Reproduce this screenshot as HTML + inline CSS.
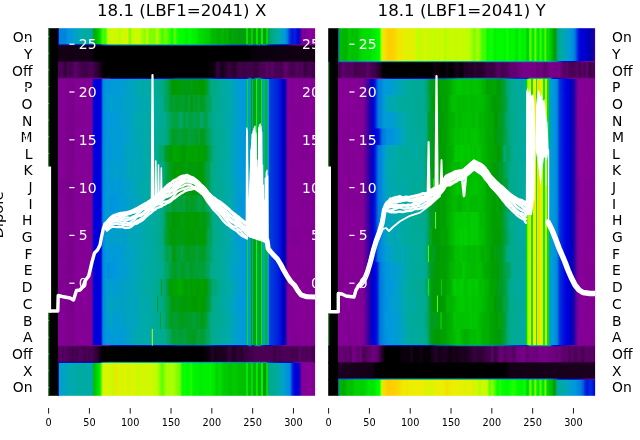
<!DOCTYPE html><html><head><meta charset="utf-8"><title>Dipole heatmap</title><style>html,body{margin:0;padding:0;background:#fff;}body{width:640px;height:440px;overflow:hidden;}svg{display:block;}</style></head><body><svg width="640" height="440" viewBox="0 0 640 440" font-family="'DejaVu Sans','Liberation Sans',sans-serif"><defs><clipPath id="cL"><rect x="48.2" y="28.2" width="266.9" height="367.6"/></clipPath><clipPath id="cR"><rect x="328.2" y="28.2" width="266.8" height="367.6"/></clipPath></defs><defs><linearGradient id="g1"><stop offset="0.000" stop-color="#000000"/><stop offset="0.009" stop-color="#000000"/><stop offset="0.018" stop-color="#000000"/><stop offset="0.028" stop-color="#000000"/><stop offset="0.037" stop-color="#000000"/><stop offset="0.037" stop-color="#0085dd"/><stop offset="0.046" stop-color="#0085dd"/><stop offset="0.055" stop-color="#0085dd"/><stop offset="0.064" stop-color="#0082dd"/><stop offset="0.073" stop-color="#0095dd"/><stop offset="0.083" stop-color="#0095dd"/><stop offset="0.089" stop-color="#0098dd"/><stop offset="0.098" stop-color="#00a0c7"/><stop offset="0.108" stop-color="#00a0c7"/><stop offset="0.119" stop-color="#00aaab"/><stop offset="0.128" stop-color="#00aaab"/><stop offset="0.138" stop-color="#00aa9b"/><stop offset="0.147" stop-color="#00aaa8"/><stop offset="0.156" stop-color="#00aaa0"/><stop offset="0.164" stop-color="#00aaa3"/><stop offset="0.172" stop-color="#00a700"/><stop offset="0.181" stop-color="#00ba00"/><stop offset="0.190" stop-color="#00cc00"/><stop offset="0.194" stop-color="#00dc00"/><stop offset="0.205" stop-color="#49ff00"/><stop offset="0.214" stop-color="#2cff00"/><stop offset="0.224" stop-color="#c4fc00"/><stop offset="0.232" stop-color="#c4fc00"/><stop offset="0.241" stop-color="#d8f500"/><stop offset="0.250" stop-color="#ccf900"/><stop offset="0.259" stop-color="#c8fb00"/><stop offset="0.268" stop-color="#b0ff00"/><stop offset="0.277" stop-color="#d0f800"/><stop offset="0.288" stop-color="#d0f800"/><stop offset="0.297" stop-color="#d8f500"/><stop offset="0.306" stop-color="#75ff00"/><stop offset="0.315" stop-color="#bcff00"/><stop offset="0.324" stop-color="#c8fb00"/><stop offset="0.334" stop-color="#ccf900"/><stop offset="0.344" stop-color="#c4fc00"/><stop offset="0.353" stop-color="#a1ff00"/><stop offset="0.362" stop-color="#84ff00"/><stop offset="0.371" stop-color="#c4fc00"/><stop offset="0.381" stop-color="#75ff00"/><stop offset="0.390" stop-color="#84ff00"/><stop offset="0.399" stop-color="#75ff00"/><stop offset="0.408" stop-color="#bcff00"/><stop offset="0.419" stop-color="#75ff00"/><stop offset="0.428" stop-color="#3bff00"/><stop offset="0.437" stop-color="#75ff00"/><stop offset="0.446" stop-color="#58ff00"/><stop offset="0.456" stop-color="#2cff00"/><stop offset="0.465" stop-color="#00ff00"/><stop offset="0.474" stop-color="#67ff00"/><stop offset="0.483" stop-color="#0fff00"/><stop offset="0.494" stop-color="#00ff00"/><stop offset="0.503" stop-color="#00ff00"/><stop offset="0.512" stop-color="#00fa00"/><stop offset="0.521" stop-color="#00f400"/><stop offset="0.531" stop-color="#00ff00"/><stop offset="0.540" stop-color="#00f400"/><stop offset="0.550" stop-color="#00f200"/><stop offset="0.559" stop-color="#00ea00"/><stop offset="0.568" stop-color="#00dc00"/><stop offset="0.578" stop-color="#00dc00"/><stop offset="0.587" stop-color="#00d400"/><stop offset="0.596" stop-color="#00d200"/><stop offset="0.606" stop-color="#00ca00"/><stop offset="0.615" stop-color="#00b700"/><stop offset="0.625" stop-color="#00ba00"/><stop offset="0.634" stop-color="#00b200"/><stop offset="0.643" stop-color="#00af00"/><stop offset="0.652" stop-color="#00ba00"/><stop offset="0.662" stop-color="#00ac00"/><stop offset="0.672" stop-color="#00b400"/><stop offset="0.681" stop-color="#009f00"/><stop offset="0.690" stop-color="#00aa00"/><stop offset="0.699" stop-color="#009d1d"/><stop offset="0.708" stop-color="#00a400"/><stop offset="0.717" stop-color="#009f00"/><stop offset="0.727" stop-color="#009d1d"/><stop offset="0.737" stop-color="#009f00"/><stop offset="0.741" stop-color="#009f00"/><stop offset="0.743" stop-color="#00e400"/><stop offset="0.747" stop-color="#00e400"/><stop offset="0.749" stop-color="#009f00"/><stop offset="0.760" stop-color="#00a700"/><stop offset="0.762" stop-color="#00dc00"/><stop offset="0.765" stop-color="#00dc00"/><stop offset="0.767" stop-color="#009f00"/><stop offset="0.779" stop-color="#00a700"/><stop offset="0.780" stop-color="#00ea00"/><stop offset="0.784" stop-color="#00ea00"/><stop offset="0.786" stop-color="#009f00"/><stop offset="0.797" stop-color="#00a700"/><stop offset="0.799" stop-color="#00f200"/><stop offset="0.803" stop-color="#00f200"/><stop offset="0.805" stop-color="#009d1d"/><stop offset="0.816" stop-color="#009a00"/><stop offset="0.818" stop-color="#00dc00"/><stop offset="0.822" stop-color="#00dc00"/><stop offset="0.824" stop-color="#00a353"/><stop offset="0.833" stop-color="#00a773"/><stop offset="0.842" stop-color="#00aa88"/><stop offset="0.850" stop-color="#00aa95"/><stop offset="0.859" stop-color="#00aaa5"/><stop offset="0.868" stop-color="#00aaab"/><stop offset="0.877" stop-color="#00a0c7"/><stop offset="0.887" stop-color="#0098dd"/><stop offset="0.896" stop-color="#007ddd"/><stop offset="0.906" stop-color="#002fdd"/><stop offset="0.915" stop-color="#0013dd"/><stop offset="0.924" stop-color="#0025dd"/><stop offset="0.936" stop-color="#0000dd"/><stop offset="0.945" stop-color="#2d00a4"/><stop offset="0.951" stop-color="#870098"/><stop offset="0.960" stop-color="#6d009c"/><stop offset="0.969" stop-color="#83009a"/><stop offset="0.978" stop-color="#870098"/><stop offset="0.988" stop-color="#860097"/><stop offset="0.997" stop-color="#850096"/><stop offset="1.000" stop-color="#850096"/></linearGradient><linearGradient id="g2"><stop offset="0.000" stop-color="#000000"/><stop offset="0.037" stop-color="#000000"/><stop offset="0.037" stop-color="#130015"/><stop offset="0.157" stop-color="#130015"/><stop offset="0.175" stop-color="#000000"/><stop offset="0.756" stop-color="#000000"/><stop offset="0.764" stop-color="#09000b"/><stop offset="1.000" stop-color="#130015"/></linearGradient><linearGradient id="g3"><stop offset="0.000" stop-color="#000000"/><stop offset="0.009" stop-color="#000000"/><stop offset="0.018" stop-color="#000000"/><stop offset="0.028" stop-color="#000000"/><stop offset="0.037" stop-color="#000000"/><stop offset="0.037" stop-color="#4b0055"/><stop offset="0.046" stop-color="#4b0055"/><stop offset="0.055" stop-color="#4b0055"/><stop offset="0.064" stop-color="#2f0035"/><stop offset="0.073" stop-color="#4b0055"/><stop offset="0.083" stop-color="#41004b"/><stop offset="0.092" stop-color="#4b0055"/><stop offset="0.101" stop-color="#5d006b"/><stop offset="0.110" stop-color="#540060"/><stop offset="0.119" stop-color="#4b0055"/><stop offset="0.129" stop-color="#41004b"/><stop offset="0.138" stop-color="#41004b"/><stop offset="0.147" stop-color="#41004b"/><stop offset="0.157" stop-color="#4b0055"/><stop offset="0.166" stop-color="#4b0055"/><stop offset="0.175" stop-color="#380040"/><stop offset="0.184" stop-color="#2f0035"/><stop offset="0.194" stop-color="#1c0020"/><stop offset="0.203" stop-color="#09000b"/><stop offset="0.213" stop-color="#000000"/><stop offset="0.222" stop-color="#000000"/><stop offset="0.231" stop-color="#000000"/><stop offset="0.240" stop-color="#000000"/><stop offset="0.250" stop-color="#000000"/><stop offset="0.259" stop-color="#000000"/><stop offset="0.268" stop-color="#000000"/><stop offset="0.277" stop-color="#000000"/><stop offset="0.286" stop-color="#000000"/><stop offset="0.295" stop-color="#000000"/><stop offset="0.305" stop-color="#000000"/><stop offset="0.314" stop-color="#000000"/><stop offset="0.323" stop-color="#000000"/><stop offset="0.332" stop-color="#000000"/><stop offset="0.341" stop-color="#000000"/><stop offset="0.351" stop-color="#000000"/><stop offset="0.360" stop-color="#000000"/><stop offset="0.369" stop-color="#000000"/><stop offset="0.378" stop-color="#000000"/><stop offset="0.387" stop-color="#000000"/><stop offset="0.396" stop-color="#000000"/><stop offset="0.406" stop-color="#000000"/><stop offset="0.415" stop-color="#000000"/><stop offset="0.424" stop-color="#000000"/><stop offset="0.433" stop-color="#000000"/><stop offset="0.442" stop-color="#000000"/><stop offset="0.451" stop-color="#000000"/><stop offset="0.461" stop-color="#000000"/><stop offset="0.470" stop-color="#000000"/><stop offset="0.479" stop-color="#000000"/><stop offset="0.488" stop-color="#000000"/><stop offset="0.497" stop-color="#000000"/><stop offset="0.507" stop-color="#000000"/><stop offset="0.516" stop-color="#000000"/><stop offset="0.525" stop-color="#000000"/><stop offset="0.534" stop-color="#000000"/><stop offset="0.543" stop-color="#000000"/><stop offset="0.552" stop-color="#000000"/><stop offset="0.562" stop-color="#000000"/><stop offset="0.571" stop-color="#000000"/><stop offset="0.580" stop-color="#000000"/><stop offset="0.587" stop-color="#000000"/><stop offset="0.597" stop-color="#000000"/><stop offset="0.606" stop-color="#09000b"/><stop offset="0.615" stop-color="#09000b"/><stop offset="0.625" stop-color="#130015"/><stop offset="0.634" stop-color="#380040"/><stop offset="0.643" stop-color="#25002b"/><stop offset="0.652" stop-color="#130015"/><stop offset="0.662" stop-color="#25002b"/><stop offset="0.671" stop-color="#2f0035"/><stop offset="0.680" stop-color="#380040"/><stop offset="0.689" stop-color="#2f0035"/><stop offset="0.698" stop-color="#25002b"/><stop offset="0.708" stop-color="#380040"/><stop offset="0.717" stop-color="#41004b"/><stop offset="0.726" stop-color="#41004b"/><stop offset="0.735" stop-color="#380040"/><stop offset="0.744" stop-color="#41004b"/><stop offset="0.756" stop-color="#41004b"/><stop offset="0.765" stop-color="#41004b"/><stop offset="0.774" stop-color="#380040"/><stop offset="0.784" stop-color="#380040"/><stop offset="0.793" stop-color="#4b0055"/><stop offset="0.802" stop-color="#4b0055"/><stop offset="0.811" stop-color="#4b0055"/><stop offset="0.820" stop-color="#5d006b"/><stop offset="0.830" stop-color="#4b0055"/><stop offset="0.839" stop-color="#5d006b"/><stop offset="0.848" stop-color="#4b0055"/><stop offset="0.857" stop-color="#4b0055"/><stop offset="0.866" stop-color="#4b0055"/><stop offset="0.875" stop-color="#41004b"/><stop offset="0.885" stop-color="#5d006b"/><stop offset="0.894" stop-color="#5d006b"/><stop offset="0.906" stop-color="#4b0055"/><stop offset="0.915" stop-color="#41004b"/><stop offset="0.924" stop-color="#4b0055"/><stop offset="0.933" stop-color="#540060"/><stop offset="0.943" stop-color="#4b0055"/><stop offset="0.952" stop-color="#540060"/><stop offset="0.961" stop-color="#380040"/><stop offset="0.970" stop-color="#41004b"/><stop offset="0.979" stop-color="#4b0055"/><stop offset="0.989" stop-color="#41004b"/><stop offset="1.000" stop-color="#41004b"/></linearGradient><linearGradient id="g4"><stop offset="0.000" stop-color="#000000"/><stop offset="0.009" stop-color="#000000"/><stop offset="0.018" stop-color="#000000"/><stop offset="0.028" stop-color="#000000"/><stop offset="0.037" stop-color="#000000"/><stop offset="0.037" stop-color="#830094"/><stop offset="0.046" stop-color="#810092"/><stop offset="0.055" stop-color="#830094"/><stop offset="0.063" stop-color="#820093"/><stop offset="0.069" stop-color="#7f0090"/><stop offset="0.072" stop-color="#7b008c"/><stop offset="0.081" stop-color="#7d008e"/><stop offset="0.090" stop-color="#7b008c"/><stop offset="0.099" stop-color="#7b008c"/><stop offset="0.100" stop-color="#850096"/><stop offset="0.110" stop-color="#830094"/><stop offset="0.119" stop-color="#820093"/><stop offset="0.128" stop-color="#830094"/><stop offset="0.137" stop-color="#830094"/><stop offset="0.145" stop-color="#850096"/><stop offset="0.153" stop-color="#820093"/><stop offset="0.164" stop-color="#830094"/><stop offset="0.170" stop-color="#0000dd"/><stop offset="0.179" stop-color="#0000dd"/><stop offset="0.188" stop-color="#0000dd"/><stop offset="0.198" stop-color="#0000dd"/><stop offset="0.205" stop-color="#0088dd"/><stop offset="0.217" stop-color="#0098dd"/><stop offset="0.226" stop-color="#0095dd"/><stop offset="0.235" stop-color="#0098dd"/><stop offset="0.244" stop-color="#009cd3"/><stop offset="0.253" stop-color="#009bd7"/><stop offset="0.262" stop-color="#009adb"/><stop offset="0.272" stop-color="#009fcb"/><stop offset="0.277" stop-color="#009cd3"/><stop offset="0.286" stop-color="#009cd3"/><stop offset="0.295" stop-color="#00a0c7"/><stop offset="0.304" stop-color="#00a2c3"/><stop offset="0.313" stop-color="#00a4bb"/><stop offset="0.321" stop-color="#00a4bb"/><stop offset="0.331" stop-color="#00a7b3"/><stop offset="0.340" stop-color="#00a8af"/><stop offset="0.349" stop-color="#00aaa8"/><stop offset="0.358" stop-color="#00aaa3"/><stop offset="0.367" stop-color="#00aaab"/><stop offset="0.377" stop-color="#00aaa3"/><stop offset="0.381" stop-color="#00aaa3"/><stop offset="0.391" stop-color="#00aa95"/><stop offset="0.400" stop-color="#00aa95"/><stop offset="0.409" stop-color="#00aa93"/><stop offset="0.418" stop-color="#00aa8d"/><stop offset="0.430" stop-color="#00a97d"/><stop offset="0.439" stop-color="#00a668"/><stop offset="0.448" stop-color="#00a353"/><stop offset="0.458" stop-color="#009e28"/><stop offset="0.464" stop-color="#009a00"/><stop offset="0.473" stop-color="#009a00"/><stop offset="0.482" stop-color="#009c00"/><stop offset="0.491" stop-color="#009a08"/><stop offset="0.501" stop-color="#009b13"/><stop offset="0.510" stop-color="#009a08"/><stop offset="0.519" stop-color="#009b13"/><stop offset="0.528" stop-color="#009a08"/><stop offset="0.537" stop-color="#009d1d"/><stop offset="0.546" stop-color="#009a08"/><stop offset="0.556" stop-color="#009c00"/><stop offset="0.565" stop-color="#009a08"/><stop offset="0.574" stop-color="#009a00"/><stop offset="0.584" stop-color="#009a00"/><stop offset="0.593" stop-color="#009d1d"/><stop offset="0.602" stop-color="#00a353"/><stop offset="0.611" stop-color="#00aa88"/><stop offset="0.617" stop-color="#00aa88"/><stop offset="0.627" stop-color="#00a97d"/><stop offset="0.636" stop-color="#00aa95"/><stop offset="0.645" stop-color="#00aa95"/><stop offset="0.654" stop-color="#00aaa5"/><stop offset="0.666" stop-color="#00aaa3"/><stop offset="0.675" stop-color="#00a7b3"/><stop offset="0.685" stop-color="#00aaa5"/><stop offset="0.694" stop-color="#00a3bf"/><stop offset="0.704" stop-color="#009fcb"/><stop offset="0.713" stop-color="#009cd3"/><stop offset="0.722" stop-color="#009adb"/><stop offset="0.734" stop-color="#0098dd"/><stop offset="0.739" stop-color="#0098dd"/><stop offset="0.743" stop-color="#0098dd"/><stop offset="0.743" stop-color="#00e400"/><stop offset="0.747" stop-color="#00e400"/><stop offset="0.747" stop-color="#0098dd"/><stop offset="0.758" stop-color="#00a3bf"/><stop offset="0.758" stop-color="#009f00"/><stop offset="0.764" stop-color="#009f00"/><stop offset="0.764" stop-color="#00aaa3"/><stop offset="0.767" stop-color="#00aaa3"/><stop offset="0.767" stop-color="#00a700"/><stop offset="0.779" stop-color="#00a700"/><stop offset="0.779" stop-color="#00ff00"/><stop offset="0.783" stop-color="#00ff00"/><stop offset="0.783" stop-color="#00a353"/><stop offset="0.792" stop-color="#009f33"/><stop offset="0.797" stop-color="#009d1d"/><stop offset="0.797" stop-color="#00f200"/><stop offset="0.801" stop-color="#00f200"/><stop offset="0.801" stop-color="#00aaa3"/><stop offset="0.810" stop-color="#00a8af"/><stop offset="0.814" stop-color="#00a7b3"/><stop offset="0.814" stop-color="#00bc00"/><stop offset="0.818" stop-color="#00bc00"/><stop offset="0.818" stop-color="#009fcb"/><stop offset="0.827" stop-color="#0098dd"/><stop offset="0.829" stop-color="#0041dd"/><stop offset="0.838" stop-color="#0038dd"/><stop offset="0.848" stop-color="#002fdd"/><stop offset="0.857" stop-color="#0025dd"/><stop offset="0.868" stop-color="#0013dd"/><stop offset="0.878" stop-color="#0000cd"/><stop offset="0.887" stop-color="#0000b1"/><stop offset="0.898" stop-color="#870098"/><stop offset="0.902" stop-color="#850096"/><stop offset="0.911" stop-color="#820093"/><stop offset="0.921" stop-color="#850096"/><stop offset="0.930" stop-color="#850096"/><stop offset="0.939" stop-color="#850096"/><stop offset="0.948" stop-color="#820093"/><stop offset="0.957" stop-color="#850096"/><stop offset="0.966" stop-color="#850096"/><stop offset="0.976" stop-color="#850096"/><stop offset="0.985" stop-color="#830094"/><stop offset="0.994" stop-color="#860097"/><stop offset="1.000" stop-color="#850096"/></linearGradient><linearGradient id="g5"><stop offset="0.000" stop-color="#000000"/><stop offset="0.009" stop-color="#000000"/><stop offset="0.018" stop-color="#000000"/><stop offset="0.028" stop-color="#000000"/><stop offset="0.037" stop-color="#000000"/><stop offset="0.037" stop-color="#830094"/><stop offset="0.046" stop-color="#830094"/><stop offset="0.055" stop-color="#830094"/><stop offset="0.063" stop-color="#820093"/><stop offset="0.069" stop-color="#7f0090"/><stop offset="0.072" stop-color="#7b008c"/><stop offset="0.081" stop-color="#7f0090"/><stop offset="0.090" stop-color="#7b008c"/><stop offset="0.099" stop-color="#7b008c"/><stop offset="0.100" stop-color="#850096"/><stop offset="0.110" stop-color="#860097"/><stop offset="0.119" stop-color="#820093"/><stop offset="0.128" stop-color="#830094"/><stop offset="0.137" stop-color="#830094"/><stop offset="0.145" stop-color="#850096"/><stop offset="0.153" stop-color="#820093"/><stop offset="0.164" stop-color="#830094"/><stop offset="0.170" stop-color="#0000dd"/><stop offset="0.179" stop-color="#0000dd"/><stop offset="0.188" stop-color="#0000dd"/><stop offset="0.198" stop-color="#0000dd"/><stop offset="0.205" stop-color="#0088dd"/><stop offset="0.217" stop-color="#009bd7"/><stop offset="0.226" stop-color="#009bd7"/><stop offset="0.235" stop-color="#009ecf"/><stop offset="0.244" stop-color="#009ecf"/><stop offset="0.253" stop-color="#009ecf"/><stop offset="0.262" stop-color="#009ecf"/><stop offset="0.272" stop-color="#009adb"/><stop offset="0.277" stop-color="#009fcb"/><stop offset="0.286" stop-color="#00a3bf"/><stop offset="0.295" stop-color="#00a0c7"/><stop offset="0.304" stop-color="#00a0c7"/><stop offset="0.313" stop-color="#00a0c7"/><stop offset="0.321" stop-color="#00a4bb"/><stop offset="0.331" stop-color="#00a4bb"/><stop offset="0.340" stop-color="#00a8af"/><stop offset="0.349" stop-color="#00a7b3"/><stop offset="0.358" stop-color="#00a8af"/><stop offset="0.367" stop-color="#00a8af"/><stop offset="0.377" stop-color="#00aaa8"/><stop offset="0.381" stop-color="#00aaa3"/><stop offset="0.391" stop-color="#00aa98"/><stop offset="0.400" stop-color="#00aaa0"/><stop offset="0.409" stop-color="#00aa95"/><stop offset="0.418" stop-color="#00aa98"/><stop offset="0.430" stop-color="#00aa8b"/><stop offset="0.439" stop-color="#00a55d"/><stop offset="0.448" stop-color="#00a55d"/><stop offset="0.458" stop-color="#009e28"/><stop offset="0.464" stop-color="#009e28"/><stop offset="0.473" stop-color="#009f33"/><stop offset="0.482" stop-color="#009d1d"/><stop offset="0.491" stop-color="#009e28"/><stop offset="0.501" stop-color="#009f33"/><stop offset="0.510" stop-color="#009e28"/><stop offset="0.519" stop-color="#009b13"/><stop offset="0.528" stop-color="#00a13d"/><stop offset="0.537" stop-color="#009a08"/><stop offset="0.546" stop-color="#009f33"/><stop offset="0.556" stop-color="#009d1d"/><stop offset="0.565" stop-color="#00a13d"/><stop offset="0.574" stop-color="#009b13"/><stop offset="0.584" stop-color="#009e28"/><stop offset="0.593" stop-color="#00a248"/><stop offset="0.602" stop-color="#00a55d"/><stop offset="0.611" stop-color="#00a668"/><stop offset="0.617" stop-color="#00aa8b"/><stop offset="0.627" stop-color="#00aa8d"/><stop offset="0.636" stop-color="#00aa95"/><stop offset="0.645" stop-color="#00aa9b"/><stop offset="0.654" stop-color="#00aa9b"/><stop offset="0.666" stop-color="#00aaa3"/><stop offset="0.675" stop-color="#00aaa5"/><stop offset="0.685" stop-color="#00aaab"/><stop offset="0.694" stop-color="#00a3bf"/><stop offset="0.704" stop-color="#009fcb"/><stop offset="0.713" stop-color="#009ecf"/><stop offset="0.722" stop-color="#009bd7"/><stop offset="0.734" stop-color="#0098dd"/><stop offset="0.739" stop-color="#0098dd"/><stop offset="0.743" stop-color="#0098dd"/><stop offset="0.743" stop-color="#00e400"/><stop offset="0.747" stop-color="#00e400"/><stop offset="0.747" stop-color="#0098dd"/><stop offset="0.758" stop-color="#00a3bf"/><stop offset="0.758" stop-color="#009f00"/><stop offset="0.764" stop-color="#009f00"/><stop offset="0.764" stop-color="#00aaa3"/><stop offset="0.767" stop-color="#00aaa3"/><stop offset="0.767" stop-color="#00a700"/><stop offset="0.779" stop-color="#00a700"/><stop offset="0.779" stop-color="#00ff00"/><stop offset="0.783" stop-color="#00ff00"/><stop offset="0.783" stop-color="#00a353"/><stop offset="0.792" stop-color="#009f33"/><stop offset="0.797" stop-color="#009d1d"/><stop offset="0.797" stop-color="#00f200"/><stop offset="0.801" stop-color="#00f200"/><stop offset="0.801" stop-color="#00aaa3"/><stop offset="0.810" stop-color="#00a8af"/><stop offset="0.814" stop-color="#00a7b3"/><stop offset="0.814" stop-color="#00bc00"/><stop offset="0.818" stop-color="#00bc00"/><stop offset="0.818" stop-color="#009fcb"/><stop offset="0.827" stop-color="#0098dd"/><stop offset="0.829" stop-color="#0041dd"/><stop offset="0.838" stop-color="#0038dd"/><stop offset="0.848" stop-color="#002fdd"/><stop offset="0.857" stop-color="#0025dd"/><stop offset="0.868" stop-color="#0013dd"/><stop offset="0.878" stop-color="#0000cd"/><stop offset="0.887" stop-color="#0000b1"/><stop offset="0.898" stop-color="#870098"/><stop offset="0.902" stop-color="#850096"/><stop offset="0.911" stop-color="#830094"/><stop offset="0.921" stop-color="#850096"/><stop offset="0.930" stop-color="#830094"/><stop offset="0.939" stop-color="#830094"/><stop offset="0.948" stop-color="#820093"/><stop offset="0.957" stop-color="#830094"/><stop offset="0.966" stop-color="#830094"/><stop offset="0.976" stop-color="#860097"/><stop offset="0.985" stop-color="#860097"/><stop offset="0.994" stop-color="#860097"/><stop offset="1.000" stop-color="#850096"/></linearGradient><linearGradient id="g6"><stop offset="0.000" stop-color="#000000"/><stop offset="0.009" stop-color="#000000"/><stop offset="0.018" stop-color="#000000"/><stop offset="0.028" stop-color="#000000"/><stop offset="0.037" stop-color="#000000"/><stop offset="0.037" stop-color="#830094"/><stop offset="0.046" stop-color="#830094"/><stop offset="0.055" stop-color="#830094"/><stop offset="0.063" stop-color="#820093"/><stop offset="0.069" stop-color="#7f0090"/><stop offset="0.072" stop-color="#7b008c"/><stop offset="0.081" stop-color="#79008a"/><stop offset="0.090" stop-color="#7a008b"/><stop offset="0.099" stop-color="#7b008c"/><stop offset="0.100" stop-color="#850096"/><stop offset="0.110" stop-color="#7f0090"/><stop offset="0.119" stop-color="#830094"/><stop offset="0.128" stop-color="#830094"/><stop offset="0.137" stop-color="#850096"/><stop offset="0.145" stop-color="#850096"/><stop offset="0.153" stop-color="#820093"/><stop offset="0.164" stop-color="#830094"/><stop offset="0.170" stop-color="#0000dd"/><stop offset="0.179" stop-color="#0000dd"/><stop offset="0.188" stop-color="#0000dd"/><stop offset="0.198" stop-color="#0000dd"/><stop offset="0.205" stop-color="#0088dd"/><stop offset="0.217" stop-color="#0098dd"/><stop offset="0.226" stop-color="#0098dd"/><stop offset="0.235" stop-color="#0098dd"/><stop offset="0.244" stop-color="#009adb"/><stop offset="0.253" stop-color="#009cd3"/><stop offset="0.262" stop-color="#009adb"/><stop offset="0.272" stop-color="#009fcb"/><stop offset="0.277" stop-color="#009cd3"/><stop offset="0.286" stop-color="#00a2c3"/><stop offset="0.295" stop-color="#009ecf"/><stop offset="0.304" stop-color="#00a3bf"/><stop offset="0.313" stop-color="#00a3bf"/><stop offset="0.321" stop-color="#00a4bb"/><stop offset="0.331" stop-color="#00aaab"/><stop offset="0.340" stop-color="#00aaab"/><stop offset="0.349" stop-color="#00a8af"/><stop offset="0.358" stop-color="#00aaab"/><stop offset="0.367" stop-color="#00aaa8"/><stop offset="0.377" stop-color="#00aa9d"/><stop offset="0.381" stop-color="#00aaa3"/><stop offset="0.391" stop-color="#00aaa5"/><stop offset="0.400" stop-color="#00aaa0"/><stop offset="0.409" stop-color="#00aa9b"/><stop offset="0.418" stop-color="#00aa93"/><stop offset="0.430" stop-color="#00aa90"/><stop offset="0.439" stop-color="#00aa8d"/><stop offset="0.448" stop-color="#00a773"/><stop offset="0.458" stop-color="#00a55d"/><stop offset="0.464" stop-color="#00a248"/><stop offset="0.473" stop-color="#00a13d"/><stop offset="0.482" stop-color="#00a13d"/><stop offset="0.491" stop-color="#00a55d"/><stop offset="0.501" stop-color="#00a668"/><stop offset="0.510" stop-color="#009f33"/><stop offset="0.519" stop-color="#00a55d"/><stop offset="0.528" stop-color="#00a13d"/><stop offset="0.537" stop-color="#00a13d"/><stop offset="0.546" stop-color="#00a353"/><stop offset="0.556" stop-color="#00a248"/><stop offset="0.565" stop-color="#00a13d"/><stop offset="0.574" stop-color="#00a773"/><stop offset="0.584" stop-color="#00a248"/><stop offset="0.593" stop-color="#00a248"/><stop offset="0.602" stop-color="#00a773"/><stop offset="0.611" stop-color="#00a97d"/><stop offset="0.617" stop-color="#00aa8d"/><stop offset="0.627" stop-color="#00aa93"/><stop offset="0.636" stop-color="#00aa93"/><stop offset="0.645" stop-color="#00aa9d"/><stop offset="0.654" stop-color="#00aa98"/><stop offset="0.666" stop-color="#00aaa3"/><stop offset="0.675" stop-color="#00a8af"/><stop offset="0.685" stop-color="#00a7b3"/><stop offset="0.694" stop-color="#00a6b7"/><stop offset="0.704" stop-color="#009fcb"/><stop offset="0.713" stop-color="#009fcb"/><stop offset="0.722" stop-color="#009bd7"/><stop offset="0.734" stop-color="#0098dd"/><stop offset="0.739" stop-color="#0098dd"/><stop offset="0.743" stop-color="#0098dd"/><stop offset="0.743" stop-color="#00e400"/><stop offset="0.747" stop-color="#00e400"/><stop offset="0.747" stop-color="#0098dd"/><stop offset="0.758" stop-color="#00a3bf"/><stop offset="0.758" stop-color="#009f00"/><stop offset="0.764" stop-color="#009f00"/><stop offset="0.764" stop-color="#00aaa3"/><stop offset="0.767" stop-color="#00aaa3"/><stop offset="0.767" stop-color="#00a700"/><stop offset="0.779" stop-color="#00a700"/><stop offset="0.779" stop-color="#00ff00"/><stop offset="0.783" stop-color="#00ff00"/><stop offset="0.783" stop-color="#00a353"/><stop offset="0.792" stop-color="#009f33"/><stop offset="0.797" stop-color="#009d1d"/><stop offset="0.797" stop-color="#00f200"/><stop offset="0.801" stop-color="#00f200"/><stop offset="0.801" stop-color="#00aaa3"/><stop offset="0.810" stop-color="#00a8af"/><stop offset="0.814" stop-color="#00a7b3"/><stop offset="0.814" stop-color="#00bc00"/><stop offset="0.818" stop-color="#00bc00"/><stop offset="0.818" stop-color="#009fcb"/><stop offset="0.827" stop-color="#0098dd"/><stop offset="0.829" stop-color="#0041dd"/><stop offset="0.838" stop-color="#0038dd"/><stop offset="0.848" stop-color="#002fdd"/><stop offset="0.857" stop-color="#0025dd"/><stop offset="0.868" stop-color="#0013dd"/><stop offset="0.878" stop-color="#0000cd"/><stop offset="0.887" stop-color="#0000b1"/><stop offset="0.898" stop-color="#870098"/><stop offset="0.902" stop-color="#850096"/><stop offset="0.911" stop-color="#850096"/><stop offset="0.921" stop-color="#830094"/><stop offset="0.930" stop-color="#820093"/><stop offset="0.939" stop-color="#820093"/><stop offset="0.948" stop-color="#830094"/><stop offset="0.957" stop-color="#830094"/><stop offset="0.966" stop-color="#860097"/><stop offset="0.976" stop-color="#850096"/><stop offset="0.985" stop-color="#830094"/><stop offset="0.994" stop-color="#830094"/><stop offset="1.000" stop-color="#850096"/></linearGradient><linearGradient id="g7"><stop offset="0.000" stop-color="#000000"/><stop offset="0.009" stop-color="#000000"/><stop offset="0.018" stop-color="#000000"/><stop offset="0.028" stop-color="#000000"/><stop offset="0.037" stop-color="#000000"/><stop offset="0.037" stop-color="#830094"/><stop offset="0.046" stop-color="#830094"/><stop offset="0.055" stop-color="#820093"/><stop offset="0.063" stop-color="#820093"/><stop offset="0.069" stop-color="#7f0090"/><stop offset="0.072" stop-color="#7b008c"/><stop offset="0.081" stop-color="#7d008e"/><stop offset="0.090" stop-color="#770088"/><stop offset="0.099" stop-color="#7b008c"/><stop offset="0.100" stop-color="#850096"/><stop offset="0.110" stop-color="#860097"/><stop offset="0.119" stop-color="#860097"/><stop offset="0.128" stop-color="#820093"/><stop offset="0.137" stop-color="#830094"/><stop offset="0.145" stop-color="#850096"/><stop offset="0.153" stop-color="#820093"/><stop offset="0.164" stop-color="#830094"/><stop offset="0.170" stop-color="#0000dd"/><stop offset="0.179" stop-color="#0000dd"/><stop offset="0.188" stop-color="#0000dd"/><stop offset="0.198" stop-color="#0000dd"/><stop offset="0.205" stop-color="#0088dd"/><stop offset="0.217" stop-color="#0098dd"/><stop offset="0.226" stop-color="#009adb"/><stop offset="0.235" stop-color="#009bd7"/><stop offset="0.244" stop-color="#009bd7"/><stop offset="0.253" stop-color="#009ecf"/><stop offset="0.262" stop-color="#009adb"/><stop offset="0.272" stop-color="#009bd7"/><stop offset="0.277" stop-color="#009cd3"/><stop offset="0.286" stop-color="#00a2c3"/><stop offset="0.295" stop-color="#009cd3"/><stop offset="0.304" stop-color="#00a2c3"/><stop offset="0.313" stop-color="#00a3bf"/><stop offset="0.321" stop-color="#00a4bb"/><stop offset="0.331" stop-color="#00a6b7"/><stop offset="0.340" stop-color="#00aaa8"/><stop offset="0.349" stop-color="#00a7b3"/><stop offset="0.358" stop-color="#00aaa8"/><stop offset="0.367" stop-color="#00aaa8"/><stop offset="0.377" stop-color="#00aaa8"/><stop offset="0.381" stop-color="#00aaa3"/><stop offset="0.391" stop-color="#00aa9b"/><stop offset="0.400" stop-color="#00aa9b"/><stop offset="0.409" stop-color="#00aa95"/><stop offset="0.418" stop-color="#00aa90"/><stop offset="0.430" stop-color="#00aa8b"/><stop offset="0.439" stop-color="#00aa88"/><stop offset="0.448" stop-color="#00a773"/><stop offset="0.458" stop-color="#00a248"/><stop offset="0.464" stop-color="#009d1d"/><stop offset="0.473" stop-color="#009e28"/><stop offset="0.482" stop-color="#009e28"/><stop offset="0.491" stop-color="#00a13d"/><stop offset="0.501" stop-color="#009f33"/><stop offset="0.510" stop-color="#009e28"/><stop offset="0.519" stop-color="#009e28"/><stop offset="0.528" stop-color="#00a13d"/><stop offset="0.537" stop-color="#009f33"/><stop offset="0.546" stop-color="#009f33"/><stop offset="0.556" stop-color="#009d1d"/><stop offset="0.565" stop-color="#00a13d"/><stop offset="0.574" stop-color="#009b13"/><stop offset="0.584" stop-color="#009d1d"/><stop offset="0.593" stop-color="#00a13d"/><stop offset="0.602" stop-color="#00a55d"/><stop offset="0.611" stop-color="#00a773"/><stop offset="0.617" stop-color="#00aa8b"/><stop offset="0.627" stop-color="#00aa8d"/><stop offset="0.636" stop-color="#00aa98"/><stop offset="0.645" stop-color="#00aa95"/><stop offset="0.654" stop-color="#00aa93"/><stop offset="0.666" stop-color="#00aaa3"/><stop offset="0.675" stop-color="#00aaab"/><stop offset="0.685" stop-color="#00a8af"/><stop offset="0.694" stop-color="#00a2c3"/><stop offset="0.704" stop-color="#009fcb"/><stop offset="0.713" stop-color="#009cd3"/><stop offset="0.722" stop-color="#009cd3"/><stop offset="0.734" stop-color="#0098dd"/><stop offset="0.739" stop-color="#0098dd"/><stop offset="0.743" stop-color="#0098dd"/><stop offset="0.743" stop-color="#00e400"/><stop offset="0.747" stop-color="#00e400"/><stop offset="0.747" stop-color="#0098dd"/><stop offset="0.758" stop-color="#00a3bf"/><stop offset="0.758" stop-color="#009f00"/><stop offset="0.764" stop-color="#009f00"/><stop offset="0.764" stop-color="#00aaa3"/><stop offset="0.767" stop-color="#00aaa3"/><stop offset="0.767" stop-color="#00a700"/><stop offset="0.779" stop-color="#00a700"/><stop offset="0.779" stop-color="#00ff00"/><stop offset="0.783" stop-color="#00ff00"/><stop offset="0.783" stop-color="#00a353"/><stop offset="0.792" stop-color="#009f33"/><stop offset="0.797" stop-color="#009d1d"/><stop offset="0.797" stop-color="#00f200"/><stop offset="0.801" stop-color="#00f200"/><stop offset="0.801" stop-color="#00aaa3"/><stop offset="0.810" stop-color="#00a8af"/><stop offset="0.814" stop-color="#00a7b3"/><stop offset="0.814" stop-color="#00bc00"/><stop offset="0.818" stop-color="#00bc00"/><stop offset="0.818" stop-color="#009fcb"/><stop offset="0.827" stop-color="#0098dd"/><stop offset="0.829" stop-color="#0041dd"/><stop offset="0.838" stop-color="#0038dd"/><stop offset="0.848" stop-color="#002fdd"/><stop offset="0.857" stop-color="#0025dd"/><stop offset="0.868" stop-color="#0013dd"/><stop offset="0.878" stop-color="#0000cd"/><stop offset="0.887" stop-color="#0000b1"/><stop offset="0.898" stop-color="#870098"/><stop offset="0.902" stop-color="#850096"/><stop offset="0.911" stop-color="#830094"/><stop offset="0.921" stop-color="#830094"/><stop offset="0.930" stop-color="#850096"/><stop offset="0.939" stop-color="#830094"/><stop offset="0.948" stop-color="#850096"/><stop offset="0.957" stop-color="#850096"/><stop offset="0.966" stop-color="#810092"/><stop offset="0.976" stop-color="#850096"/><stop offset="0.985" stop-color="#860097"/><stop offset="0.994" stop-color="#850096"/><stop offset="1.000" stop-color="#850096"/></linearGradient><linearGradient id="g8"><stop offset="0.000" stop-color="#000000"/><stop offset="0.009" stop-color="#000000"/><stop offset="0.018" stop-color="#000000"/><stop offset="0.028" stop-color="#000000"/><stop offset="0.037" stop-color="#000000"/><stop offset="0.037" stop-color="#830094"/><stop offset="0.046" stop-color="#820093"/><stop offset="0.055" stop-color="#820093"/><stop offset="0.063" stop-color="#820093"/><stop offset="0.069" stop-color="#7f0090"/><stop offset="0.072" stop-color="#7b008c"/><stop offset="0.081" stop-color="#7e008f"/><stop offset="0.090" stop-color="#7b008c"/><stop offset="0.099" stop-color="#7b008c"/><stop offset="0.100" stop-color="#850096"/><stop offset="0.110" stop-color="#850096"/><stop offset="0.119" stop-color="#820093"/><stop offset="0.128" stop-color="#860097"/><stop offset="0.137" stop-color="#830094"/><stop offset="0.145" stop-color="#850096"/><stop offset="0.153" stop-color="#820093"/><stop offset="0.164" stop-color="#830094"/><stop offset="0.170" stop-color="#0000dd"/><stop offset="0.179" stop-color="#0000dd"/><stop offset="0.188" stop-color="#0000dd"/><stop offset="0.198" stop-color="#0000dd"/><stop offset="0.205" stop-color="#0088dd"/><stop offset="0.217" stop-color="#009bd7"/><stop offset="0.226" stop-color="#009adb"/><stop offset="0.235" stop-color="#0095dd"/><stop offset="0.244" stop-color="#009ecf"/><stop offset="0.253" stop-color="#009bd7"/><stop offset="0.262" stop-color="#009cd3"/><stop offset="0.272" stop-color="#009adb"/><stop offset="0.277" stop-color="#009fcb"/><stop offset="0.286" stop-color="#009fcb"/><stop offset="0.295" stop-color="#00a3bf"/><stop offset="0.304" stop-color="#00a4bb"/><stop offset="0.313" stop-color="#00a2c3"/><stop offset="0.321" stop-color="#00a4bb"/><stop offset="0.331" stop-color="#00a7b3"/><stop offset="0.340" stop-color="#00a7b3"/><stop offset="0.349" stop-color="#00a4bb"/><stop offset="0.358" stop-color="#00aaab"/><stop offset="0.367" stop-color="#00aaa8"/><stop offset="0.377" stop-color="#00aaa8"/><stop offset="0.381" stop-color="#00aaa3"/><stop offset="0.391" stop-color="#00aa95"/><stop offset="0.400" stop-color="#00aa95"/><stop offset="0.409" stop-color="#00aa93"/><stop offset="0.418" stop-color="#00a668"/><stop offset="0.430" stop-color="#00a773"/><stop offset="0.439" stop-color="#009e28"/><stop offset="0.448" stop-color="#009d1d"/><stop offset="0.458" stop-color="#009c00"/><stop offset="0.464" stop-color="#009f00"/><stop offset="0.473" stop-color="#00a700"/><stop offset="0.482" stop-color="#00a400"/><stop offset="0.491" stop-color="#00a400"/><stop offset="0.501" stop-color="#009c00"/><stop offset="0.510" stop-color="#009a00"/><stop offset="0.519" stop-color="#00a400"/><stop offset="0.528" stop-color="#00a200"/><stop offset="0.537" stop-color="#00a200"/><stop offset="0.546" stop-color="#00a200"/><stop offset="0.556" stop-color="#00a400"/><stop offset="0.565" stop-color="#009c00"/><stop offset="0.574" stop-color="#00a200"/><stop offset="0.584" stop-color="#009f00"/><stop offset="0.593" stop-color="#009b13"/><stop offset="0.602" stop-color="#00a13d"/><stop offset="0.611" stop-color="#00a55d"/><stop offset="0.617" stop-color="#00a97d"/><stop offset="0.627" stop-color="#00aa8d"/><stop offset="0.636" stop-color="#00aa95"/><stop offset="0.645" stop-color="#00aa93"/><stop offset="0.654" stop-color="#00aaa0"/><stop offset="0.666" stop-color="#00aaa3"/><stop offset="0.675" stop-color="#00aaa5"/><stop offset="0.685" stop-color="#00a8af"/><stop offset="0.694" stop-color="#00a2c3"/><stop offset="0.704" stop-color="#009fcb"/><stop offset="0.713" stop-color="#009ecf"/><stop offset="0.722" stop-color="#009adb"/><stop offset="0.734" stop-color="#0098dd"/><stop offset="0.739" stop-color="#0098dd"/><stop offset="0.743" stop-color="#0098dd"/><stop offset="0.743" stop-color="#00e400"/><stop offset="0.747" stop-color="#00e400"/><stop offset="0.747" stop-color="#0098dd"/><stop offset="0.758" stop-color="#00a3bf"/><stop offset="0.758" stop-color="#009f00"/><stop offset="0.764" stop-color="#009f00"/><stop offset="0.764" stop-color="#00aaa3"/><stop offset="0.767" stop-color="#00aaa3"/><stop offset="0.767" stop-color="#00a700"/><stop offset="0.779" stop-color="#00a700"/><stop offset="0.779" stop-color="#00ff00"/><stop offset="0.783" stop-color="#00ff00"/><stop offset="0.783" stop-color="#00a353"/><stop offset="0.792" stop-color="#009f33"/><stop offset="0.797" stop-color="#009d1d"/><stop offset="0.797" stop-color="#00f200"/><stop offset="0.801" stop-color="#00f200"/><stop offset="0.801" stop-color="#00aaa3"/><stop offset="0.810" stop-color="#00a8af"/><stop offset="0.814" stop-color="#00a7b3"/><stop offset="0.814" stop-color="#00bc00"/><stop offset="0.818" stop-color="#00bc00"/><stop offset="0.818" stop-color="#009fcb"/><stop offset="0.827" stop-color="#0098dd"/><stop offset="0.829" stop-color="#0041dd"/><stop offset="0.838" stop-color="#0038dd"/><stop offset="0.848" stop-color="#002fdd"/><stop offset="0.857" stop-color="#0025dd"/><stop offset="0.868" stop-color="#0013dd"/><stop offset="0.878" stop-color="#0000cd"/><stop offset="0.887" stop-color="#0000b1"/><stop offset="0.898" stop-color="#870098"/><stop offset="0.902" stop-color="#850096"/><stop offset="0.911" stop-color="#850096"/><stop offset="0.921" stop-color="#860097"/><stop offset="0.930" stop-color="#860097"/><stop offset="0.939" stop-color="#820093"/><stop offset="0.948" stop-color="#820093"/><stop offset="0.957" stop-color="#820093"/><stop offset="0.966" stop-color="#830094"/><stop offset="0.976" stop-color="#830094"/><stop offset="0.985" stop-color="#860097"/><stop offset="0.994" stop-color="#860097"/><stop offset="1.000" stop-color="#850096"/></linearGradient><linearGradient id="g9"><stop offset="0.000" stop-color="#000000"/><stop offset="0.009" stop-color="#000000"/><stop offset="0.018" stop-color="#000000"/><stop offset="0.028" stop-color="#000000"/><stop offset="0.037" stop-color="#000000"/><stop offset="0.037" stop-color="#830094"/><stop offset="0.046" stop-color="#870098"/><stop offset="0.055" stop-color="#860097"/><stop offset="0.063" stop-color="#820093"/><stop offset="0.069" stop-color="#7f0090"/><stop offset="0.072" stop-color="#7b008c"/><stop offset="0.081" stop-color="#7e008f"/><stop offset="0.090" stop-color="#7d008e"/><stop offset="0.099" stop-color="#7b008c"/><stop offset="0.100" stop-color="#850096"/><stop offset="0.110" stop-color="#850096"/><stop offset="0.119" stop-color="#820093"/><stop offset="0.128" stop-color="#850096"/><stop offset="0.137" stop-color="#83009a"/><stop offset="0.145" stop-color="#850096"/><stop offset="0.153" stop-color="#820093"/><stop offset="0.164" stop-color="#830094"/><stop offset="0.170" stop-color="#0000dd"/><stop offset="0.179" stop-color="#0000dd"/><stop offset="0.188" stop-color="#0000dd"/><stop offset="0.198" stop-color="#0000dd"/><stop offset="0.205" stop-color="#0088dd"/><stop offset="0.217" stop-color="#009bd7"/><stop offset="0.226" stop-color="#009bd7"/><stop offset="0.235" stop-color="#009cd3"/><stop offset="0.244" stop-color="#009ecf"/><stop offset="0.253" stop-color="#00a0c7"/><stop offset="0.262" stop-color="#009fcb"/><stop offset="0.272" stop-color="#009cd3"/><stop offset="0.277" stop-color="#009fcb"/><stop offset="0.286" stop-color="#00a0c7"/><stop offset="0.295" stop-color="#00a0c7"/><stop offset="0.304" stop-color="#00a8af"/><stop offset="0.313" stop-color="#00a4bb"/><stop offset="0.321" stop-color="#00a4bb"/><stop offset="0.331" stop-color="#00a8af"/><stop offset="0.340" stop-color="#00a7b3"/><stop offset="0.349" stop-color="#00a6b7"/><stop offset="0.358" stop-color="#00a7b3"/><stop offset="0.367" stop-color="#00aaa5"/><stop offset="0.377" stop-color="#00aaab"/><stop offset="0.381" stop-color="#00aaa3"/><stop offset="0.391" stop-color="#00aa98"/><stop offset="0.400" stop-color="#00aaa0"/><stop offset="0.409" stop-color="#00aa93"/><stop offset="0.418" stop-color="#00aa90"/><stop offset="0.430" stop-color="#00aa88"/><stop offset="0.439" stop-color="#00a353"/><stop offset="0.448" stop-color="#00a13d"/><stop offset="0.458" stop-color="#009d1d"/><stop offset="0.464" stop-color="#009b13"/><stop offset="0.473" stop-color="#009a00"/><stop offset="0.482" stop-color="#009c00"/><stop offset="0.491" stop-color="#009a00"/><stop offset="0.501" stop-color="#009a08"/><stop offset="0.510" stop-color="#009c00"/><stop offset="0.519" stop-color="#009d1d"/><stop offset="0.528" stop-color="#009c00"/><stop offset="0.537" stop-color="#009a08"/><stop offset="0.546" stop-color="#009b13"/><stop offset="0.556" stop-color="#009c00"/><stop offset="0.565" stop-color="#009a00"/><stop offset="0.574" stop-color="#009a08"/><stop offset="0.584" stop-color="#009b13"/><stop offset="0.593" stop-color="#00a248"/><stop offset="0.602" stop-color="#00a13d"/><stop offset="0.611" stop-color="#00aa88"/><stop offset="0.617" stop-color="#00aa88"/><stop offset="0.627" stop-color="#00aa8b"/><stop offset="0.636" stop-color="#00aa90"/><stop offset="0.645" stop-color="#00aa9b"/><stop offset="0.654" stop-color="#00aaa0"/><stop offset="0.666" stop-color="#00aaa3"/><stop offset="0.675" stop-color="#00aaab"/><stop offset="0.685" stop-color="#00a7b3"/><stop offset="0.694" stop-color="#00a3bf"/><stop offset="0.704" stop-color="#009fcb"/><stop offset="0.713" stop-color="#009bd7"/><stop offset="0.722" stop-color="#0098dd"/><stop offset="0.734" stop-color="#0098dd"/><stop offset="0.739" stop-color="#0098dd"/><stop offset="0.743" stop-color="#0098dd"/><stop offset="0.743" stop-color="#00e400"/><stop offset="0.747" stop-color="#00e400"/><stop offset="0.747" stop-color="#0098dd"/><stop offset="0.758" stop-color="#00a3bf"/><stop offset="0.758" stop-color="#009f00"/><stop offset="0.764" stop-color="#009f00"/><stop offset="0.764" stop-color="#00aaa3"/><stop offset="0.767" stop-color="#00aaa3"/><stop offset="0.767" stop-color="#00a700"/><stop offset="0.779" stop-color="#00a700"/><stop offset="0.779" stop-color="#00ff00"/><stop offset="0.783" stop-color="#00ff00"/><stop offset="0.783" stop-color="#00a353"/><stop offset="0.792" stop-color="#009f33"/><stop offset="0.797" stop-color="#009d1d"/><stop offset="0.797" stop-color="#00f200"/><stop offset="0.801" stop-color="#00f200"/><stop offset="0.801" stop-color="#00aaa3"/><stop offset="0.810" stop-color="#00a8af"/><stop offset="0.814" stop-color="#00a7b3"/><stop offset="0.814" stop-color="#00bc00"/><stop offset="0.818" stop-color="#00bc00"/><stop offset="0.818" stop-color="#009fcb"/><stop offset="0.827" stop-color="#0098dd"/><stop offset="0.829" stop-color="#0041dd"/><stop offset="0.838" stop-color="#0038dd"/><stop offset="0.848" stop-color="#002fdd"/><stop offset="0.857" stop-color="#0025dd"/><stop offset="0.868" stop-color="#0013dd"/><stop offset="0.878" stop-color="#0000cd"/><stop offset="0.887" stop-color="#0000b1"/><stop offset="0.898" stop-color="#870098"/><stop offset="0.902" stop-color="#850096"/><stop offset="0.911" stop-color="#830094"/><stop offset="0.921" stop-color="#830094"/><stop offset="0.930" stop-color="#860097"/><stop offset="0.939" stop-color="#860097"/><stop offset="0.948" stop-color="#850096"/><stop offset="0.957" stop-color="#850096"/><stop offset="0.966" stop-color="#850096"/><stop offset="0.976" stop-color="#850096"/><stop offset="0.985" stop-color="#850096"/><stop offset="0.994" stop-color="#850096"/><stop offset="1.000" stop-color="#850096"/></linearGradient><linearGradient id="g10"><stop offset="0.000" stop-color="#000000"/><stop offset="0.009" stop-color="#000000"/><stop offset="0.018" stop-color="#000000"/><stop offset="0.028" stop-color="#000000"/><stop offset="0.037" stop-color="#000000"/><stop offset="0.037" stop-color="#830094"/><stop offset="0.046" stop-color="#830094"/><stop offset="0.055" stop-color="#7f0090"/><stop offset="0.063" stop-color="#820093"/><stop offset="0.069" stop-color="#7f0090"/><stop offset="0.072" stop-color="#7b008c"/><stop offset="0.081" stop-color="#79008a"/><stop offset="0.090" stop-color="#7d008e"/><stop offset="0.099" stop-color="#7b008c"/><stop offset="0.100" stop-color="#850096"/><stop offset="0.110" stop-color="#830094"/><stop offset="0.119" stop-color="#830094"/><stop offset="0.128" stop-color="#870098"/><stop offset="0.137" stop-color="#860097"/><stop offset="0.145" stop-color="#850096"/><stop offset="0.153" stop-color="#820093"/><stop offset="0.164" stop-color="#830094"/><stop offset="0.170" stop-color="#0000dd"/><stop offset="0.179" stop-color="#0000dd"/><stop offset="0.188" stop-color="#0000dd"/><stop offset="0.198" stop-color="#0000dd"/><stop offset="0.205" stop-color="#0088dd"/><stop offset="0.217" stop-color="#0098dd"/><stop offset="0.226" stop-color="#009bd7"/><stop offset="0.235" stop-color="#009adb"/><stop offset="0.244" stop-color="#009adb"/><stop offset="0.253" stop-color="#009cd3"/><stop offset="0.262" stop-color="#009adb"/><stop offset="0.272" stop-color="#009adb"/><stop offset="0.277" stop-color="#009cd3"/><stop offset="0.286" stop-color="#00a0c7"/><stop offset="0.295" stop-color="#00a0c7"/><stop offset="0.304" stop-color="#00a0c7"/><stop offset="0.313" stop-color="#00a3bf"/><stop offset="0.321" stop-color="#00a4bb"/><stop offset="0.331" stop-color="#00a4bb"/><stop offset="0.340" stop-color="#00a8af"/><stop offset="0.349" stop-color="#00a8af"/><stop offset="0.358" stop-color="#00aaa5"/><stop offset="0.367" stop-color="#00aaa5"/><stop offset="0.377" stop-color="#00aaa8"/><stop offset="0.381" stop-color="#00aaa3"/><stop offset="0.391" stop-color="#00aa9b"/><stop offset="0.400" stop-color="#00aa98"/><stop offset="0.409" stop-color="#00aa95"/><stop offset="0.418" stop-color="#00aa8d"/><stop offset="0.430" stop-color="#00a97d"/><stop offset="0.439" stop-color="#00a353"/><stop offset="0.448" stop-color="#00a13d"/><stop offset="0.458" stop-color="#009d1d"/><stop offset="0.464" stop-color="#009a08"/><stop offset="0.473" stop-color="#009f33"/><stop offset="0.482" stop-color="#009d1d"/><stop offset="0.491" stop-color="#009a00"/><stop offset="0.501" stop-color="#009b13"/><stop offset="0.510" stop-color="#009b13"/><stop offset="0.519" stop-color="#009d1d"/><stop offset="0.528" stop-color="#009d1d"/><stop offset="0.537" stop-color="#009a08"/><stop offset="0.546" stop-color="#009a08"/><stop offset="0.556" stop-color="#009a08"/><stop offset="0.565" stop-color="#009a08"/><stop offset="0.574" stop-color="#009a08"/><stop offset="0.584" stop-color="#009a08"/><stop offset="0.593" stop-color="#009f33"/><stop offset="0.602" stop-color="#00a248"/><stop offset="0.611" stop-color="#00a97d"/><stop offset="0.617" stop-color="#00aa88"/><stop offset="0.627" stop-color="#00aa93"/><stop offset="0.636" stop-color="#00aa98"/><stop offset="0.645" stop-color="#00aa98"/><stop offset="0.654" stop-color="#00aa95"/><stop offset="0.666" stop-color="#00aaa3"/><stop offset="0.675" stop-color="#00aaab"/><stop offset="0.685" stop-color="#00a8af"/><stop offset="0.694" stop-color="#00a6b7"/><stop offset="0.704" stop-color="#009fcb"/><stop offset="0.713" stop-color="#009cd3"/><stop offset="0.722" stop-color="#009ecf"/><stop offset="0.734" stop-color="#0098dd"/><stop offset="0.739" stop-color="#0098dd"/><stop offset="0.743" stop-color="#0098dd"/><stop offset="0.743" stop-color="#00e400"/><stop offset="0.747" stop-color="#00e400"/><stop offset="0.747" stop-color="#0098dd"/><stop offset="0.758" stop-color="#00a3bf"/><stop offset="0.758" stop-color="#009f00"/><stop offset="0.764" stop-color="#009f00"/><stop offset="0.764" stop-color="#00aaa3"/><stop offset="0.767" stop-color="#00aaa3"/><stop offset="0.767" stop-color="#00a700"/><stop offset="0.779" stop-color="#00a700"/><stop offset="0.779" stop-color="#00ff00"/><stop offset="0.783" stop-color="#00ff00"/><stop offset="0.783" stop-color="#00a353"/><stop offset="0.792" stop-color="#009f33"/><stop offset="0.797" stop-color="#009d1d"/><stop offset="0.797" stop-color="#00f200"/><stop offset="0.801" stop-color="#00f200"/><stop offset="0.801" stop-color="#00aaa3"/><stop offset="0.810" stop-color="#00a8af"/><stop offset="0.814" stop-color="#00a7b3"/><stop offset="0.814" stop-color="#00bc00"/><stop offset="0.818" stop-color="#00bc00"/><stop offset="0.818" stop-color="#009fcb"/><stop offset="0.827" stop-color="#0098dd"/><stop offset="0.829" stop-color="#0041dd"/><stop offset="0.838" stop-color="#0038dd"/><stop offset="0.848" stop-color="#002fdd"/><stop offset="0.857" stop-color="#0025dd"/><stop offset="0.868" stop-color="#0013dd"/><stop offset="0.878" stop-color="#0000cd"/><stop offset="0.887" stop-color="#0000b1"/><stop offset="0.898" stop-color="#870098"/><stop offset="0.902" stop-color="#850096"/><stop offset="0.911" stop-color="#850096"/><stop offset="0.921" stop-color="#870098"/><stop offset="0.930" stop-color="#830094"/><stop offset="0.939" stop-color="#820093"/><stop offset="0.948" stop-color="#850096"/><stop offset="0.957" stop-color="#830094"/><stop offset="0.966" stop-color="#810092"/><stop offset="0.976" stop-color="#830094"/><stop offset="0.985" stop-color="#850096"/><stop offset="0.994" stop-color="#850096"/><stop offset="1.000" stop-color="#850096"/></linearGradient><linearGradient id="g11"><stop offset="0.000" stop-color="#000000"/><stop offset="0.009" stop-color="#000000"/><stop offset="0.018" stop-color="#000000"/><stop offset="0.028" stop-color="#000000"/><stop offset="0.037" stop-color="#000000"/><stop offset="0.037" stop-color="#830094"/><stop offset="0.046" stop-color="#810092"/><stop offset="0.055" stop-color="#860097"/><stop offset="0.063" stop-color="#820093"/><stop offset="0.069" stop-color="#7f0090"/><stop offset="0.072" stop-color="#7b008c"/><stop offset="0.081" stop-color="#79008a"/><stop offset="0.090" stop-color="#7f0090"/><stop offset="0.099" stop-color="#7b008c"/><stop offset="0.100" stop-color="#850096"/><stop offset="0.110" stop-color="#830094"/><stop offset="0.119" stop-color="#830094"/><stop offset="0.128" stop-color="#820093"/><stop offset="0.137" stop-color="#820093"/><stop offset="0.145" stop-color="#850096"/><stop offset="0.153" stop-color="#820093"/><stop offset="0.164" stop-color="#830094"/><stop offset="0.170" stop-color="#0000dd"/><stop offset="0.179" stop-color="#0000dd"/><stop offset="0.188" stop-color="#0000dd"/><stop offset="0.198" stop-color="#0000dd"/><stop offset="0.205" stop-color="#0088dd"/><stop offset="0.217" stop-color="#0098dd"/><stop offset="0.226" stop-color="#009cd3"/><stop offset="0.235" stop-color="#0092dd"/><stop offset="0.244" stop-color="#0095dd"/><stop offset="0.253" stop-color="#0098dd"/><stop offset="0.262" stop-color="#0098dd"/><stop offset="0.272" stop-color="#009cd3"/><stop offset="0.277" stop-color="#009cd3"/><stop offset="0.286" stop-color="#009cd3"/><stop offset="0.295" stop-color="#009ecf"/><stop offset="0.304" stop-color="#00a3bf"/><stop offset="0.313" stop-color="#00a0c7"/><stop offset="0.321" stop-color="#00a4bb"/><stop offset="0.331" stop-color="#00a4bb"/><stop offset="0.340" stop-color="#00a6b7"/><stop offset="0.349" stop-color="#00a4bb"/><stop offset="0.358" stop-color="#00aaa8"/><stop offset="0.367" stop-color="#00aaa5"/><stop offset="0.377" stop-color="#00aa9d"/><stop offset="0.381" stop-color="#00aaa3"/><stop offset="0.391" stop-color="#00aaa3"/><stop offset="0.400" stop-color="#00aa95"/><stop offset="0.409" stop-color="#00aa9d"/><stop offset="0.418" stop-color="#00aa90"/><stop offset="0.430" stop-color="#00aa8b"/><stop offset="0.439" stop-color="#00a668"/><stop offset="0.448" stop-color="#00a248"/><stop offset="0.458" stop-color="#00a55d"/><stop offset="0.464" stop-color="#009e28"/><stop offset="0.473" stop-color="#009f33"/><stop offset="0.482" stop-color="#00a13d"/><stop offset="0.491" stop-color="#00a13d"/><stop offset="0.501" stop-color="#009f33"/><stop offset="0.510" stop-color="#00a248"/><stop offset="0.519" stop-color="#009b13"/><stop offset="0.528" stop-color="#009f33"/><stop offset="0.537" stop-color="#009d1d"/><stop offset="0.546" stop-color="#009e28"/><stop offset="0.556" stop-color="#009f33"/><stop offset="0.565" stop-color="#00a248"/><stop offset="0.574" stop-color="#00a13d"/><stop offset="0.584" stop-color="#009e28"/><stop offset="0.593" stop-color="#00a55d"/><stop offset="0.602" stop-color="#00a668"/><stop offset="0.611" stop-color="#00aa8b"/><stop offset="0.617" stop-color="#00aa8b"/><stop offset="0.627" stop-color="#00aa90"/><stop offset="0.636" stop-color="#00aa98"/><stop offset="0.645" stop-color="#00aa95"/><stop offset="0.654" stop-color="#00aaa3"/><stop offset="0.666" stop-color="#00aaa3"/><stop offset="0.675" stop-color="#00aaab"/><stop offset="0.685" stop-color="#00aaab"/><stop offset="0.694" stop-color="#00a6b7"/><stop offset="0.704" stop-color="#009fcb"/><stop offset="0.713" stop-color="#009cd3"/><stop offset="0.722" stop-color="#0095dd"/><stop offset="0.734" stop-color="#0098dd"/><stop offset="0.739" stop-color="#0098dd"/><stop offset="0.743" stop-color="#0098dd"/><stop offset="0.743" stop-color="#00e400"/><stop offset="0.747" stop-color="#00e400"/><stop offset="0.747" stop-color="#0098dd"/><stop offset="0.758" stop-color="#00a3bf"/><stop offset="0.758" stop-color="#009f00"/><stop offset="0.764" stop-color="#009f00"/><stop offset="0.764" stop-color="#00aaa3"/><stop offset="0.767" stop-color="#00aaa3"/><stop offset="0.767" stop-color="#00a700"/><stop offset="0.779" stop-color="#00a700"/><stop offset="0.779" stop-color="#00ff00"/><stop offset="0.783" stop-color="#00ff00"/><stop offset="0.783" stop-color="#00a353"/><stop offset="0.792" stop-color="#009f33"/><stop offset="0.797" stop-color="#009d1d"/><stop offset="0.797" stop-color="#00f200"/><stop offset="0.801" stop-color="#00f200"/><stop offset="0.801" stop-color="#00aaa3"/><stop offset="0.810" stop-color="#00a8af"/><stop offset="0.814" stop-color="#00a7b3"/><stop offset="0.814" stop-color="#00bc00"/><stop offset="0.818" stop-color="#00bc00"/><stop offset="0.818" stop-color="#009fcb"/><stop offset="0.827" stop-color="#0098dd"/><stop offset="0.829" stop-color="#0041dd"/><stop offset="0.838" stop-color="#0038dd"/><stop offset="0.848" stop-color="#002fdd"/><stop offset="0.857" stop-color="#0025dd"/><stop offset="0.868" stop-color="#0013dd"/><stop offset="0.878" stop-color="#0000cd"/><stop offset="0.887" stop-color="#0000b1"/><stop offset="0.898" stop-color="#870098"/><stop offset="0.902" stop-color="#850096"/><stop offset="0.911" stop-color="#850096"/><stop offset="0.921" stop-color="#830094"/><stop offset="0.930" stop-color="#860097"/><stop offset="0.939" stop-color="#860097"/><stop offset="0.948" stop-color="#830094"/><stop offset="0.957" stop-color="#830094"/><stop offset="0.966" stop-color="#830094"/><stop offset="0.976" stop-color="#850096"/><stop offset="0.985" stop-color="#830094"/><stop offset="0.994" stop-color="#830094"/><stop offset="1.000" stop-color="#850096"/></linearGradient><linearGradient id="g12"><stop offset="0.000" stop-color="#000000"/><stop offset="0.009" stop-color="#000000"/><stop offset="0.018" stop-color="#000000"/><stop offset="0.028" stop-color="#000000"/><stop offset="0.037" stop-color="#000000"/><stop offset="0.037" stop-color="#830094"/><stop offset="0.046" stop-color="#830094"/><stop offset="0.055" stop-color="#820093"/><stop offset="0.063" stop-color="#820093"/><stop offset="0.069" stop-color="#7f0090"/><stop offset="0.072" stop-color="#7b008c"/><stop offset="0.081" stop-color="#7e008f"/><stop offset="0.090" stop-color="#7b008c"/><stop offset="0.099" stop-color="#7b008c"/><stop offset="0.100" stop-color="#850096"/><stop offset="0.110" stop-color="#850096"/><stop offset="0.119" stop-color="#860097"/><stop offset="0.128" stop-color="#850096"/><stop offset="0.137" stop-color="#830094"/><stop offset="0.145" stop-color="#850096"/><stop offset="0.153" stop-color="#820093"/><stop offset="0.164" stop-color="#830094"/><stop offset="0.170" stop-color="#0000dd"/><stop offset="0.179" stop-color="#0000dd"/><stop offset="0.188" stop-color="#0000dd"/><stop offset="0.198" stop-color="#0000dd"/><stop offset="0.205" stop-color="#0088dd"/><stop offset="0.217" stop-color="#009bd7"/><stop offset="0.226" stop-color="#009adb"/><stop offset="0.235" stop-color="#009cd3"/><stop offset="0.244" stop-color="#009adb"/><stop offset="0.253" stop-color="#009fcb"/><stop offset="0.262" stop-color="#009fcb"/><stop offset="0.272" stop-color="#009cd3"/><stop offset="0.277" stop-color="#009fcb"/><stop offset="0.286" stop-color="#00a2c3"/><stop offset="0.295" stop-color="#00a3bf"/><stop offset="0.304" stop-color="#009fcb"/><stop offset="0.313" stop-color="#00a3bf"/><stop offset="0.321" stop-color="#00a4bb"/><stop offset="0.331" stop-color="#00a2c3"/><stop offset="0.340" stop-color="#00a6b7"/><stop offset="0.349" stop-color="#00a7b3"/><stop offset="0.358" stop-color="#00aaa5"/><stop offset="0.367" stop-color="#00aaa8"/><stop offset="0.377" stop-color="#00aaa8"/><stop offset="0.381" stop-color="#00aaa3"/><stop offset="0.391" stop-color="#00aa9d"/><stop offset="0.400" stop-color="#00aa9b"/><stop offset="0.409" stop-color="#00aa95"/><stop offset="0.418" stop-color="#00aa95"/><stop offset="0.430" stop-color="#00a97d"/><stop offset="0.439" stop-color="#00a353"/><stop offset="0.448" stop-color="#009b13"/><stop offset="0.458" stop-color="#009d1d"/><stop offset="0.464" stop-color="#009a00"/><stop offset="0.473" stop-color="#009a00"/><stop offset="0.482" stop-color="#009a08"/><stop offset="0.491" stop-color="#009a08"/><stop offset="0.501" stop-color="#00a200"/><stop offset="0.510" stop-color="#009b13"/><stop offset="0.519" stop-color="#009a00"/><stop offset="0.528" stop-color="#009c00"/><stop offset="0.537" stop-color="#009f00"/><stop offset="0.546" stop-color="#009a08"/><stop offset="0.556" stop-color="#009c00"/><stop offset="0.565" stop-color="#009c00"/><stop offset="0.574" stop-color="#009d1d"/><stop offset="0.584" stop-color="#009a00"/><stop offset="0.593" stop-color="#009d1d"/><stop offset="0.602" stop-color="#009f33"/><stop offset="0.611" stop-color="#00a55d"/><stop offset="0.617" stop-color="#00aa88"/><stop offset="0.627" stop-color="#00aa90"/><stop offset="0.636" stop-color="#00aa8d"/><stop offset="0.645" stop-color="#00aa98"/><stop offset="0.654" stop-color="#00aaa3"/><stop offset="0.666" stop-color="#00aaa3"/><stop offset="0.675" stop-color="#00aaa3"/><stop offset="0.685" stop-color="#00a8af"/><stop offset="0.694" stop-color="#00a0c7"/><stop offset="0.704" stop-color="#009fcb"/><stop offset="0.713" stop-color="#009cd3"/><stop offset="0.722" stop-color="#009cd3"/><stop offset="0.734" stop-color="#0098dd"/><stop offset="0.739" stop-color="#0098dd"/><stop offset="0.743" stop-color="#0098dd"/><stop offset="0.743" stop-color="#00e400"/><stop offset="0.747" stop-color="#00e400"/><stop offset="0.747" stop-color="#0098dd"/><stop offset="0.758" stop-color="#00a3bf"/><stop offset="0.758" stop-color="#009f00"/><stop offset="0.764" stop-color="#009f00"/><stop offset="0.764" stop-color="#00aaa3"/><stop offset="0.767" stop-color="#00aaa3"/><stop offset="0.767" stop-color="#00a700"/><stop offset="0.779" stop-color="#00a700"/><stop offset="0.779" stop-color="#00ff00"/><stop offset="0.783" stop-color="#00ff00"/><stop offset="0.783" stop-color="#00a353"/><stop offset="0.792" stop-color="#009f33"/><stop offset="0.797" stop-color="#009d1d"/><stop offset="0.797" stop-color="#00f200"/><stop offset="0.801" stop-color="#00f200"/><stop offset="0.801" stop-color="#00aaa3"/><stop offset="0.810" stop-color="#00a8af"/><stop offset="0.814" stop-color="#00a7b3"/><stop offset="0.814" stop-color="#00bc00"/><stop offset="0.818" stop-color="#00bc00"/><stop offset="0.818" stop-color="#009fcb"/><stop offset="0.827" stop-color="#0098dd"/><stop offset="0.829" stop-color="#0041dd"/><stop offset="0.838" stop-color="#0038dd"/><stop offset="0.848" stop-color="#002fdd"/><stop offset="0.857" stop-color="#0025dd"/><stop offset="0.868" stop-color="#0013dd"/><stop offset="0.878" stop-color="#0000cd"/><stop offset="0.887" stop-color="#0000b1"/><stop offset="0.898" stop-color="#870098"/><stop offset="0.902" stop-color="#850096"/><stop offset="0.911" stop-color="#850096"/><stop offset="0.921" stop-color="#850096"/><stop offset="0.930" stop-color="#850096"/><stop offset="0.939" stop-color="#850096"/><stop offset="0.948" stop-color="#850096"/><stop offset="0.957" stop-color="#830094"/><stop offset="0.966" stop-color="#850096"/><stop offset="0.976" stop-color="#830094"/><stop offset="0.985" stop-color="#830094"/><stop offset="0.994" stop-color="#850096"/><stop offset="1.000" stop-color="#850096"/></linearGradient><linearGradient id="g13"><stop offset="0.000" stop-color="#000000"/><stop offset="0.009" stop-color="#000000"/><stop offset="0.018" stop-color="#000000"/><stop offset="0.028" stop-color="#000000"/><stop offset="0.037" stop-color="#000000"/><stop offset="0.037" stop-color="#830094"/><stop offset="0.046" stop-color="#830094"/><stop offset="0.055" stop-color="#830094"/><stop offset="0.063" stop-color="#820093"/><stop offset="0.069" stop-color="#7f0090"/><stop offset="0.072" stop-color="#7b008c"/><stop offset="0.081" stop-color="#79008a"/><stop offset="0.090" stop-color="#7e008f"/><stop offset="0.099" stop-color="#7b008c"/><stop offset="0.100" stop-color="#850096"/><stop offset="0.110" stop-color="#830094"/><stop offset="0.119" stop-color="#850096"/><stop offset="0.128" stop-color="#830094"/><stop offset="0.137" stop-color="#850096"/><stop offset="0.145" stop-color="#850096"/><stop offset="0.153" stop-color="#820093"/><stop offset="0.164" stop-color="#830094"/><stop offset="0.170" stop-color="#0000dd"/><stop offset="0.179" stop-color="#0000dd"/><stop offset="0.188" stop-color="#0000dd"/><stop offset="0.198" stop-color="#0000dd"/><stop offset="0.205" stop-color="#0088dd"/><stop offset="0.217" stop-color="#009bd7"/><stop offset="0.226" stop-color="#00a0c7"/><stop offset="0.235" stop-color="#009ecf"/><stop offset="0.244" stop-color="#009fcb"/><stop offset="0.253" stop-color="#009fcb"/><stop offset="0.262" stop-color="#009fcb"/><stop offset="0.272" stop-color="#00a2c3"/><stop offset="0.277" stop-color="#009fcb"/><stop offset="0.286" stop-color="#009fcb"/><stop offset="0.295" stop-color="#009fcb"/><stop offset="0.304" stop-color="#00a7b3"/><stop offset="0.313" stop-color="#00a6b7"/><stop offset="0.321" stop-color="#00a4bb"/><stop offset="0.331" stop-color="#00a4bb"/><stop offset="0.340" stop-color="#00a8af"/><stop offset="0.349" stop-color="#00a7b3"/><stop offset="0.358" stop-color="#00a6b7"/><stop offset="0.367" stop-color="#00aaa8"/><stop offset="0.377" stop-color="#00aaa0"/><stop offset="0.381" stop-color="#00aaa3"/><stop offset="0.391" stop-color="#00aaa3"/><stop offset="0.400" stop-color="#00aa9d"/><stop offset="0.409" stop-color="#00aa8d"/><stop offset="0.418" stop-color="#00aa90"/><stop offset="0.430" stop-color="#00a97d"/><stop offset="0.439" stop-color="#00a13d"/><stop offset="0.448" stop-color="#009e28"/><stop offset="0.458" stop-color="#009a08"/><stop offset="0.464" stop-color="#009a00"/><stop offset="0.473" stop-color="#009a08"/><stop offset="0.482" stop-color="#009b13"/><stop offset="0.491" stop-color="#009b13"/><stop offset="0.501" stop-color="#009f00"/><stop offset="0.510" stop-color="#009b13"/><stop offset="0.519" stop-color="#009a08"/><stop offset="0.528" stop-color="#009a00"/><stop offset="0.537" stop-color="#009c00"/><stop offset="0.546" stop-color="#009a00"/><stop offset="0.556" stop-color="#009b13"/><stop offset="0.565" stop-color="#009a08"/><stop offset="0.574" stop-color="#009f00"/><stop offset="0.584" stop-color="#009a00"/><stop offset="0.593" stop-color="#009e28"/><stop offset="0.602" stop-color="#00a55d"/><stop offset="0.611" stop-color="#00a353"/><stop offset="0.617" stop-color="#00aa88"/><stop offset="0.627" stop-color="#00aa8b"/><stop offset="0.636" stop-color="#00aa8d"/><stop offset="0.645" stop-color="#00aa9b"/><stop offset="0.654" stop-color="#00aa9b"/><stop offset="0.666" stop-color="#00aaa3"/><stop offset="0.675" stop-color="#00aaab"/><stop offset="0.685" stop-color="#00a8af"/><stop offset="0.694" stop-color="#00a3bf"/><stop offset="0.704" stop-color="#009fcb"/><stop offset="0.713" stop-color="#009cd3"/><stop offset="0.722" stop-color="#009adb"/><stop offset="0.734" stop-color="#0098dd"/><stop offset="0.739" stop-color="#0098dd"/><stop offset="0.743" stop-color="#0098dd"/><stop offset="0.743" stop-color="#00e400"/><stop offset="0.747" stop-color="#00e400"/><stop offset="0.747" stop-color="#0098dd"/><stop offset="0.758" stop-color="#00a3bf"/><stop offset="0.758" stop-color="#009f00"/><stop offset="0.764" stop-color="#009f00"/><stop offset="0.764" stop-color="#00aaa3"/><stop offset="0.767" stop-color="#00aaa3"/><stop offset="0.767" stop-color="#00a700"/><stop offset="0.779" stop-color="#00a700"/><stop offset="0.779" stop-color="#00ff00"/><stop offset="0.783" stop-color="#00ff00"/><stop offset="0.783" stop-color="#00a353"/><stop offset="0.792" stop-color="#009f33"/><stop offset="0.797" stop-color="#009d1d"/><stop offset="0.797" stop-color="#00f200"/><stop offset="0.801" stop-color="#00f200"/><stop offset="0.801" stop-color="#00aaa3"/><stop offset="0.810" stop-color="#00a8af"/><stop offset="0.814" stop-color="#00a7b3"/><stop offset="0.814" stop-color="#00bc00"/><stop offset="0.818" stop-color="#00bc00"/><stop offset="0.818" stop-color="#009fcb"/><stop offset="0.827" stop-color="#0098dd"/><stop offset="0.829" stop-color="#0041dd"/><stop offset="0.838" stop-color="#0038dd"/><stop offset="0.848" stop-color="#002fdd"/><stop offset="0.857" stop-color="#0025dd"/><stop offset="0.868" stop-color="#0013dd"/><stop offset="0.878" stop-color="#0000cd"/><stop offset="0.887" stop-color="#0000b1"/><stop offset="0.898" stop-color="#870098"/><stop offset="0.902" stop-color="#850096"/><stop offset="0.911" stop-color="#820093"/><stop offset="0.921" stop-color="#830094"/><stop offset="0.930" stop-color="#7f0090"/><stop offset="0.939" stop-color="#820093"/><stop offset="0.948" stop-color="#830094"/><stop offset="0.957" stop-color="#850096"/><stop offset="0.966" stop-color="#830094"/><stop offset="0.976" stop-color="#850096"/><stop offset="0.985" stop-color="#830094"/><stop offset="0.994" stop-color="#850096"/><stop offset="1.000" stop-color="#850096"/></linearGradient><linearGradient id="g14"><stop offset="0.000" stop-color="#000000"/><stop offset="0.009" stop-color="#000000"/><stop offset="0.018" stop-color="#000000"/><stop offset="0.028" stop-color="#000000"/><stop offset="0.037" stop-color="#000000"/><stop offset="0.037" stop-color="#830094"/><stop offset="0.046" stop-color="#7f0090"/><stop offset="0.055" stop-color="#810092"/><stop offset="0.063" stop-color="#820093"/><stop offset="0.069" stop-color="#7f0090"/><stop offset="0.072" stop-color="#7b008c"/><stop offset="0.081" stop-color="#7b008c"/><stop offset="0.090" stop-color="#7a008b"/><stop offset="0.099" stop-color="#7b008c"/><stop offset="0.100" stop-color="#850096"/><stop offset="0.110" stop-color="#820093"/><stop offset="0.119" stop-color="#830094"/><stop offset="0.128" stop-color="#850096"/><stop offset="0.137" stop-color="#830094"/><stop offset="0.145" stop-color="#850096"/><stop offset="0.153" stop-color="#820093"/><stop offset="0.164" stop-color="#830094"/><stop offset="0.170" stop-color="#0000dd"/><stop offset="0.179" stop-color="#0000dd"/><stop offset="0.188" stop-color="#0000dd"/><stop offset="0.198" stop-color="#0000dd"/><stop offset="0.205" stop-color="#0088dd"/><stop offset="0.217" stop-color="#0098dd"/><stop offset="0.226" stop-color="#009adb"/><stop offset="0.235" stop-color="#009adb"/><stop offset="0.244" stop-color="#009adb"/><stop offset="0.253" stop-color="#009bd7"/><stop offset="0.262" stop-color="#009cd3"/><stop offset="0.272" stop-color="#0098dd"/><stop offset="0.277" stop-color="#009cd3"/><stop offset="0.286" stop-color="#009ecf"/><stop offset="0.295" stop-color="#00a2c3"/><stop offset="0.304" stop-color="#009fcb"/><stop offset="0.313" stop-color="#00a4bb"/><stop offset="0.321" stop-color="#00a4bb"/><stop offset="0.331" stop-color="#00a3bf"/><stop offset="0.340" stop-color="#00a7b3"/><stop offset="0.349" stop-color="#00a8af"/><stop offset="0.358" stop-color="#00aaab"/><stop offset="0.367" stop-color="#00aaa8"/><stop offset="0.377" stop-color="#00aaa8"/><stop offset="0.381" stop-color="#00aaa3"/><stop offset="0.391" stop-color="#00aaa3"/><stop offset="0.400" stop-color="#00aa9b"/><stop offset="0.409" stop-color="#00aa95"/><stop offset="0.418" stop-color="#00aa8d"/><stop offset="0.430" stop-color="#00aa8b"/><stop offset="0.439" stop-color="#00a55d"/><stop offset="0.448" stop-color="#00a13d"/><stop offset="0.458" stop-color="#00a55d"/><stop offset="0.464" stop-color="#009d1d"/><stop offset="0.473" stop-color="#009a08"/><stop offset="0.482" stop-color="#009f33"/><stop offset="0.491" stop-color="#009e28"/><stop offset="0.501" stop-color="#00a248"/><stop offset="0.510" stop-color="#009e28"/><stop offset="0.519" stop-color="#009d1d"/><stop offset="0.528" stop-color="#009d1d"/><stop offset="0.537" stop-color="#009e28"/><stop offset="0.546" stop-color="#009d1d"/><stop offset="0.556" stop-color="#00a13d"/><stop offset="0.565" stop-color="#009e28"/><stop offset="0.574" stop-color="#009e28"/><stop offset="0.584" stop-color="#009d1d"/><stop offset="0.593" stop-color="#00a248"/><stop offset="0.602" stop-color="#00a55d"/><stop offset="0.611" stop-color="#00a668"/><stop offset="0.617" stop-color="#00aa8b"/><stop offset="0.627" stop-color="#00aa93"/><stop offset="0.636" stop-color="#00aa90"/><stop offset="0.645" stop-color="#00aa9b"/><stop offset="0.654" stop-color="#00aa9d"/><stop offset="0.666" stop-color="#00aaa3"/><stop offset="0.675" stop-color="#00a7b3"/><stop offset="0.685" stop-color="#00a7b3"/><stop offset="0.694" stop-color="#00a4bb"/><stop offset="0.704" stop-color="#009fcb"/><stop offset="0.713" stop-color="#00a2c3"/><stop offset="0.722" stop-color="#009ecf"/><stop offset="0.734" stop-color="#0098dd"/><stop offset="0.739" stop-color="#0098dd"/><stop offset="0.743" stop-color="#0098dd"/><stop offset="0.743" stop-color="#00e400"/><stop offset="0.747" stop-color="#00e400"/><stop offset="0.747" stop-color="#0098dd"/><stop offset="0.758" stop-color="#00a3bf"/><stop offset="0.758" stop-color="#009f00"/><stop offset="0.764" stop-color="#009f00"/><stop offset="0.764" stop-color="#00aaa3"/><stop offset="0.767" stop-color="#00aaa3"/><stop offset="0.767" stop-color="#00a700"/><stop offset="0.779" stop-color="#00a700"/><stop offset="0.779" stop-color="#00ff00"/><stop offset="0.783" stop-color="#00ff00"/><stop offset="0.783" stop-color="#00a353"/><stop offset="0.792" stop-color="#009f33"/><stop offset="0.797" stop-color="#009d1d"/><stop offset="0.797" stop-color="#00f200"/><stop offset="0.801" stop-color="#00f200"/><stop offset="0.801" stop-color="#00aaa3"/><stop offset="0.810" stop-color="#00a8af"/><stop offset="0.814" stop-color="#00a7b3"/><stop offset="0.814" stop-color="#00bc00"/><stop offset="0.818" stop-color="#00bc00"/><stop offset="0.818" stop-color="#009fcb"/><stop offset="0.827" stop-color="#0098dd"/><stop offset="0.829" stop-color="#0041dd"/><stop offset="0.838" stop-color="#0038dd"/><stop offset="0.848" stop-color="#002fdd"/><stop offset="0.857" stop-color="#0025dd"/><stop offset="0.868" stop-color="#0013dd"/><stop offset="0.878" stop-color="#0000cd"/><stop offset="0.887" stop-color="#0000b1"/><stop offset="0.898" stop-color="#870098"/><stop offset="0.902" stop-color="#850096"/><stop offset="0.911" stop-color="#870098"/><stop offset="0.921" stop-color="#850096"/><stop offset="0.930" stop-color="#860097"/><stop offset="0.939" stop-color="#860097"/><stop offset="0.948" stop-color="#820093"/><stop offset="0.957" stop-color="#850096"/><stop offset="0.966" stop-color="#850096"/><stop offset="0.976" stop-color="#820093"/><stop offset="0.985" stop-color="#860097"/><stop offset="0.994" stop-color="#830094"/><stop offset="1.000" stop-color="#850096"/></linearGradient><linearGradient id="g15"><stop offset="0.000" stop-color="#000000"/><stop offset="0.009" stop-color="#000000"/><stop offset="0.018" stop-color="#000000"/><stop offset="0.028" stop-color="#000000"/><stop offset="0.037" stop-color="#000000"/><stop offset="0.037" stop-color="#830094"/><stop offset="0.046" stop-color="#820093"/><stop offset="0.055" stop-color="#810092"/><stop offset="0.063" stop-color="#820093"/><stop offset="0.069" stop-color="#7f0090"/><stop offset="0.072" stop-color="#7b008c"/><stop offset="0.081" stop-color="#7b008c"/><stop offset="0.090" stop-color="#7d008e"/><stop offset="0.099" stop-color="#7b008c"/><stop offset="0.100" stop-color="#850096"/><stop offset="0.110" stop-color="#850096"/><stop offset="0.119" stop-color="#870098"/><stop offset="0.128" stop-color="#860097"/><stop offset="0.137" stop-color="#860097"/><stop offset="0.145" stop-color="#850096"/><stop offset="0.153" stop-color="#820093"/><stop offset="0.164" stop-color="#830094"/><stop offset="0.170" stop-color="#0000dd"/><stop offset="0.179" stop-color="#0000dd"/><stop offset="0.188" stop-color="#0000dd"/><stop offset="0.198" stop-color="#0000dd"/><stop offset="0.205" stop-color="#0088dd"/><stop offset="0.217" stop-color="#0098dd"/><stop offset="0.226" stop-color="#0090dd"/><stop offset="0.235" stop-color="#0095dd"/><stop offset="0.244" stop-color="#0095dd"/><stop offset="0.253" stop-color="#009adb"/><stop offset="0.262" stop-color="#009adb"/><stop offset="0.272" stop-color="#009ecf"/><stop offset="0.277" stop-color="#009cd3"/><stop offset="0.286" stop-color="#009ecf"/><stop offset="0.295" stop-color="#009cd3"/><stop offset="0.304" stop-color="#00a3bf"/><stop offset="0.313" stop-color="#00a3bf"/><stop offset="0.321" stop-color="#00a4bb"/><stop offset="0.331" stop-color="#00a6b7"/><stop offset="0.340" stop-color="#00a6b7"/><stop offset="0.349" stop-color="#00a8af"/><stop offset="0.358" stop-color="#00aaa8"/><stop offset="0.367" stop-color="#00aaa5"/><stop offset="0.377" stop-color="#00aaa3"/><stop offset="0.381" stop-color="#00aaa3"/><stop offset="0.391" stop-color="#00aa9d"/><stop offset="0.400" stop-color="#00aa9b"/><stop offset="0.409" stop-color="#00aa9b"/><stop offset="0.418" stop-color="#00aa93"/><stop offset="0.430" stop-color="#00aa8d"/><stop offset="0.439" stop-color="#00a668"/><stop offset="0.448" stop-color="#00a668"/><stop offset="0.458" stop-color="#00a13d"/><stop offset="0.464" stop-color="#009f33"/><stop offset="0.473" stop-color="#009d1d"/><stop offset="0.482" stop-color="#009f33"/><stop offset="0.491" stop-color="#00a13d"/><stop offset="0.501" stop-color="#009d1d"/><stop offset="0.510" stop-color="#009e28"/><stop offset="0.519" stop-color="#00a13d"/><stop offset="0.528" stop-color="#009f33"/><stop offset="0.537" stop-color="#009d1d"/><stop offset="0.546" stop-color="#009f33"/><stop offset="0.556" stop-color="#009f33"/><stop offset="0.565" stop-color="#009f33"/><stop offset="0.574" stop-color="#00a13d"/><stop offset="0.584" stop-color="#009f33"/><stop offset="0.593" stop-color="#00a353"/><stop offset="0.602" stop-color="#00a55d"/><stop offset="0.611" stop-color="#00aa8b"/><stop offset="0.617" stop-color="#00aa8d"/><stop offset="0.627" stop-color="#00aa90"/><stop offset="0.636" stop-color="#00aa98"/><stop offset="0.645" stop-color="#00aa95"/><stop offset="0.654" stop-color="#00aa9d"/><stop offset="0.666" stop-color="#00aaa3"/><stop offset="0.675" stop-color="#00a8af"/><stop offset="0.685" stop-color="#00a2c3"/><stop offset="0.694" stop-color="#00a3bf"/><stop offset="0.704" stop-color="#009fcb"/><stop offset="0.713" stop-color="#009ecf"/><stop offset="0.722" stop-color="#009bd7"/><stop offset="0.734" stop-color="#0098dd"/><stop offset="0.739" stop-color="#0098dd"/><stop offset="0.743" stop-color="#0098dd"/><stop offset="0.743" stop-color="#00e400"/><stop offset="0.747" stop-color="#00e400"/><stop offset="0.747" stop-color="#0098dd"/><stop offset="0.758" stop-color="#00a3bf"/><stop offset="0.758" stop-color="#009f00"/><stop offset="0.764" stop-color="#009f00"/><stop offset="0.764" stop-color="#00aaa3"/><stop offset="0.767" stop-color="#00aaa3"/><stop offset="0.767" stop-color="#00a700"/><stop offset="0.779" stop-color="#00a700"/><stop offset="0.779" stop-color="#00ff00"/><stop offset="0.783" stop-color="#00ff00"/><stop offset="0.783" stop-color="#00a353"/><stop offset="0.792" stop-color="#009f33"/><stop offset="0.797" stop-color="#009d1d"/><stop offset="0.797" stop-color="#00f200"/><stop offset="0.801" stop-color="#00f200"/><stop offset="0.801" stop-color="#00aaa3"/><stop offset="0.810" stop-color="#00a8af"/><stop offset="0.814" stop-color="#00a7b3"/><stop offset="0.814" stop-color="#00bc00"/><stop offset="0.818" stop-color="#00bc00"/><stop offset="0.818" stop-color="#009fcb"/><stop offset="0.827" stop-color="#0098dd"/><stop offset="0.829" stop-color="#0041dd"/><stop offset="0.838" stop-color="#0038dd"/><stop offset="0.848" stop-color="#002fdd"/><stop offset="0.857" stop-color="#0025dd"/><stop offset="0.868" stop-color="#0013dd"/><stop offset="0.878" stop-color="#0000cd"/><stop offset="0.887" stop-color="#0000b1"/><stop offset="0.898" stop-color="#870098"/><stop offset="0.902" stop-color="#850096"/><stop offset="0.911" stop-color="#850096"/><stop offset="0.921" stop-color="#850096"/><stop offset="0.930" stop-color="#860097"/><stop offset="0.939" stop-color="#810092"/><stop offset="0.948" stop-color="#860097"/><stop offset="0.957" stop-color="#830094"/><stop offset="0.966" stop-color="#820093"/><stop offset="0.976" stop-color="#830094"/><stop offset="0.985" stop-color="#820093"/><stop offset="0.994" stop-color="#850096"/><stop offset="1.000" stop-color="#850096"/></linearGradient><linearGradient id="g16"><stop offset="0.000" stop-color="#000000"/><stop offset="0.009" stop-color="#000000"/><stop offset="0.018" stop-color="#000000"/><stop offset="0.028" stop-color="#000000"/><stop offset="0.037" stop-color="#000000"/><stop offset="0.037" stop-color="#830094"/><stop offset="0.046" stop-color="#7f0090"/><stop offset="0.055" stop-color="#820093"/><stop offset="0.063" stop-color="#820093"/><stop offset="0.069" stop-color="#7f0090"/><stop offset="0.072" stop-color="#7b008c"/><stop offset="0.081" stop-color="#7b008c"/><stop offset="0.090" stop-color="#7a008b"/><stop offset="0.099" stop-color="#7b008c"/><stop offset="0.100" stop-color="#850096"/><stop offset="0.110" stop-color="#850096"/><stop offset="0.119" stop-color="#830094"/><stop offset="0.128" stop-color="#820093"/><stop offset="0.137" stop-color="#820093"/><stop offset="0.145" stop-color="#850096"/><stop offset="0.153" stop-color="#820093"/><stop offset="0.164" stop-color="#830094"/><stop offset="0.170" stop-color="#0000dd"/><stop offset="0.179" stop-color="#0000dd"/><stop offset="0.188" stop-color="#0000dd"/><stop offset="0.198" stop-color="#0000dd"/><stop offset="0.205" stop-color="#0088dd"/><stop offset="0.217" stop-color="#009bd7"/><stop offset="0.226" stop-color="#009ecf"/><stop offset="0.235" stop-color="#009cd3"/><stop offset="0.244" stop-color="#009adb"/><stop offset="0.253" stop-color="#009ecf"/><stop offset="0.262" stop-color="#009ecf"/><stop offset="0.272" stop-color="#00a0c7"/><stop offset="0.277" stop-color="#009fcb"/><stop offset="0.286" stop-color="#00a0c7"/><stop offset="0.295" stop-color="#00a3bf"/><stop offset="0.304" stop-color="#00a3bf"/><stop offset="0.313" stop-color="#00a3bf"/><stop offset="0.321" stop-color="#00a4bb"/><stop offset="0.331" stop-color="#00a6b7"/><stop offset="0.340" stop-color="#00aaa8"/><stop offset="0.349" stop-color="#00a8af"/><stop offset="0.358" stop-color="#00aaa5"/><stop offset="0.367" stop-color="#00aaa3"/><stop offset="0.377" stop-color="#00aa9d"/><stop offset="0.381" stop-color="#00aaa3"/><stop offset="0.391" stop-color="#00aa9b"/><stop offset="0.400" stop-color="#00aa98"/><stop offset="0.409" stop-color="#00aa8b"/><stop offset="0.418" stop-color="#00aa8d"/><stop offset="0.430" stop-color="#00a773"/><stop offset="0.439" stop-color="#00a668"/><stop offset="0.448" stop-color="#009f33"/><stop offset="0.458" stop-color="#009a00"/><stop offset="0.464" stop-color="#009f00"/><stop offset="0.473" stop-color="#00a400"/><stop offset="0.482" stop-color="#00a400"/><stop offset="0.491" stop-color="#00ac00"/><stop offset="0.501" stop-color="#00aa00"/><stop offset="0.510" stop-color="#009f00"/><stop offset="0.519" stop-color="#009f00"/><stop offset="0.528" stop-color="#00a200"/><stop offset="0.537" stop-color="#009a08"/><stop offset="0.546" stop-color="#00a200"/><stop offset="0.556" stop-color="#009c00"/><stop offset="0.565" stop-color="#009c00"/><stop offset="0.574" stop-color="#00a200"/><stop offset="0.584" stop-color="#009f00"/><stop offset="0.593" stop-color="#009a00"/><stop offset="0.602" stop-color="#009f33"/><stop offset="0.611" stop-color="#00a353"/><stop offset="0.617" stop-color="#00a97d"/><stop offset="0.627" stop-color="#00a773"/><stop offset="0.636" stop-color="#00aa8b"/><stop offset="0.645" stop-color="#00aa95"/><stop offset="0.654" stop-color="#00aa9b"/><stop offset="0.666" stop-color="#00aaa3"/><stop offset="0.675" stop-color="#00aaab"/><stop offset="0.685" stop-color="#00aaa5"/><stop offset="0.694" stop-color="#00a4bb"/><stop offset="0.704" stop-color="#009fcb"/><stop offset="0.713" stop-color="#009ecf"/><stop offset="0.722" stop-color="#009ecf"/><stop offset="0.734" stop-color="#0098dd"/><stop offset="0.739" stop-color="#0098dd"/><stop offset="0.743" stop-color="#0098dd"/><stop offset="0.743" stop-color="#00e400"/><stop offset="0.747" stop-color="#00e400"/><stop offset="0.747" stop-color="#0098dd"/><stop offset="0.758" stop-color="#00a3bf"/><stop offset="0.758" stop-color="#009f00"/><stop offset="0.764" stop-color="#009f00"/><stop offset="0.764" stop-color="#00aaa3"/><stop offset="0.767" stop-color="#00aaa3"/><stop offset="0.767" stop-color="#00a700"/><stop offset="0.779" stop-color="#00a700"/><stop offset="0.779" stop-color="#00ff00"/><stop offset="0.783" stop-color="#00ff00"/><stop offset="0.783" stop-color="#00a353"/><stop offset="0.792" stop-color="#009f33"/><stop offset="0.797" stop-color="#009d1d"/><stop offset="0.797" stop-color="#00f200"/><stop offset="0.801" stop-color="#00f200"/><stop offset="0.801" stop-color="#00aaa3"/><stop offset="0.810" stop-color="#00a8af"/><stop offset="0.814" stop-color="#00a7b3"/><stop offset="0.814" stop-color="#00bc00"/><stop offset="0.818" stop-color="#00bc00"/><stop offset="0.818" stop-color="#009fcb"/><stop offset="0.827" stop-color="#0098dd"/><stop offset="0.829" stop-color="#0041dd"/><stop offset="0.838" stop-color="#0038dd"/><stop offset="0.848" stop-color="#002fdd"/><stop offset="0.857" stop-color="#0025dd"/><stop offset="0.868" stop-color="#0013dd"/><stop offset="0.878" stop-color="#0000cd"/><stop offset="0.887" stop-color="#0000b1"/><stop offset="0.898" stop-color="#870098"/><stop offset="0.902" stop-color="#850096"/><stop offset="0.911" stop-color="#830094"/><stop offset="0.921" stop-color="#830094"/><stop offset="0.930" stop-color="#810092"/><stop offset="0.939" stop-color="#820093"/><stop offset="0.948" stop-color="#860097"/><stop offset="0.957" stop-color="#860097"/><stop offset="0.966" stop-color="#850096"/><stop offset="0.976" stop-color="#830094"/><stop offset="0.985" stop-color="#850096"/><stop offset="0.994" stop-color="#830094"/><stop offset="1.000" stop-color="#850096"/></linearGradient><linearGradient id="g17"><stop offset="0.000" stop-color="#000000"/><stop offset="0.009" stop-color="#000000"/><stop offset="0.018" stop-color="#000000"/><stop offset="0.028" stop-color="#000000"/><stop offset="0.037" stop-color="#000000"/><stop offset="0.037" stop-color="#830094"/><stop offset="0.046" stop-color="#820093"/><stop offset="0.055" stop-color="#820093"/><stop offset="0.063" stop-color="#820093"/><stop offset="0.069" stop-color="#7f0090"/><stop offset="0.072" stop-color="#7b008c"/><stop offset="0.081" stop-color="#7d008e"/><stop offset="0.090" stop-color="#770088"/><stop offset="0.099" stop-color="#7b008c"/><stop offset="0.100" stop-color="#850096"/><stop offset="0.110" stop-color="#860097"/><stop offset="0.119" stop-color="#820093"/><stop offset="0.128" stop-color="#850096"/><stop offset="0.137" stop-color="#870098"/><stop offset="0.145" stop-color="#850096"/><stop offset="0.153" stop-color="#820093"/><stop offset="0.164" stop-color="#830094"/><stop offset="0.170" stop-color="#0000dd"/><stop offset="0.179" stop-color="#0000dd"/><stop offset="0.188" stop-color="#0000dd"/><stop offset="0.198" stop-color="#0000dd"/><stop offset="0.205" stop-color="#0088dd"/><stop offset="0.217" stop-color="#009fcb"/><stop offset="0.226" stop-color="#00a0c7"/><stop offset="0.235" stop-color="#00a2c3"/><stop offset="0.244" stop-color="#00a0c7"/><stop offset="0.253" stop-color="#00a2c3"/><stop offset="0.262" stop-color="#00a2c3"/><stop offset="0.272" stop-color="#009fcb"/><stop offset="0.277" stop-color="#00a3bf"/><stop offset="0.286" stop-color="#00a3bf"/><stop offset="0.295" stop-color="#00a2c3"/><stop offset="0.304" stop-color="#00a3bf"/><stop offset="0.313" stop-color="#00a6b7"/><stop offset="0.321" stop-color="#00a4bb"/><stop offset="0.331" stop-color="#00a3bf"/><stop offset="0.340" stop-color="#00a7b3"/><stop offset="0.349" stop-color="#00aaa8"/><stop offset="0.358" stop-color="#00aaab"/><stop offset="0.367" stop-color="#00a8af"/><stop offset="0.377" stop-color="#00aaa3"/><stop offset="0.381" stop-color="#00aaa3"/><stop offset="0.391" stop-color="#00aaa0"/><stop offset="0.400" stop-color="#00aa98"/><stop offset="0.409" stop-color="#00aa95"/><stop offset="0.418" stop-color="#00aa8d"/><stop offset="0.430" stop-color="#00a97d"/><stop offset="0.439" stop-color="#00a55d"/><stop offset="0.448" stop-color="#00a248"/><stop offset="0.458" stop-color="#009e28"/><stop offset="0.464" stop-color="#009a00"/><stop offset="0.473" stop-color="#009b13"/><stop offset="0.482" stop-color="#009d1d"/><stop offset="0.491" stop-color="#009f00"/><stop offset="0.501" stop-color="#009b13"/><stop offset="0.510" stop-color="#009a00"/><stop offset="0.519" stop-color="#009a08"/><stop offset="0.528" stop-color="#009f00"/><stop offset="0.537" stop-color="#009c00"/><stop offset="0.546" stop-color="#009a00"/><stop offset="0.556" stop-color="#009a00"/><stop offset="0.565" stop-color="#009f00"/><stop offset="0.574" stop-color="#009f00"/><stop offset="0.584" stop-color="#009a00"/><stop offset="0.593" stop-color="#009d1d"/><stop offset="0.602" stop-color="#009f33"/><stop offset="0.611" stop-color="#00a668"/><stop offset="0.617" stop-color="#00aa88"/><stop offset="0.627" stop-color="#00aa90"/><stop offset="0.636" stop-color="#00aa8d"/><stop offset="0.645" stop-color="#00aa98"/><stop offset="0.654" stop-color="#00aaa3"/><stop offset="0.666" stop-color="#00aaa3"/><stop offset="0.675" stop-color="#00a7b3"/><stop offset="0.685" stop-color="#00a6b7"/><stop offset="0.694" stop-color="#00a2c3"/><stop offset="0.704" stop-color="#009fcb"/><stop offset="0.713" stop-color="#009bd7"/><stop offset="0.722" stop-color="#0098dd"/><stop offset="0.734" stop-color="#0098dd"/><stop offset="0.739" stop-color="#0098dd"/><stop offset="0.743" stop-color="#0098dd"/><stop offset="0.743" stop-color="#00e400"/><stop offset="0.747" stop-color="#00e400"/><stop offset="0.747" stop-color="#0098dd"/><stop offset="0.758" stop-color="#00a3bf"/><stop offset="0.758" stop-color="#009f00"/><stop offset="0.764" stop-color="#009f00"/><stop offset="0.764" stop-color="#00aaa3"/><stop offset="0.767" stop-color="#00aaa3"/><stop offset="0.767" stop-color="#00a700"/><stop offset="0.779" stop-color="#00a700"/><stop offset="0.779" stop-color="#00ff00"/><stop offset="0.783" stop-color="#00ff00"/><stop offset="0.783" stop-color="#00a353"/><stop offset="0.792" stop-color="#009f33"/><stop offset="0.797" stop-color="#009d1d"/><stop offset="0.797" stop-color="#00f200"/><stop offset="0.801" stop-color="#00f200"/><stop offset="0.801" stop-color="#00aaa3"/><stop offset="0.810" stop-color="#00a8af"/><stop offset="0.814" stop-color="#00a7b3"/><stop offset="0.814" stop-color="#00bc00"/><stop offset="0.818" stop-color="#00bc00"/><stop offset="0.818" stop-color="#009fcb"/><stop offset="0.827" stop-color="#0098dd"/><stop offset="0.829" stop-color="#0041dd"/><stop offset="0.838" stop-color="#0038dd"/><stop offset="0.848" stop-color="#002fdd"/><stop offset="0.857" stop-color="#0025dd"/><stop offset="0.868" stop-color="#0013dd"/><stop offset="0.878" stop-color="#0000cd"/><stop offset="0.887" stop-color="#0000b1"/><stop offset="0.898" stop-color="#870098"/><stop offset="0.902" stop-color="#850096"/><stop offset="0.911" stop-color="#830094"/><stop offset="0.921" stop-color="#860097"/><stop offset="0.930" stop-color="#830094"/><stop offset="0.939" stop-color="#830094"/><stop offset="0.948" stop-color="#850096"/><stop offset="0.957" stop-color="#850096"/><stop offset="0.966" stop-color="#830094"/><stop offset="0.976" stop-color="#830094"/><stop offset="0.985" stop-color="#850096"/><stop offset="0.994" stop-color="#830094"/><stop offset="1.000" stop-color="#850096"/></linearGradient><linearGradient id="g18"><stop offset="0.000" stop-color="#000000"/><stop offset="0.009" stop-color="#000000"/><stop offset="0.018" stop-color="#000000"/><stop offset="0.028" stop-color="#000000"/><stop offset="0.037" stop-color="#000000"/><stop offset="0.037" stop-color="#830094"/><stop offset="0.046" stop-color="#830094"/><stop offset="0.055" stop-color="#860097"/><stop offset="0.063" stop-color="#820093"/><stop offset="0.069" stop-color="#7f0090"/><stop offset="0.072" stop-color="#7b008c"/><stop offset="0.081" stop-color="#7e008f"/><stop offset="0.090" stop-color="#7b008c"/><stop offset="0.099" stop-color="#7b008c"/><stop offset="0.100" stop-color="#850096"/><stop offset="0.110" stop-color="#860097"/><stop offset="0.119" stop-color="#830094"/><stop offset="0.128" stop-color="#830094"/><stop offset="0.137" stop-color="#810092"/><stop offset="0.145" stop-color="#850096"/><stop offset="0.153" stop-color="#820093"/><stop offset="0.164" stop-color="#830094"/><stop offset="0.170" stop-color="#0000dd"/><stop offset="0.179" stop-color="#0000dd"/><stop offset="0.188" stop-color="#0000dd"/><stop offset="0.198" stop-color="#0000dd"/><stop offset="0.205" stop-color="#0088dd"/><stop offset="0.217" stop-color="#009bd7"/><stop offset="0.226" stop-color="#009ecf"/><stop offset="0.235" stop-color="#00a2c3"/><stop offset="0.244" stop-color="#009ecf"/><stop offset="0.253" stop-color="#009cd3"/><stop offset="0.262" stop-color="#009adb"/><stop offset="0.272" stop-color="#00a4bb"/><stop offset="0.277" stop-color="#009fcb"/><stop offset="0.286" stop-color="#009fcb"/><stop offset="0.295" stop-color="#00a3bf"/><stop offset="0.304" stop-color="#00a4bb"/><stop offset="0.313" stop-color="#00a2c3"/><stop offset="0.321" stop-color="#00a4bb"/><stop offset="0.331" stop-color="#00a4bb"/><stop offset="0.340" stop-color="#00a6b7"/><stop offset="0.349" stop-color="#00aaa8"/><stop offset="0.358" stop-color="#00aaa8"/><stop offset="0.367" stop-color="#00aaab"/><stop offset="0.377" stop-color="#00aaa5"/><stop offset="0.381" stop-color="#00aaa3"/><stop offset="0.391" stop-color="#00aaa3"/><stop offset="0.400" stop-color="#00aa98"/><stop offset="0.409" stop-color="#00aa95"/><stop offset="0.418" stop-color="#00aa90"/><stop offset="0.430" stop-color="#00aa8b"/><stop offset="0.439" stop-color="#00a668"/><stop offset="0.448" stop-color="#00a248"/><stop offset="0.458" stop-color="#009e28"/><stop offset="0.464" stop-color="#009d1d"/><stop offset="0.473" stop-color="#009f33"/><stop offset="0.482" stop-color="#009f33"/><stop offset="0.491" stop-color="#009d1d"/><stop offset="0.501" stop-color="#009d1d"/><stop offset="0.510" stop-color="#009d1d"/><stop offset="0.519" stop-color="#009e28"/><stop offset="0.528" stop-color="#009e28"/><stop offset="0.537" stop-color="#009e28"/><stop offset="0.546" stop-color="#00a13d"/><stop offset="0.556" stop-color="#009e28"/><stop offset="0.565" stop-color="#009e28"/><stop offset="0.574" stop-color="#009b13"/><stop offset="0.584" stop-color="#009d1d"/><stop offset="0.593" stop-color="#009f33"/><stop offset="0.602" stop-color="#00a668"/><stop offset="0.611" stop-color="#00aa8b"/><stop offset="0.617" stop-color="#00aa8b"/><stop offset="0.627" stop-color="#00aa90"/><stop offset="0.636" stop-color="#00aa93"/><stop offset="0.645" stop-color="#00aa95"/><stop offset="0.654" stop-color="#00aaa0"/><stop offset="0.666" stop-color="#00aaa3"/><stop offset="0.675" stop-color="#00aaa3"/><stop offset="0.685" stop-color="#00a8af"/><stop offset="0.694" stop-color="#00a3bf"/><stop offset="0.704" stop-color="#009fcb"/><stop offset="0.713" stop-color="#009ecf"/><stop offset="0.722" stop-color="#009cd3"/><stop offset="0.734" stop-color="#0098dd"/><stop offset="0.739" stop-color="#0098dd"/><stop offset="0.743" stop-color="#0098dd"/><stop offset="0.743" stop-color="#00e400"/><stop offset="0.747" stop-color="#00e400"/><stop offset="0.747" stop-color="#0098dd"/><stop offset="0.758" stop-color="#00a3bf"/><stop offset="0.758" stop-color="#009f00"/><stop offset="0.764" stop-color="#009f00"/><stop offset="0.764" stop-color="#00aaa3"/><stop offset="0.767" stop-color="#00aaa3"/><stop offset="0.767" stop-color="#00a700"/><stop offset="0.779" stop-color="#00a700"/><stop offset="0.779" stop-color="#00ff00"/><stop offset="0.783" stop-color="#00ff00"/><stop offset="0.783" stop-color="#00a353"/><stop offset="0.792" stop-color="#009f33"/><stop offset="0.797" stop-color="#009d1d"/><stop offset="0.797" stop-color="#00f200"/><stop offset="0.801" stop-color="#00f200"/><stop offset="0.801" stop-color="#00aaa3"/><stop offset="0.810" stop-color="#00a8af"/><stop offset="0.814" stop-color="#00a7b3"/><stop offset="0.814" stop-color="#00bc00"/><stop offset="0.818" stop-color="#00bc00"/><stop offset="0.818" stop-color="#009fcb"/><stop offset="0.827" stop-color="#0098dd"/><stop offset="0.829" stop-color="#0041dd"/><stop offset="0.838" stop-color="#0038dd"/><stop offset="0.848" stop-color="#002fdd"/><stop offset="0.857" stop-color="#0025dd"/><stop offset="0.868" stop-color="#0013dd"/><stop offset="0.878" stop-color="#0000cd"/><stop offset="0.887" stop-color="#0000b1"/><stop offset="0.898" stop-color="#870098"/><stop offset="0.902" stop-color="#850096"/><stop offset="0.911" stop-color="#860097"/><stop offset="0.921" stop-color="#820093"/><stop offset="0.930" stop-color="#860097"/><stop offset="0.939" stop-color="#870098"/><stop offset="0.948" stop-color="#860097"/><stop offset="0.957" stop-color="#850096"/><stop offset="0.966" stop-color="#820093"/><stop offset="0.976" stop-color="#830094"/><stop offset="0.985" stop-color="#830094"/><stop offset="0.994" stop-color="#850096"/><stop offset="1.000" stop-color="#850096"/></linearGradient><linearGradient id="g19"><stop offset="0.000" stop-color="#000000"/><stop offset="0.009" stop-color="#000000"/><stop offset="0.018" stop-color="#000000"/><stop offset="0.028" stop-color="#000000"/><stop offset="0.037" stop-color="#000000"/><stop offset="0.037" stop-color="#830094"/><stop offset="0.046" stop-color="#850096"/><stop offset="0.055" stop-color="#820093"/><stop offset="0.063" stop-color="#820093"/><stop offset="0.069" stop-color="#7f0090"/><stop offset="0.072" stop-color="#7b008c"/><stop offset="0.081" stop-color="#7d008e"/><stop offset="0.090" stop-color="#7a008b"/><stop offset="0.099" stop-color="#7b008c"/><stop offset="0.100" stop-color="#850096"/><stop offset="0.110" stop-color="#830094"/><stop offset="0.119" stop-color="#850096"/><stop offset="0.128" stop-color="#860097"/><stop offset="0.137" stop-color="#850096"/><stop offset="0.145" stop-color="#850096"/><stop offset="0.153" stop-color="#820093"/><stop offset="0.164" stop-color="#830094"/><stop offset="0.170" stop-color="#0000dd"/><stop offset="0.179" stop-color="#0000dd"/><stop offset="0.188" stop-color="#0000dd"/><stop offset="0.198" stop-color="#0000dd"/><stop offset="0.205" stop-color="#0088dd"/><stop offset="0.217" stop-color="#0098dd"/><stop offset="0.226" stop-color="#0098dd"/><stop offset="0.235" stop-color="#0098dd"/><stop offset="0.244" stop-color="#009cd3"/><stop offset="0.253" stop-color="#009cd3"/><stop offset="0.262" stop-color="#009bd7"/><stop offset="0.272" stop-color="#009bd7"/><stop offset="0.277" stop-color="#009cd3"/><stop offset="0.286" stop-color="#009bd7"/><stop offset="0.295" stop-color="#00a0c7"/><stop offset="0.304" stop-color="#00a0c7"/><stop offset="0.313" stop-color="#00a3bf"/><stop offset="0.321" stop-color="#00a4bb"/><stop offset="0.331" stop-color="#00a8af"/><stop offset="0.340" stop-color="#00aaa8"/><stop offset="0.349" stop-color="#00a7b3"/><stop offset="0.358" stop-color="#00aaa3"/><stop offset="0.367" stop-color="#00aaa8"/><stop offset="0.377" stop-color="#00aaab"/><stop offset="0.381" stop-color="#00aaa3"/><stop offset="0.391" stop-color="#00aa9b"/><stop offset="0.400" stop-color="#00aaa3"/><stop offset="0.409" stop-color="#00aa95"/><stop offset="0.418" stop-color="#00aa93"/><stop offset="0.430" stop-color="#00aa8d"/><stop offset="0.439" stop-color="#00aa8d"/><stop offset="0.448" stop-color="#00a773"/><stop offset="0.458" stop-color="#00a55d"/><stop offset="0.464" stop-color="#009f33"/><stop offset="0.473" stop-color="#009f33"/><stop offset="0.482" stop-color="#00a13d"/><stop offset="0.491" stop-color="#009f33"/><stop offset="0.501" stop-color="#009f33"/><stop offset="0.510" stop-color="#00a13d"/><stop offset="0.519" stop-color="#009f33"/><stop offset="0.528" stop-color="#009d1d"/><stop offset="0.537" stop-color="#009e28"/><stop offset="0.546" stop-color="#009b13"/><stop offset="0.556" stop-color="#009f33"/><stop offset="0.565" stop-color="#00a13d"/><stop offset="0.574" stop-color="#009f33"/><stop offset="0.584" stop-color="#009f33"/><stop offset="0.593" stop-color="#00a55d"/><stop offset="0.602" stop-color="#00a55d"/><stop offset="0.611" stop-color="#00aa88"/><stop offset="0.617" stop-color="#00aa8d"/><stop offset="0.627" stop-color="#00aa95"/><stop offset="0.636" stop-color="#00aa95"/><stop offset="0.645" stop-color="#00aaa0"/><stop offset="0.654" stop-color="#00aaa3"/><stop offset="0.666" stop-color="#00aaa3"/><stop offset="0.675" stop-color="#00aaa8"/><stop offset="0.685" stop-color="#00a4bb"/><stop offset="0.694" stop-color="#00a2c3"/><stop offset="0.704" stop-color="#009fcb"/><stop offset="0.713" stop-color="#009cd3"/><stop offset="0.722" stop-color="#009adb"/><stop offset="0.734" stop-color="#0098dd"/><stop offset="0.739" stop-color="#0098dd"/><stop offset="0.743" stop-color="#0098dd"/><stop offset="0.743" stop-color="#00e400"/><stop offset="0.747" stop-color="#00e400"/><stop offset="0.747" stop-color="#0098dd"/><stop offset="0.758" stop-color="#00a3bf"/><stop offset="0.758" stop-color="#009f00"/><stop offset="0.764" stop-color="#009f00"/><stop offset="0.764" stop-color="#00aaa3"/><stop offset="0.767" stop-color="#00aaa3"/><stop offset="0.767" stop-color="#00a700"/><stop offset="0.779" stop-color="#00a700"/><stop offset="0.779" stop-color="#00ff00"/><stop offset="0.783" stop-color="#00ff00"/><stop offset="0.783" stop-color="#00a353"/><stop offset="0.792" stop-color="#009f33"/><stop offset="0.797" stop-color="#009d1d"/><stop offset="0.797" stop-color="#00f200"/><stop offset="0.801" stop-color="#00f200"/><stop offset="0.801" stop-color="#00aaa3"/><stop offset="0.810" stop-color="#00a8af"/><stop offset="0.814" stop-color="#00a7b3"/><stop offset="0.814" stop-color="#00bc00"/><stop offset="0.818" stop-color="#00bc00"/><stop offset="0.818" stop-color="#009fcb"/><stop offset="0.827" stop-color="#0098dd"/><stop offset="0.829" stop-color="#0041dd"/><stop offset="0.838" stop-color="#0038dd"/><stop offset="0.848" stop-color="#002fdd"/><stop offset="0.857" stop-color="#0025dd"/><stop offset="0.868" stop-color="#0013dd"/><stop offset="0.878" stop-color="#0000cd"/><stop offset="0.887" stop-color="#0000b1"/><stop offset="0.898" stop-color="#870098"/><stop offset="0.902" stop-color="#850096"/><stop offset="0.911" stop-color="#860097"/><stop offset="0.921" stop-color="#830094"/><stop offset="0.930" stop-color="#830094"/><stop offset="0.939" stop-color="#830094"/><stop offset="0.948" stop-color="#850096"/><stop offset="0.957" stop-color="#860097"/><stop offset="0.966" stop-color="#820093"/><stop offset="0.976" stop-color="#850096"/><stop offset="0.985" stop-color="#830094"/><stop offset="0.994" stop-color="#830094"/><stop offset="1.000" stop-color="#850096"/></linearGradient><linearGradient id="g20"><stop offset="0.000" stop-color="#000000"/><stop offset="0.009" stop-color="#000000"/><stop offset="0.018" stop-color="#000000"/><stop offset="0.028" stop-color="#000000"/><stop offset="0.037" stop-color="#000000"/><stop offset="0.037" stop-color="#4b0055"/><stop offset="0.046" stop-color="#5d006b"/><stop offset="0.055" stop-color="#4b0055"/><stop offset="0.064" stop-color="#5d006b"/><stop offset="0.073" stop-color="#4b0055"/><stop offset="0.083" stop-color="#4b0055"/><stop offset="0.092" stop-color="#41004b"/><stop offset="0.101" stop-color="#4b0055"/><stop offset="0.110" stop-color="#41004b"/><stop offset="0.119" stop-color="#540060"/><stop offset="0.129" stop-color="#4b0055"/><stop offset="0.138" stop-color="#41004b"/><stop offset="0.147" stop-color="#4b0055"/><stop offset="0.156" stop-color="#41004b"/><stop offset="0.164" stop-color="#4b0055"/><stop offset="0.173" stop-color="#380040"/><stop offset="0.182" stop-color="#2f0035"/><stop offset="0.194" stop-color="#130015"/><stop offset="0.205" stop-color="#000000"/><stop offset="0.214" stop-color="#000000"/><stop offset="0.224" stop-color="#000000"/><stop offset="0.233" stop-color="#000000"/><stop offset="0.242" stop-color="#000000"/><stop offset="0.251" stop-color="#000000"/><stop offset="0.260" stop-color="#000000"/><stop offset="0.270" stop-color="#000000"/><stop offset="0.279" stop-color="#000000"/><stop offset="0.288" stop-color="#000000"/><stop offset="0.297" stop-color="#000000"/><stop offset="0.306" stop-color="#000000"/><stop offset="0.315" stop-color="#000000"/><stop offset="0.325" stop-color="#000000"/><stop offset="0.334" stop-color="#000000"/><stop offset="0.343" stop-color="#000000"/><stop offset="0.352" stop-color="#000000"/><stop offset="0.361" stop-color="#000000"/><stop offset="0.371" stop-color="#000000"/><stop offset="0.380" stop-color="#000000"/><stop offset="0.389" stop-color="#000000"/><stop offset="0.398" stop-color="#000000"/><stop offset="0.407" stop-color="#000000"/><stop offset="0.416" stop-color="#000000"/><stop offset="0.426" stop-color="#000000"/><stop offset="0.435" stop-color="#000000"/><stop offset="0.444" stop-color="#000000"/><stop offset="0.453" stop-color="#000000"/><stop offset="0.462" stop-color="#000000"/><stop offset="0.472" stop-color="#000000"/><stop offset="0.481" stop-color="#000000"/><stop offset="0.490" stop-color="#000000"/><stop offset="0.499" stop-color="#000000"/><stop offset="0.508" stop-color="#000000"/><stop offset="0.517" stop-color="#000000"/><stop offset="0.527" stop-color="#000000"/><stop offset="0.536" stop-color="#000000"/><stop offset="0.545" stop-color="#000000"/><stop offset="0.554" stop-color="#000000"/><stop offset="0.563" stop-color="#000000"/><stop offset="0.569" stop-color="#000000"/><stop offset="0.578" stop-color="#000000"/><stop offset="0.587" stop-color="#09000b"/><stop offset="0.596" stop-color="#09000b"/><stop offset="0.606" stop-color="#130015"/><stop offset="0.615" stop-color="#25002b"/><stop offset="0.625" stop-color="#130015"/><stop offset="0.634" stop-color="#1c0020"/><stop offset="0.643" stop-color="#1c0020"/><stop offset="0.652" stop-color="#1c0020"/><stop offset="0.661" stop-color="#1c0020"/><stop offset="0.670" stop-color="#25002b"/><stop offset="0.680" stop-color="#380040"/><stop offset="0.689" stop-color="#25002b"/><stop offset="0.698" stop-color="#1c0020"/><stop offset="0.707" stop-color="#2f0035"/><stop offset="0.716" stop-color="#2f0035"/><stop offset="0.726" stop-color="#25002b"/><stop offset="0.735" stop-color="#380040"/><stop offset="0.744" stop-color="#380040"/><stop offset="0.756" stop-color="#41004b"/><stop offset="0.765" stop-color="#41004b"/><stop offset="0.774" stop-color="#4b0055"/><stop offset="0.784" stop-color="#4b0055"/><stop offset="0.793" stop-color="#4b0055"/><stop offset="0.802" stop-color="#4b0055"/><stop offset="0.811" stop-color="#4b0055"/><stop offset="0.820" stop-color="#4b0055"/><stop offset="0.830" stop-color="#4b0055"/><stop offset="0.839" stop-color="#4b0055"/><stop offset="0.848" stop-color="#380040"/><stop offset="0.857" stop-color="#4b0055"/><stop offset="0.866" stop-color="#41004b"/><stop offset="0.875" stop-color="#4b0055"/><stop offset="0.885" stop-color="#4b0055"/><stop offset="0.894" stop-color="#4b0055"/><stop offset="0.906" stop-color="#4b0055"/><stop offset="0.915" stop-color="#41004b"/><stop offset="0.924" stop-color="#4b0055"/><stop offset="0.933" stop-color="#41004b"/><stop offset="0.943" stop-color="#5d006b"/><stop offset="0.952" stop-color="#4b0055"/><stop offset="0.961" stop-color="#540060"/><stop offset="0.970" stop-color="#4b0055"/><stop offset="0.979" stop-color="#540060"/><stop offset="0.989" stop-color="#4b0055"/><stop offset="1.000" stop-color="#41004b"/></linearGradient><linearGradient id="g21"><stop offset="0.000" stop-color="#000000"/><stop offset="0.009" stop-color="#000000"/><stop offset="0.018" stop-color="#000000"/><stop offset="0.028" stop-color="#000000"/><stop offset="0.037" stop-color="#000000"/><stop offset="0.037" stop-color="#00a3bf"/><stop offset="0.046" stop-color="#00a4bb"/><stop offset="0.055" stop-color="#009fcb"/><stop offset="0.064" stop-color="#00a3bf"/><stop offset="0.073" stop-color="#00a6b7"/><stop offset="0.082" stop-color="#00aaab"/><stop offset="0.091" stop-color="#00aaab"/><stop offset="0.100" stop-color="#00a6b7"/><stop offset="0.109" stop-color="#00aa9d"/><stop offset="0.118" stop-color="#00aaa0"/><stop offset="0.128" stop-color="#00aaa8"/><stop offset="0.137" stop-color="#00aa9d"/><stop offset="0.146" stop-color="#00aaa8"/><stop offset="0.155" stop-color="#00a8af"/><stop offset="0.164" stop-color="#00aaa3"/><stop offset="0.172" stop-color="#00bc00"/><stop offset="0.181" stop-color="#00d200"/><stop offset="0.190" stop-color="#00e700"/><stop offset="0.194" stop-color="#00f200"/><stop offset="0.205" stop-color="#dcf400"/><stop offset="0.214" stop-color="#dcf400"/><stop offset="0.224" stop-color="#d0f800"/><stop offset="0.233" stop-color="#d4f700"/><stop offset="0.242" stop-color="#bcff00"/><stop offset="0.251" stop-color="#f4e200"/><stop offset="0.260" stop-color="#d8f500"/><stop offset="0.270" stop-color="#dcf400"/><stop offset="0.279" stop-color="#d8f500"/><stop offset="0.288" stop-color="#e0f300"/><stop offset="0.297" stop-color="#d4f700"/><stop offset="0.306" stop-color="#d4f700"/><stop offset="0.315" stop-color="#e0f300"/><stop offset="0.325" stop-color="#dcf400"/><stop offset="0.334" stop-color="#c4fc00"/><stop offset="0.344" stop-color="#d0f800"/><stop offset="0.353" stop-color="#d4f700"/><stop offset="0.362" stop-color="#d8f500"/><stop offset="0.371" stop-color="#c8fb00"/><stop offset="0.381" stop-color="#d8f500"/><stop offset="0.390" stop-color="#c4fc00"/><stop offset="0.399" stop-color="#c0fd00"/><stop offset="0.408" stop-color="#bcff00"/><stop offset="0.417" stop-color="#93ff00"/><stop offset="0.427" stop-color="#58ff00"/><stop offset="0.436" stop-color="#84ff00"/><stop offset="0.445" stop-color="#b0ff00"/><stop offset="0.454" stop-color="#a1ff00"/><stop offset="0.463" stop-color="#b0ff00"/><stop offset="0.472" stop-color="#a1ff00"/><stop offset="0.482" stop-color="#84ff00"/><stop offset="0.494" stop-color="#75ff00"/><stop offset="0.503" stop-color="#00fc00"/><stop offset="0.512" stop-color="#0fff00"/><stop offset="0.516" stop-color="#00ff00"/><stop offset="0.525" stop-color="#00fa00"/><stop offset="0.535" stop-color="#1dff00"/><stop offset="0.544" stop-color="#00f400"/><stop offset="0.553" stop-color="#00f400"/><stop offset="0.562" stop-color="#00f400"/><stop offset="0.571" stop-color="#00ea00"/><stop offset="0.581" stop-color="#00ef00"/><stop offset="0.590" stop-color="#00f200"/><stop offset="0.599" stop-color="#00ef00"/><stop offset="0.608" stop-color="#00f400"/><stop offset="0.614" stop-color="#00ea00"/><stop offset="0.623" stop-color="#00e700"/><stop offset="0.632" stop-color="#00cf00"/><stop offset="0.641" stop-color="#00e200"/><stop offset="0.650" stop-color="#00d400"/><stop offset="0.662" stop-color="#00ca00"/><stop offset="0.672" stop-color="#00ca00"/><stop offset="0.681" stop-color="#00bf00"/><stop offset="0.690" stop-color="#00c700"/><stop offset="0.699" stop-color="#00ca00"/><stop offset="0.708" stop-color="#00c700"/><stop offset="0.717" stop-color="#00bf00"/><stop offset="0.727" stop-color="#00c200"/><stop offset="0.737" stop-color="#00bc00"/><stop offset="0.741" stop-color="#00bc00"/><stop offset="0.743" stop-color="#00ea00"/><stop offset="0.747" stop-color="#00ea00"/><stop offset="0.749" stop-color="#00b400"/><stop offset="0.760" stop-color="#00bc00"/><stop offset="0.762" stop-color="#00e400"/><stop offset="0.765" stop-color="#00e400"/><stop offset="0.767" stop-color="#00b400"/><stop offset="0.779" stop-color="#00b400"/><stop offset="0.780" stop-color="#00ea00"/><stop offset="0.784" stop-color="#00ea00"/><stop offset="0.786" stop-color="#00ac00"/><stop offset="0.797" stop-color="#00ac00"/><stop offset="0.799" stop-color="#00f200"/><stop offset="0.803" stop-color="#00f200"/><stop offset="0.805" stop-color="#009a00"/><stop offset="0.816" stop-color="#009a00"/><stop offset="0.818" stop-color="#00dc00"/><stop offset="0.822" stop-color="#00dc00"/><stop offset="0.824" stop-color="#00aa88"/><stop offset="0.833" stop-color="#00aa90"/><stop offset="0.842" stop-color="#00aa93"/><stop offset="0.850" stop-color="#00aa95"/><stop offset="0.859" stop-color="#00aaa3"/><stop offset="0.868" stop-color="#00a7b3"/><stop offset="0.880" stop-color="#00a3bf"/><stop offset="0.889" stop-color="#009adb"/><stop offset="0.898" stop-color="#0090dd"/><stop offset="0.906" stop-color="#008add"/><stop offset="0.917" stop-color="#0013dd"/><stop offset="0.926" stop-color="#0000dd"/><stop offset="0.936" stop-color="#0000d1"/><stop offset="0.940" stop-color="#0000c9"/><stop offset="0.951" stop-color="#870098"/><stop offset="0.960" stop-color="#820093"/><stop offset="0.969" stop-color="#870098"/><stop offset="0.978" stop-color="#870098"/><stop offset="0.988" stop-color="#83009a"/><stop offset="0.997" stop-color="#810092"/><stop offset="1.000" stop-color="#850096"/></linearGradient><linearGradient id="g22"><stop offset="0.000" stop-color="#000000"/><stop offset="0.009" stop-color="#000000"/><stop offset="0.018" stop-color="#000000"/><stop offset="0.028" stop-color="#000000"/><stop offset="0.038" stop-color="#000000"/><stop offset="0.038" stop-color="#00a700"/><stop offset="0.047" stop-color="#00bc00"/><stop offset="0.057" stop-color="#00b700"/><stop offset="0.066" stop-color="#00af00"/><stop offset="0.075" stop-color="#00c200"/><stop offset="0.084" stop-color="#00ca00"/><stop offset="0.089" stop-color="#00bc00"/><stop offset="0.098" stop-color="#00c400"/><stop offset="0.108" stop-color="#00bf00"/><stop offset="0.117" stop-color="#00cf00"/><stop offset="0.126" stop-color="#00da00"/><stop offset="0.138" stop-color="#00dc00"/><stop offset="0.147" stop-color="#00df00"/><stop offset="0.156" stop-color="#00dc00"/><stop offset="0.165" stop-color="#00ea00"/><stop offset="0.175" stop-color="#00ec00"/><stop offset="0.187" stop-color="#00fa00"/><stop offset="0.194" stop-color="#00ff00"/><stop offset="0.198" stop-color="#bcff00"/><stop offset="0.209" stop-color="#f1e700"/><stop offset="0.218" stop-color="#f9d700"/><stop offset="0.224" stop-color="#fdcf00"/><stop offset="0.233" stop-color="#fdcf00"/><stop offset="0.243" stop-color="#fdcf00"/><stop offset="0.252" stop-color="#f8da00"/><stop offset="0.262" stop-color="#f1e700"/><stop offset="0.271" stop-color="#f1e700"/><stop offset="0.280" stop-color="#f0ea00"/><stop offset="0.289" stop-color="#e4f100"/><stop offset="0.298" stop-color="#dcf400"/><stop offset="0.306" stop-color="#dcf400"/><stop offset="0.316" stop-color="#f0ea00"/><stop offset="0.325" stop-color="#d4f700"/><stop offset="0.334" stop-color="#c4fc00"/><stop offset="0.343" stop-color="#bcff00"/><stop offset="0.352" stop-color="#ccf900"/><stop offset="0.362" stop-color="#d8f500"/><stop offset="0.371" stop-color="#c8fb00"/><stop offset="0.380" stop-color="#c8fb00"/><stop offset="0.389" stop-color="#ccf900"/><stop offset="0.398" stop-color="#bcff00"/><stop offset="0.407" stop-color="#d0f800"/><stop offset="0.419" stop-color="#c4fc00"/><stop offset="0.428" stop-color="#d4f700"/><stop offset="0.437" stop-color="#b0ff00"/><stop offset="0.446" stop-color="#c0fd00"/><stop offset="0.456" stop-color="#c4fc00"/><stop offset="0.465" stop-color="#d0f800"/><stop offset="0.474" stop-color="#c0fd00"/><stop offset="0.483" stop-color="#bcff00"/><stop offset="0.492" stop-color="#d0f800"/><stop offset="0.501" stop-color="#c4fc00"/><stop offset="0.511" stop-color="#c4fc00"/><stop offset="0.520" stop-color="#bcff00"/><stop offset="0.531" stop-color="#bcff00"/><stop offset="0.540" stop-color="#93ff00"/><stop offset="0.550" stop-color="#75ff00"/><stop offset="0.559" stop-color="#b0ff00"/><stop offset="0.568" stop-color="#84ff00"/><stop offset="0.577" stop-color="#3bff00"/><stop offset="0.587" stop-color="#49ff00"/><stop offset="0.597" stop-color="#00fc00"/><stop offset="0.606" stop-color="#0fff00"/><stop offset="0.615" stop-color="#0fff00"/><stop offset="0.624" stop-color="#00f200"/><stop offset="0.633" stop-color="#00fc00"/><stop offset="0.644" stop-color="#00fa00"/><stop offset="0.653" stop-color="#00fa00"/><stop offset="0.662" stop-color="#00f400"/><stop offset="0.671" stop-color="#0fff00"/><stop offset="0.680" stop-color="#00f400"/><stop offset="0.690" stop-color="#00fa00"/><stop offset="0.699" stop-color="#00f400"/><stop offset="0.708" stop-color="#00e400"/><stop offset="0.717" stop-color="#00ff00"/><stop offset="0.726" stop-color="#00ef00"/><stop offset="0.735" stop-color="#00f200"/><stop offset="0.741" stop-color="#00f200"/><stop offset="0.745" stop-color="#00ca00"/><stop offset="0.752" stop-color="#00dc00"/><stop offset="0.756" stop-color="#75ff00"/><stop offset="0.764" stop-color="#00f200"/><stop offset="0.771" stop-color="#00e400"/><stop offset="0.775" stop-color="#93ff00"/><stop offset="0.782" stop-color="#00f200"/><stop offset="0.790" stop-color="#00dc00"/><stop offset="0.794" stop-color="#49ff00"/><stop offset="0.801" stop-color="#00f200"/><stop offset="0.809" stop-color="#00dc00"/><stop offset="0.812" stop-color="#75ff00"/><stop offset="0.820" stop-color="#00dc00"/><stop offset="0.824" stop-color="#00e400"/><stop offset="0.833" stop-color="#00ca00"/><stop offset="0.839" stop-color="#00bc00"/><stop offset="0.848" stop-color="#009a00"/><stop offset="0.857" stop-color="#00a353"/><stop offset="0.861" stop-color="#00aa88"/><stop offset="0.870" stop-color="#00aa9d"/><stop offset="0.879" stop-color="#00aaab"/><stop offset="0.889" stop-color="#00a3bf"/><stop offset="0.898" stop-color="#009fcb"/><stop offset="0.908" stop-color="#0095dd"/><stop offset="0.917" stop-color="#008ddd"/><stop offset="0.925" stop-color="#0078dd"/><stop offset="0.934" stop-color="#002fdd"/><stop offset="0.943" stop-color="#0000dd"/><stop offset="0.953" stop-color="#0000d1"/><stop offset="0.962" stop-color="#0000d5"/><stop offset="0.973" stop-color="#0000bd"/><stop offset="0.983" stop-color="#0300aa"/><stop offset="0.992" stop-color="#0d00a8"/><stop offset="1.000" stop-color="#3800a3"/></linearGradient><linearGradient id="g23"><stop offset="0.000" stop-color="#000000"/><stop offset="0.009" stop-color="#000000"/><stop offset="0.018" stop-color="#000000"/><stop offset="0.028" stop-color="#000000"/><stop offset="0.038" stop-color="#000000"/><stop offset="0.038" stop-color="#4b0055"/><stop offset="0.047" stop-color="#4b0055"/><stop offset="0.057" stop-color="#5d006b"/><stop offset="0.066" stop-color="#540060"/><stop offset="0.075" stop-color="#540060"/><stop offset="0.084" stop-color="#540060"/><stop offset="0.093" stop-color="#540060"/><stop offset="0.102" stop-color="#41004b"/><stop offset="0.112" stop-color="#4b0055"/><stop offset="0.121" stop-color="#4b0055"/><stop offset="0.130" stop-color="#4b0055"/><stop offset="0.139" stop-color="#4b0055"/><stop offset="0.148" stop-color="#5d006b"/><stop offset="0.158" stop-color="#4b0055"/><stop offset="0.167" stop-color="#41004b"/><stop offset="0.175" stop-color="#41004b"/><stop offset="0.185" stop-color="#2f0035"/><stop offset="0.194" stop-color="#25002b"/><stop offset="0.205" stop-color="#000000"/><stop offset="0.214" stop-color="#000000"/><stop offset="0.224" stop-color="#000000"/><stop offset="0.233" stop-color="#000000"/><stop offset="0.242" stop-color="#000000"/><stop offset="0.251" stop-color="#000000"/><stop offset="0.260" stop-color="#000000"/><stop offset="0.270" stop-color="#000000"/><stop offset="0.279" stop-color="#000000"/><stop offset="0.288" stop-color="#000000"/><stop offset="0.297" stop-color="#000000"/><stop offset="0.306" stop-color="#000000"/><stop offset="0.315" stop-color="#000000"/><stop offset="0.325" stop-color="#000000"/><stop offset="0.334" stop-color="#000000"/><stop offset="0.344" stop-color="#000000"/><stop offset="0.353" stop-color="#000000"/><stop offset="0.362" stop-color="#000000"/><stop offset="0.371" stop-color="#000000"/><stop offset="0.381" stop-color="#000000"/><stop offset="0.390" stop-color="#000000"/><stop offset="0.399" stop-color="#130015"/><stop offset="0.408" stop-color="#09000b"/><stop offset="0.417" stop-color="#09000b"/><stop offset="0.427" stop-color="#000000"/><stop offset="0.436" stop-color="#000000"/><stop offset="0.445" stop-color="#130015"/><stop offset="0.454" stop-color="#000000"/><stop offset="0.463" stop-color="#000000"/><stop offset="0.472" stop-color="#09000b"/><stop offset="0.482" stop-color="#1c0020"/><stop offset="0.494" stop-color="#09000b"/><stop offset="0.503" stop-color="#09000b"/><stop offset="0.512" stop-color="#25002b"/><stop offset="0.521" stop-color="#1c0020"/><stop offset="0.531" stop-color="#25002b"/><stop offset="0.540" stop-color="#1c0020"/><stop offset="0.549" stop-color="#2f0035"/><stop offset="0.558" stop-color="#25002b"/><stop offset="0.567" stop-color="#25002b"/><stop offset="0.576" stop-color="#25002b"/><stop offset="0.586" stop-color="#2f0035"/><stop offset="0.595" stop-color="#41004b"/><stop offset="0.606" stop-color="#380040"/><stop offset="0.615" stop-color="#380040"/><stop offset="0.625" stop-color="#41004b"/><stop offset="0.634" stop-color="#540060"/><stop offset="0.643" stop-color="#540060"/><stop offset="0.652" stop-color="#41004b"/><stop offset="0.661" stop-color="#4b0055"/><stop offset="0.670" stop-color="#4b0055"/><stop offset="0.680" stop-color="#5d006b"/><stop offset="0.689" stop-color="#670075"/><stop offset="0.698" stop-color="#5d006b"/><stop offset="0.707" stop-color="#670075"/><stop offset="0.719" stop-color="#700080"/><stop offset="0.728" stop-color="#770088"/><stop offset="0.737" stop-color="#770088"/><stop offset="0.746" stop-color="#770088"/><stop offset="0.755" stop-color="#770088"/><stop offset="0.765" stop-color="#700080"/><stop offset="0.774" stop-color="#79008a"/><stop offset="0.783" stop-color="#670075"/><stop offset="0.792" stop-color="#700080"/><stop offset="0.801" stop-color="#700080"/><stop offset="0.810" stop-color="#5d006b"/><stop offset="0.820" stop-color="#670075"/><stop offset="0.829" stop-color="#770088"/><stop offset="0.838" stop-color="#7a008b"/><stop offset="0.850" stop-color="#700080"/><stop offset="0.859" stop-color="#770088"/><stop offset="0.868" stop-color="#79008a"/><stop offset="0.877" stop-color="#5d006b"/><stop offset="0.886" stop-color="#540060"/><stop offset="0.896" stop-color="#5d006b"/><stop offset="0.906" stop-color="#4b0055"/><stop offset="0.915" stop-color="#4b0055"/><stop offset="0.924" stop-color="#4b0055"/><stop offset="0.933" stop-color="#5d006b"/><stop offset="0.943" stop-color="#41004b"/><stop offset="0.952" stop-color="#5d006b"/><stop offset="0.961" stop-color="#41004b"/><stop offset="0.970" stop-color="#670075"/><stop offset="0.979" stop-color="#380040"/><stop offset="0.989" stop-color="#4b0055"/><stop offset="1.000" stop-color="#4b0055"/></linearGradient><linearGradient id="g24"><stop offset="0.000" stop-color="#000000"/><stop offset="0.009" stop-color="#000000"/><stop offset="0.018" stop-color="#000000"/><stop offset="0.028" stop-color="#000000"/><stop offset="0.038" stop-color="#000000"/><stop offset="0.038" stop-color="#850096"/><stop offset="0.047" stop-color="#850096"/><stop offset="0.057" stop-color="#830094"/><stop offset="0.066" stop-color="#850096"/><stop offset="0.075" stop-color="#850096"/><stop offset="0.084" stop-color="#830094"/><stop offset="0.093" stop-color="#860097"/><stop offset="0.102" stop-color="#850096"/><stop offset="0.112" stop-color="#83009a"/><stop offset="0.121" stop-color="#830094"/><stop offset="0.130" stop-color="#850096"/><stop offset="0.142" stop-color="#58009f"/><stop offset="0.151" stop-color="#3800a3"/><stop offset="0.157" stop-color="#2300a6"/><stop offset="0.164" stop-color="#0000d1"/><stop offset="0.175" stop-color="#0013dd"/><stop offset="0.187" stop-color="#0078dd"/><stop offset="0.196" stop-color="#0085dd"/><stop offset="0.202" stop-color="#008ddd"/><stop offset="0.211" stop-color="#009adb"/><stop offset="0.220" stop-color="#009cd3"/><stop offset="0.229" stop-color="#009bd7"/><stop offset="0.239" stop-color="#009bd7"/><stop offset="0.248" stop-color="#00a3bf"/><stop offset="0.257" stop-color="#00a3bf"/><stop offset="0.262" stop-color="#00a3bf"/><stop offset="0.271" stop-color="#00a7b3"/><stop offset="0.280" stop-color="#00a8af"/><stop offset="0.289" stop-color="#00aaa5"/><stop offset="0.298" stop-color="#00aaa0"/><stop offset="0.306" stop-color="#00aa9d"/><stop offset="0.316" stop-color="#00aa98"/><stop offset="0.325" stop-color="#00aa93"/><stop offset="0.334" stop-color="#00aa9b"/><stop offset="0.343" stop-color="#00aa8d"/><stop offset="0.352" stop-color="#00aa9d"/><stop offset="0.359" stop-color="#00aa95"/><stop offset="0.368" stop-color="#00a773"/><stop offset="0.377" stop-color="#00a13d"/><stop offset="0.385" stop-color="#009d1d"/><stop offset="0.394" stop-color="#009d1d"/><stop offset="0.404" stop-color="#009a00"/><stop offset="0.413" stop-color="#009a00"/><stop offset="0.422" stop-color="#00a200"/><stop offset="0.431" stop-color="#009f00"/><stop offset="0.438" stop-color="#009f00"/><stop offset="0.447" stop-color="#00a700"/><stop offset="0.456" stop-color="#00aa00"/><stop offset="0.465" stop-color="#00b700"/><stop offset="0.474" stop-color="#00bf00"/><stop offset="0.479" stop-color="#00c200"/><stop offset="0.488" stop-color="#00c700"/><stop offset="0.497" stop-color="#00c700"/><stop offset="0.506" stop-color="#00c200"/><stop offset="0.516" stop-color="#00c200"/><stop offset="0.525" stop-color="#00c700"/><stop offset="0.534" stop-color="#00bc00"/><stop offset="0.543" stop-color="#00c200"/><stop offset="0.552" stop-color="#00c400"/><stop offset="0.561" stop-color="#00c200"/><stop offset="0.570" stop-color="#00bf00"/><stop offset="0.580" stop-color="#00b400"/><stop offset="0.589" stop-color="#00af00"/><stop offset="0.598" stop-color="#009c00"/><stop offset="0.606" stop-color="#00a700"/><stop offset="0.615" stop-color="#00a200"/><stop offset="0.625" stop-color="#00a700"/><stop offset="0.634" stop-color="#009a08"/><stop offset="0.643" stop-color="#009a08"/><stop offset="0.651" stop-color="#009d1d"/><stop offset="0.660" stop-color="#009f33"/><stop offset="0.670" stop-color="#00a773"/><stop offset="0.679" stop-color="#00a97d"/><stop offset="0.689" stop-color="#00aa90"/><stop offset="0.698" stop-color="#00aa90"/><stop offset="0.707" stop-color="#00aaa0"/><stop offset="0.716" stop-color="#00aaa0"/><stop offset="0.725" stop-color="#00aa93"/><stop offset="0.735" stop-color="#00aaa3"/><stop offset="0.741" stop-color="#00aaa3"/><stop offset="0.742" stop-color="#00aaa3"/><stop offset="0.742" stop-color="#00dc00"/><stop offset="0.746" stop-color="#00dc00"/><stop offset="0.747" stop-color="#93ff00"/><stop offset="0.754" stop-color="#bcff00"/><stop offset="0.756" stop-color="#efed00"/><stop offset="0.760" stop-color="#efed00"/><stop offset="0.761" stop-color="#00ea00"/><stop offset="0.767" stop-color="#00ea00"/><stop offset="0.767" stop-color="#e4f100"/><stop offset="0.778" stop-color="#efed00"/><stop offset="0.779" stop-color="#00f200"/><stop offset="0.782" stop-color="#00f200"/><stop offset="0.783" stop-color="#f5df00"/><stop offset="0.793" stop-color="#f8da00"/><stop offset="0.794" stop-color="#e4f100"/><stop offset="0.804" stop-color="#dcf400"/><stop offset="0.805" stop-color="#00f200"/><stop offset="0.812" stop-color="#00f200"/><stop offset="0.812" stop-color="#dcf400"/><stop offset="0.819" stop-color="#dcf400"/><stop offset="0.820" stop-color="#00e400"/><stop offset="0.827" stop-color="#00e400"/><stop offset="0.828" stop-color="#009fcb"/><stop offset="0.837" stop-color="#009bd7"/><stop offset="0.846" stop-color="#0095dd"/><stop offset="0.857" stop-color="#008add"/><stop offset="0.868" stop-color="#002fdd"/><stop offset="0.878" stop-color="#001cdd"/><stop offset="0.887" stop-color="#0009dd"/><stop offset="0.895" stop-color="#0000dd"/><stop offset="0.904" stop-color="#0000cd"/><stop offset="0.913" stop-color="#0000bd"/><stop offset="0.923" stop-color="#2300a6"/><stop offset="0.928" stop-color="#58009f"/><stop offset="0.938" stop-color="#860097"/><stop offset="0.943" stop-color="#850096"/><stop offset="0.953" stop-color="#850096"/><stop offset="0.962" stop-color="#820093"/><stop offset="0.971" stop-color="#860097"/><stop offset="0.980" stop-color="#830094"/><stop offset="0.989" stop-color="#820093"/><stop offset="1.000" stop-color="#850096"/></linearGradient><linearGradient id="g25"><stop offset="0.000" stop-color="#000000"/><stop offset="0.009" stop-color="#000000"/><stop offset="0.018" stop-color="#000000"/><stop offset="0.028" stop-color="#000000"/><stop offset="0.038" stop-color="#000000"/><stop offset="0.038" stop-color="#850096"/><stop offset="0.047" stop-color="#860097"/><stop offset="0.057" stop-color="#870098"/><stop offset="0.066" stop-color="#860097"/><stop offset="0.075" stop-color="#870098"/><stop offset="0.084" stop-color="#850096"/><stop offset="0.093" stop-color="#860097"/><stop offset="0.102" stop-color="#850096"/><stop offset="0.112" stop-color="#830094"/><stop offset="0.121" stop-color="#850096"/><stop offset="0.130" stop-color="#850096"/><stop offset="0.142" stop-color="#58009f"/><stop offset="0.151" stop-color="#3800a3"/><stop offset="0.157" stop-color="#2300a6"/><stop offset="0.164" stop-color="#0000d1"/><stop offset="0.175" stop-color="#0013dd"/><stop offset="0.187" stop-color="#0078dd"/><stop offset="0.196" stop-color="#0085dd"/><stop offset="0.202" stop-color="#008ddd"/><stop offset="0.211" stop-color="#009cd3"/><stop offset="0.220" stop-color="#00a7b3"/><stop offset="0.229" stop-color="#00a6b7"/><stop offset="0.239" stop-color="#00a7b3"/><stop offset="0.248" stop-color="#00aaab"/><stop offset="0.257" stop-color="#00aaa8"/><stop offset="0.262" stop-color="#00aaa3"/><stop offset="0.271" stop-color="#00aaa3"/><stop offset="0.280" stop-color="#00aa98"/><stop offset="0.289" stop-color="#00aa9b"/><stop offset="0.298" stop-color="#00aa98"/><stop offset="0.306" stop-color="#00aa9d"/><stop offset="0.316" stop-color="#00aa9d"/><stop offset="0.325" stop-color="#00aa95"/><stop offset="0.334" stop-color="#00aa90"/><stop offset="0.343" stop-color="#00aa95"/><stop offset="0.352" stop-color="#00aa95"/><stop offset="0.359" stop-color="#00aa95"/><stop offset="0.368" stop-color="#00a773"/><stop offset="0.377" stop-color="#00a353"/><stop offset="0.385" stop-color="#009d1d"/><stop offset="0.394" stop-color="#009a00"/><stop offset="0.404" stop-color="#009b13"/><stop offset="0.413" stop-color="#009c00"/><stop offset="0.422" stop-color="#009a08"/><stop offset="0.431" stop-color="#00a400"/><stop offset="0.438" stop-color="#009f00"/><stop offset="0.447" stop-color="#00a200"/><stop offset="0.456" stop-color="#00b400"/><stop offset="0.465" stop-color="#00bf00"/><stop offset="0.474" stop-color="#00c200"/><stop offset="0.479" stop-color="#00bf00"/><stop offset="0.488" stop-color="#00ba00"/><stop offset="0.497" stop-color="#00ba00"/><stop offset="0.506" stop-color="#00bc00"/><stop offset="0.516" stop-color="#00ba00"/><stop offset="0.525" stop-color="#00bf00"/><stop offset="0.534" stop-color="#00ba00"/><stop offset="0.543" stop-color="#00ba00"/><stop offset="0.552" stop-color="#00bc00"/><stop offset="0.561" stop-color="#00bf00"/><stop offset="0.570" stop-color="#00bc00"/><stop offset="0.580" stop-color="#00ba00"/><stop offset="0.589" stop-color="#00b200"/><stop offset="0.598" stop-color="#00ac00"/><stop offset="0.606" stop-color="#00a700"/><stop offset="0.615" stop-color="#009f00"/><stop offset="0.625" stop-color="#009a00"/><stop offset="0.634" stop-color="#009f00"/><stop offset="0.643" stop-color="#009b13"/><stop offset="0.651" stop-color="#009d1d"/><stop offset="0.660" stop-color="#009f33"/><stop offset="0.670" stop-color="#00a353"/><stop offset="0.679" stop-color="#00aa88"/><stop offset="0.689" stop-color="#00aa90"/><stop offset="0.698" stop-color="#00aa98"/><stop offset="0.707" stop-color="#00aa93"/><stop offset="0.716" stop-color="#00aa9b"/><stop offset="0.725" stop-color="#00aa98"/><stop offset="0.735" stop-color="#00aa9d"/><stop offset="0.741" stop-color="#00aaa3"/><stop offset="0.742" stop-color="#00aaa3"/><stop offset="0.742" stop-color="#00dc00"/><stop offset="0.746" stop-color="#00dc00"/><stop offset="0.747" stop-color="#93ff00"/><stop offset="0.754" stop-color="#bcff00"/><stop offset="0.756" stop-color="#efed00"/><stop offset="0.760" stop-color="#efed00"/><stop offset="0.761" stop-color="#00ea00"/><stop offset="0.767" stop-color="#00ea00"/><stop offset="0.767" stop-color="#e4f100"/><stop offset="0.778" stop-color="#efed00"/><stop offset="0.779" stop-color="#00f200"/><stop offset="0.782" stop-color="#00f200"/><stop offset="0.783" stop-color="#f5df00"/><stop offset="0.793" stop-color="#f8da00"/><stop offset="0.794" stop-color="#e4f100"/><stop offset="0.804" stop-color="#dcf400"/><stop offset="0.805" stop-color="#00f200"/><stop offset="0.812" stop-color="#00f200"/><stop offset="0.812" stop-color="#dcf400"/><stop offset="0.819" stop-color="#dcf400"/><stop offset="0.820" stop-color="#00e400"/><stop offset="0.827" stop-color="#00e400"/><stop offset="0.828" stop-color="#009fcb"/><stop offset="0.837" stop-color="#009bd7"/><stop offset="0.846" stop-color="#0095dd"/><stop offset="0.857" stop-color="#008add"/><stop offset="0.868" stop-color="#002fdd"/><stop offset="0.878" stop-color="#001cdd"/><stop offset="0.887" stop-color="#0009dd"/><stop offset="0.895" stop-color="#0000dd"/><stop offset="0.904" stop-color="#0000cd"/><stop offset="0.913" stop-color="#0000bd"/><stop offset="0.923" stop-color="#2300a6"/><stop offset="0.928" stop-color="#58009f"/><stop offset="0.938" stop-color="#870098"/><stop offset="0.943" stop-color="#850096"/><stop offset="0.953" stop-color="#850096"/><stop offset="0.962" stop-color="#850096"/><stop offset="0.971" stop-color="#860097"/><stop offset="0.980" stop-color="#830094"/><stop offset="0.989" stop-color="#850096"/><stop offset="1.000" stop-color="#850096"/></linearGradient><linearGradient id="g26"><stop offset="0.000" stop-color="#000000"/><stop offset="0.009" stop-color="#000000"/><stop offset="0.018" stop-color="#000000"/><stop offset="0.028" stop-color="#000000"/><stop offset="0.038" stop-color="#000000"/><stop offset="0.038" stop-color="#850096"/><stop offset="0.047" stop-color="#830094"/><stop offset="0.057" stop-color="#870098"/><stop offset="0.066" stop-color="#850096"/><stop offset="0.075" stop-color="#850096"/><stop offset="0.084" stop-color="#830094"/><stop offset="0.093" stop-color="#830094"/><stop offset="0.102" stop-color="#830094"/><stop offset="0.112" stop-color="#870098"/><stop offset="0.121" stop-color="#850096"/><stop offset="0.130" stop-color="#850096"/><stop offset="0.142" stop-color="#58009f"/><stop offset="0.151" stop-color="#3800a3"/><stop offset="0.157" stop-color="#2300a6"/><stop offset="0.164" stop-color="#0000d1"/><stop offset="0.175" stop-color="#0013dd"/><stop offset="0.187" stop-color="#0078dd"/><stop offset="0.196" stop-color="#0085dd"/><stop offset="0.202" stop-color="#008ddd"/><stop offset="0.211" stop-color="#009cd3"/><stop offset="0.220" stop-color="#009cd3"/><stop offset="0.229" stop-color="#009bd7"/><stop offset="0.239" stop-color="#009cd3"/><stop offset="0.248" stop-color="#00a0c7"/><stop offset="0.257" stop-color="#00a3bf"/><stop offset="0.262" stop-color="#00a3bf"/><stop offset="0.271" stop-color="#00a7b3"/><stop offset="0.280" stop-color="#00a7b3"/><stop offset="0.289" stop-color="#00aaab"/><stop offset="0.298" stop-color="#00aaa0"/><stop offset="0.306" stop-color="#00aa9d"/><stop offset="0.316" stop-color="#00aa98"/><stop offset="0.325" stop-color="#00aa98"/><stop offset="0.334" stop-color="#00aa9d"/><stop offset="0.343" stop-color="#00aa8d"/><stop offset="0.352" stop-color="#00aa98"/><stop offset="0.359" stop-color="#00aa95"/><stop offset="0.368" stop-color="#00aa88"/><stop offset="0.377" stop-color="#009e28"/><stop offset="0.385" stop-color="#009d1d"/><stop offset="0.394" stop-color="#009d1d"/><stop offset="0.404" stop-color="#009b13"/><stop offset="0.413" stop-color="#009d1d"/><stop offset="0.422" stop-color="#009c00"/><stop offset="0.431" stop-color="#009f00"/><stop offset="0.438" stop-color="#009f00"/><stop offset="0.447" stop-color="#00a700"/><stop offset="0.456" stop-color="#00af00"/><stop offset="0.465" stop-color="#00b200"/><stop offset="0.474" stop-color="#00b400"/><stop offset="0.479" stop-color="#00bf00"/><stop offset="0.488" stop-color="#00ba00"/><stop offset="0.497" stop-color="#00b700"/><stop offset="0.506" stop-color="#00c200"/><stop offset="0.516" stop-color="#00bc00"/><stop offset="0.525" stop-color="#00c200"/><stop offset="0.534" stop-color="#00bf00"/><stop offset="0.543" stop-color="#00b700"/><stop offset="0.552" stop-color="#00bf00"/><stop offset="0.561" stop-color="#00bf00"/><stop offset="0.570" stop-color="#00b400"/><stop offset="0.580" stop-color="#00b700"/><stop offset="0.589" stop-color="#00af00"/><stop offset="0.598" stop-color="#00ac00"/><stop offset="0.606" stop-color="#00a700"/><stop offset="0.615" stop-color="#00aa00"/><stop offset="0.625" stop-color="#009a00"/><stop offset="0.634" stop-color="#009a00"/><stop offset="0.643" stop-color="#009e28"/><stop offset="0.651" stop-color="#009d1d"/><stop offset="0.660" stop-color="#00a13d"/><stop offset="0.670" stop-color="#00a773"/><stop offset="0.679" stop-color="#00a97d"/><stop offset="0.689" stop-color="#00aa90"/><stop offset="0.698" stop-color="#00aa8d"/><stop offset="0.707" stop-color="#00aa95"/><stop offset="0.716" stop-color="#00aa9d"/><stop offset="0.725" stop-color="#00aa9d"/><stop offset="0.735" stop-color="#00aaa8"/><stop offset="0.741" stop-color="#00aaa3"/><stop offset="0.742" stop-color="#00aaa3"/><stop offset="0.742" stop-color="#00dc00"/><stop offset="0.746" stop-color="#00dc00"/><stop offset="0.747" stop-color="#93ff00"/><stop offset="0.754" stop-color="#bcff00"/><stop offset="0.756" stop-color="#efed00"/><stop offset="0.760" stop-color="#efed00"/><stop offset="0.761" stop-color="#00ea00"/><stop offset="0.767" stop-color="#00ea00"/><stop offset="0.767" stop-color="#e4f100"/><stop offset="0.778" stop-color="#efed00"/><stop offset="0.779" stop-color="#00f200"/><stop offset="0.782" stop-color="#00f200"/><stop offset="0.783" stop-color="#f5df00"/><stop offset="0.793" stop-color="#f8da00"/><stop offset="0.794" stop-color="#e4f100"/><stop offset="0.804" stop-color="#dcf400"/><stop offset="0.805" stop-color="#00f200"/><stop offset="0.812" stop-color="#00f200"/><stop offset="0.812" stop-color="#dcf400"/><stop offset="0.819" stop-color="#dcf400"/><stop offset="0.820" stop-color="#00e400"/><stop offset="0.827" stop-color="#00e400"/><stop offset="0.828" stop-color="#009fcb"/><stop offset="0.837" stop-color="#009bd7"/><stop offset="0.846" stop-color="#0095dd"/><stop offset="0.857" stop-color="#008add"/><stop offset="0.868" stop-color="#002fdd"/><stop offset="0.878" stop-color="#001cdd"/><stop offset="0.887" stop-color="#0009dd"/><stop offset="0.895" stop-color="#0000dd"/><stop offset="0.904" stop-color="#0000cd"/><stop offset="0.913" stop-color="#0000bd"/><stop offset="0.923" stop-color="#2300a6"/><stop offset="0.928" stop-color="#58009f"/><stop offset="0.938" stop-color="#870098"/><stop offset="0.943" stop-color="#850096"/><stop offset="0.953" stop-color="#850096"/><stop offset="0.962" stop-color="#830094"/><stop offset="0.971" stop-color="#820093"/><stop offset="0.980" stop-color="#820093"/><stop offset="0.989" stop-color="#860097"/><stop offset="1.000" stop-color="#850096"/></linearGradient><linearGradient id="g27"><stop offset="0.000" stop-color="#000000"/><stop offset="0.009" stop-color="#000000"/><stop offset="0.018" stop-color="#000000"/><stop offset="0.028" stop-color="#000000"/><stop offset="0.038" stop-color="#000000"/><stop offset="0.038" stop-color="#850096"/><stop offset="0.047" stop-color="#850096"/><stop offset="0.057" stop-color="#820093"/><stop offset="0.066" stop-color="#820093"/><stop offset="0.075" stop-color="#820093"/><stop offset="0.084" stop-color="#850096"/><stop offset="0.093" stop-color="#860097"/><stop offset="0.102" stop-color="#830094"/><stop offset="0.112" stop-color="#860097"/><stop offset="0.121" stop-color="#820093"/><stop offset="0.130" stop-color="#850096"/><stop offset="0.142" stop-color="#58009f"/><stop offset="0.151" stop-color="#3800a3"/><stop offset="0.157" stop-color="#2300a6"/><stop offset="0.164" stop-color="#0000d1"/><stop offset="0.173" stop-color="#0000d9"/><stop offset="0.182" stop-color="#0009dd"/><stop offset="0.190" stop-color="#0013dd"/><stop offset="0.202" stop-color="#0078dd"/><stop offset="0.211" stop-color="#0080dd"/><stop offset="0.217" stop-color="#008ddd"/><stop offset="0.226" stop-color="#0092dd"/><stop offset="0.235" stop-color="#0092dd"/><stop offset="0.244" stop-color="#0095dd"/><stop offset="0.254" stop-color="#009cd3"/><stop offset="0.262" stop-color="#009cd3"/><stop offset="0.271" stop-color="#00a0c7"/><stop offset="0.280" stop-color="#00a8af"/><stop offset="0.289" stop-color="#00a6b7"/><stop offset="0.298" stop-color="#00aaa0"/><stop offset="0.306" stop-color="#00aa9d"/><stop offset="0.316" stop-color="#00aaa0"/><stop offset="0.325" stop-color="#00aa9d"/><stop offset="0.334" stop-color="#00aa93"/><stop offset="0.343" stop-color="#00aa95"/><stop offset="0.352" stop-color="#00aa98"/><stop offset="0.359" stop-color="#00aa95"/><stop offset="0.368" stop-color="#00aa8b"/><stop offset="0.377" stop-color="#009e28"/><stop offset="0.385" stop-color="#009d1d"/><stop offset="0.394" stop-color="#009b13"/><stop offset="0.404" stop-color="#009a08"/><stop offset="0.413" stop-color="#009a00"/><stop offset="0.422" stop-color="#009a00"/><stop offset="0.431" stop-color="#00a200"/><stop offset="0.438" stop-color="#009f00"/><stop offset="0.447" stop-color="#00a700"/><stop offset="0.456" stop-color="#00b200"/><stop offset="0.465" stop-color="#00b700"/><stop offset="0.474" stop-color="#00bf00"/><stop offset="0.479" stop-color="#00c200"/><stop offset="0.488" stop-color="#00bc00"/><stop offset="0.497" stop-color="#00c400"/><stop offset="0.506" stop-color="#00c200"/><stop offset="0.516" stop-color="#00c700"/><stop offset="0.525" stop-color="#00bf00"/><stop offset="0.534" stop-color="#00c400"/><stop offset="0.543" stop-color="#00c400"/><stop offset="0.552" stop-color="#00c700"/><stop offset="0.561" stop-color="#00c200"/><stop offset="0.570" stop-color="#00ba00"/><stop offset="0.580" stop-color="#00ba00"/><stop offset="0.589" stop-color="#00af00"/><stop offset="0.598" stop-color="#00aa00"/><stop offset="0.606" stop-color="#00a700"/><stop offset="0.615" stop-color="#00aa00"/><stop offset="0.625" stop-color="#009c00"/><stop offset="0.634" stop-color="#009b13"/><stop offset="0.643" stop-color="#009d1d"/><stop offset="0.651" stop-color="#009d1d"/><stop offset="0.660" stop-color="#00a13d"/><stop offset="0.670" stop-color="#00a55d"/><stop offset="0.679" stop-color="#00a97d"/><stop offset="0.689" stop-color="#00aa90"/><stop offset="0.698" stop-color="#00aa98"/><stop offset="0.707" stop-color="#00aa90"/><stop offset="0.716" stop-color="#00aa9d"/><stop offset="0.725" stop-color="#00aa9d"/><stop offset="0.735" stop-color="#00aa9b"/><stop offset="0.741" stop-color="#00aaa3"/><stop offset="0.742" stop-color="#00aaa3"/><stop offset="0.742" stop-color="#00dc00"/><stop offset="0.746" stop-color="#00dc00"/><stop offset="0.747" stop-color="#93ff00"/><stop offset="0.754" stop-color="#bcff00"/><stop offset="0.756" stop-color="#efed00"/><stop offset="0.760" stop-color="#efed00"/><stop offset="0.761" stop-color="#00ea00"/><stop offset="0.767" stop-color="#00ea00"/><stop offset="0.767" stop-color="#e4f100"/><stop offset="0.778" stop-color="#efed00"/><stop offset="0.779" stop-color="#00f200"/><stop offset="0.782" stop-color="#00f200"/><stop offset="0.783" stop-color="#f5df00"/><stop offset="0.793" stop-color="#f8da00"/><stop offset="0.794" stop-color="#e4f100"/><stop offset="0.804" stop-color="#dcf400"/><stop offset="0.805" stop-color="#00f200"/><stop offset="0.812" stop-color="#00f200"/><stop offset="0.812" stop-color="#dcf400"/><stop offset="0.819" stop-color="#dcf400"/><stop offset="0.820" stop-color="#00e400"/><stop offset="0.827" stop-color="#00e400"/><stop offset="0.828" stop-color="#009fcb"/><stop offset="0.837" stop-color="#009bd7"/><stop offset="0.846" stop-color="#0095dd"/><stop offset="0.857" stop-color="#008add"/><stop offset="0.868" stop-color="#002fdd"/><stop offset="0.878" stop-color="#001cdd"/><stop offset="0.887" stop-color="#0009dd"/><stop offset="0.895" stop-color="#0000dd"/><stop offset="0.904" stop-color="#0000cd"/><stop offset="0.913" stop-color="#0000bd"/><stop offset="0.923" stop-color="#2300a6"/><stop offset="0.928" stop-color="#58009f"/><stop offset="0.938" stop-color="#83009a"/><stop offset="0.943" stop-color="#850096"/><stop offset="0.953" stop-color="#850096"/><stop offset="0.962" stop-color="#850096"/><stop offset="0.971" stop-color="#830094"/><stop offset="0.980" stop-color="#820093"/><stop offset="0.989" stop-color="#860097"/><stop offset="1.000" stop-color="#850096"/></linearGradient><linearGradient id="g28"><stop offset="0.000" stop-color="#000000"/><stop offset="0.009" stop-color="#000000"/><stop offset="0.018" stop-color="#000000"/><stop offset="0.028" stop-color="#000000"/><stop offset="0.038" stop-color="#000000"/><stop offset="0.038" stop-color="#850096"/><stop offset="0.047" stop-color="#850096"/><stop offset="0.057" stop-color="#860097"/><stop offset="0.066" stop-color="#820093"/><stop offset="0.075" stop-color="#860097"/><stop offset="0.084" stop-color="#830094"/><stop offset="0.093" stop-color="#810092"/><stop offset="0.102" stop-color="#870098"/><stop offset="0.112" stop-color="#850096"/><stop offset="0.121" stop-color="#830094"/><stop offset="0.130" stop-color="#850096"/><stop offset="0.142" stop-color="#58009f"/><stop offset="0.151" stop-color="#3800a3"/><stop offset="0.157" stop-color="#2300a6"/><stop offset="0.164" stop-color="#0000d1"/><stop offset="0.175" stop-color="#0013dd"/><stop offset="0.187" stop-color="#0078dd"/><stop offset="0.196" stop-color="#0085dd"/><stop offset="0.202" stop-color="#008ddd"/><stop offset="0.211" stop-color="#009bd7"/><stop offset="0.220" stop-color="#00a7b3"/><stop offset="0.229" stop-color="#00a7b3"/><stop offset="0.239" stop-color="#00a8af"/><stop offset="0.248" stop-color="#00aaa5"/><stop offset="0.257" stop-color="#00aaa8"/><stop offset="0.262" stop-color="#00aaa3"/><stop offset="0.271" stop-color="#00aa9d"/><stop offset="0.280" stop-color="#00aaa0"/><stop offset="0.289" stop-color="#00aaa0"/><stop offset="0.298" stop-color="#00aa95"/><stop offset="0.306" stop-color="#00aa9d"/><stop offset="0.316" stop-color="#00aaa0"/><stop offset="0.325" stop-color="#00aaa3"/><stop offset="0.334" stop-color="#00aaa8"/><stop offset="0.343" stop-color="#00aa95"/><stop offset="0.352" stop-color="#00aa93"/><stop offset="0.359" stop-color="#00aa95"/><stop offset="0.368" stop-color="#00a668"/><stop offset="0.377" stop-color="#00a668"/><stop offset="0.385" stop-color="#009d1d"/><stop offset="0.394" stop-color="#009b13"/><stop offset="0.404" stop-color="#009c00"/><stop offset="0.413" stop-color="#009c00"/><stop offset="0.422" stop-color="#009f00"/><stop offset="0.431" stop-color="#009a08"/><stop offset="0.438" stop-color="#009f00"/><stop offset="0.447" stop-color="#00aa00"/><stop offset="0.456" stop-color="#00ac00"/><stop offset="0.465" stop-color="#00af00"/><stop offset="0.474" stop-color="#00c200"/><stop offset="0.479" stop-color="#00ca00"/><stop offset="0.488" stop-color="#00c700"/><stop offset="0.497" stop-color="#00ca00"/><stop offset="0.506" stop-color="#00cc00"/><stop offset="0.516" stop-color="#00c200"/><stop offset="0.525" stop-color="#00cc00"/><stop offset="0.534" stop-color="#00c200"/><stop offset="0.543" stop-color="#00c700"/><stop offset="0.552" stop-color="#00bf00"/><stop offset="0.561" stop-color="#00ca00"/><stop offset="0.570" stop-color="#00c200"/><stop offset="0.580" stop-color="#00b700"/><stop offset="0.589" stop-color="#00b400"/><stop offset="0.598" stop-color="#00ac00"/><stop offset="0.606" stop-color="#00a700"/><stop offset="0.615" stop-color="#00a700"/><stop offset="0.625" stop-color="#00a400"/><stop offset="0.634" stop-color="#009c00"/><stop offset="0.643" stop-color="#009a08"/><stop offset="0.651" stop-color="#009d1d"/><stop offset="0.660" stop-color="#00a97d"/><stop offset="0.670" stop-color="#00a55d"/><stop offset="0.679" stop-color="#00a668"/><stop offset="0.689" stop-color="#00aa90"/><stop offset="0.698" stop-color="#00aa93"/><stop offset="0.707" stop-color="#00aa9d"/><stop offset="0.716" stop-color="#00aa9b"/><stop offset="0.725" stop-color="#00aaa0"/><stop offset="0.735" stop-color="#00aaa3"/><stop offset="0.741" stop-color="#00aaa3"/><stop offset="0.742" stop-color="#00aaa3"/><stop offset="0.742" stop-color="#00dc00"/><stop offset="0.746" stop-color="#00dc00"/><stop offset="0.747" stop-color="#93ff00"/><stop offset="0.754" stop-color="#bcff00"/><stop offset="0.756" stop-color="#efed00"/><stop offset="0.760" stop-color="#efed00"/><stop offset="0.761" stop-color="#00ea00"/><stop offset="0.767" stop-color="#00ea00"/><stop offset="0.767" stop-color="#e4f100"/><stop offset="0.778" stop-color="#efed00"/><stop offset="0.779" stop-color="#00f200"/><stop offset="0.782" stop-color="#00f200"/><stop offset="0.783" stop-color="#f5df00"/><stop offset="0.793" stop-color="#f8da00"/><stop offset="0.794" stop-color="#e4f100"/><stop offset="0.804" stop-color="#dcf400"/><stop offset="0.805" stop-color="#00f200"/><stop offset="0.812" stop-color="#00f200"/><stop offset="0.812" stop-color="#dcf400"/><stop offset="0.819" stop-color="#dcf400"/><stop offset="0.820" stop-color="#00e400"/><stop offset="0.827" stop-color="#00e400"/><stop offset="0.828" stop-color="#009fcb"/><stop offset="0.837" stop-color="#009bd7"/><stop offset="0.846" stop-color="#0095dd"/><stop offset="0.857" stop-color="#008add"/><stop offset="0.868" stop-color="#002fdd"/><stop offset="0.878" stop-color="#001cdd"/><stop offset="0.887" stop-color="#0009dd"/><stop offset="0.895" stop-color="#0000dd"/><stop offset="0.904" stop-color="#0000cd"/><stop offset="0.913" stop-color="#0000bd"/><stop offset="0.923" stop-color="#2300a6"/><stop offset="0.928" stop-color="#58009f"/><stop offset="0.938" stop-color="#83009a"/><stop offset="0.943" stop-color="#850096"/><stop offset="0.953" stop-color="#850096"/><stop offset="0.962" stop-color="#860097"/><stop offset="0.971" stop-color="#850096"/><stop offset="0.980" stop-color="#830094"/><stop offset="0.989" stop-color="#850096"/><stop offset="1.000" stop-color="#850096"/></linearGradient><linearGradient id="g29"><stop offset="0.000" stop-color="#000000"/><stop offset="0.009" stop-color="#000000"/><stop offset="0.018" stop-color="#000000"/><stop offset="0.028" stop-color="#000000"/><stop offset="0.038" stop-color="#000000"/><stop offset="0.038" stop-color="#850096"/><stop offset="0.047" stop-color="#830094"/><stop offset="0.057" stop-color="#850096"/><stop offset="0.066" stop-color="#830094"/><stop offset="0.075" stop-color="#810092"/><stop offset="0.084" stop-color="#830094"/><stop offset="0.093" stop-color="#830094"/><stop offset="0.102" stop-color="#830094"/><stop offset="0.112" stop-color="#850096"/><stop offset="0.121" stop-color="#850096"/><stop offset="0.130" stop-color="#850096"/><stop offset="0.142" stop-color="#58009f"/><stop offset="0.151" stop-color="#3800a3"/><stop offset="0.157" stop-color="#2300a6"/><stop offset="0.164" stop-color="#0000d1"/><stop offset="0.175" stop-color="#0013dd"/><stop offset="0.187" stop-color="#0078dd"/><stop offset="0.196" stop-color="#0085dd"/><stop offset="0.202" stop-color="#008ddd"/><stop offset="0.211" stop-color="#00a0c7"/><stop offset="0.220" stop-color="#00a7b3"/><stop offset="0.229" stop-color="#00aaa5"/><stop offset="0.239" stop-color="#00a8af"/><stop offset="0.248" stop-color="#00aaab"/><stop offset="0.257" stop-color="#00aaa3"/><stop offset="0.262" stop-color="#00aaa3"/><stop offset="0.271" stop-color="#00aaa0"/><stop offset="0.280" stop-color="#00aa9b"/><stop offset="0.289" stop-color="#00aa9d"/><stop offset="0.298" stop-color="#00aa9b"/><stop offset="0.306" stop-color="#00aa9d"/><stop offset="0.316" stop-color="#00aa9b"/><stop offset="0.325" stop-color="#00aa98"/><stop offset="0.334" stop-color="#00aa98"/><stop offset="0.343" stop-color="#00aaa3"/><stop offset="0.352" stop-color="#00aa9d"/><stop offset="0.359" stop-color="#00aa95"/><stop offset="0.368" stop-color="#00a773"/><stop offset="0.377" stop-color="#00a248"/><stop offset="0.385" stop-color="#009d1d"/><stop offset="0.394" stop-color="#009a08"/><stop offset="0.404" stop-color="#009c00"/><stop offset="0.413" stop-color="#00a400"/><stop offset="0.422" stop-color="#009c00"/><stop offset="0.431" stop-color="#009f00"/><stop offset="0.438" stop-color="#009f00"/><stop offset="0.447" stop-color="#00ac00"/><stop offset="0.456" stop-color="#00ac00"/><stop offset="0.465" stop-color="#00bc00"/><stop offset="0.474" stop-color="#00ba00"/><stop offset="0.479" stop-color="#00bf00"/><stop offset="0.488" stop-color="#00b400"/><stop offset="0.497" stop-color="#00c700"/><stop offset="0.506" stop-color="#00bf00"/><stop offset="0.516" stop-color="#00bc00"/><stop offset="0.525" stop-color="#00ba00"/><stop offset="0.534" stop-color="#00ba00"/><stop offset="0.543" stop-color="#00c200"/><stop offset="0.552" stop-color="#00bc00"/><stop offset="0.561" stop-color="#00bf00"/><stop offset="0.570" stop-color="#00ba00"/><stop offset="0.580" stop-color="#00ac00"/><stop offset="0.589" stop-color="#00ac00"/><stop offset="0.598" stop-color="#00ac00"/><stop offset="0.606" stop-color="#00a700"/><stop offset="0.615" stop-color="#00a200"/><stop offset="0.625" stop-color="#009a08"/><stop offset="0.634" stop-color="#009b13"/><stop offset="0.643" stop-color="#009e28"/><stop offset="0.651" stop-color="#009d1d"/><stop offset="0.660" stop-color="#00a353"/><stop offset="0.670" stop-color="#00a55d"/><stop offset="0.679" stop-color="#00aa88"/><stop offset="0.689" stop-color="#00aa90"/><stop offset="0.698" stop-color="#00aa93"/><stop offset="0.707" stop-color="#00aa90"/><stop offset="0.716" stop-color="#00aa98"/><stop offset="0.725" stop-color="#00aaa0"/><stop offset="0.735" stop-color="#00aaa5"/><stop offset="0.741" stop-color="#00aaa3"/><stop offset="0.742" stop-color="#00aaa3"/><stop offset="0.742" stop-color="#00dc00"/><stop offset="0.746" stop-color="#00dc00"/><stop offset="0.747" stop-color="#93ff00"/><stop offset="0.754" stop-color="#bcff00"/><stop offset="0.756" stop-color="#efed00"/><stop offset="0.760" stop-color="#efed00"/><stop offset="0.761" stop-color="#00ea00"/><stop offset="0.767" stop-color="#00ea00"/><stop offset="0.767" stop-color="#e4f100"/><stop offset="0.778" stop-color="#efed00"/><stop offset="0.779" stop-color="#00f200"/><stop offset="0.782" stop-color="#00f200"/><stop offset="0.783" stop-color="#f5df00"/><stop offset="0.793" stop-color="#f8da00"/><stop offset="0.794" stop-color="#e4f100"/><stop offset="0.804" stop-color="#dcf400"/><stop offset="0.805" stop-color="#00f200"/><stop offset="0.812" stop-color="#00f200"/><stop offset="0.812" stop-color="#dcf400"/><stop offset="0.819" stop-color="#dcf400"/><stop offset="0.820" stop-color="#00e400"/><stop offset="0.827" stop-color="#00e400"/><stop offset="0.828" stop-color="#009fcb"/><stop offset="0.837" stop-color="#009bd7"/><stop offset="0.846" stop-color="#0095dd"/><stop offset="0.857" stop-color="#008add"/><stop offset="0.868" stop-color="#002fdd"/><stop offset="0.878" stop-color="#001cdd"/><stop offset="0.887" stop-color="#0009dd"/><stop offset="0.895" stop-color="#0000dd"/><stop offset="0.904" stop-color="#0000cd"/><stop offset="0.913" stop-color="#0000bd"/><stop offset="0.923" stop-color="#2300a6"/><stop offset="0.928" stop-color="#58009f"/><stop offset="0.938" stop-color="#83009a"/><stop offset="0.943" stop-color="#850096"/><stop offset="0.953" stop-color="#850096"/><stop offset="0.962" stop-color="#830094"/><stop offset="0.971" stop-color="#860097"/><stop offset="0.980" stop-color="#860097"/><stop offset="0.989" stop-color="#850096"/><stop offset="1.000" stop-color="#850096"/></linearGradient><linearGradient id="g30"><stop offset="0.000" stop-color="#000000"/><stop offset="0.009" stop-color="#000000"/><stop offset="0.018" stop-color="#000000"/><stop offset="0.028" stop-color="#000000"/><stop offset="0.038" stop-color="#000000"/><stop offset="0.038" stop-color="#850096"/><stop offset="0.047" stop-color="#830094"/><stop offset="0.057" stop-color="#850096"/><stop offset="0.066" stop-color="#870098"/><stop offset="0.075" stop-color="#7f0090"/><stop offset="0.084" stop-color="#850096"/><stop offset="0.093" stop-color="#830094"/><stop offset="0.102" stop-color="#870098"/><stop offset="0.112" stop-color="#860097"/><stop offset="0.121" stop-color="#850096"/><stop offset="0.130" stop-color="#850096"/><stop offset="0.142" stop-color="#58009f"/><stop offset="0.151" stop-color="#3800a3"/><stop offset="0.157" stop-color="#2300a6"/><stop offset="0.164" stop-color="#0000d1"/><stop offset="0.175" stop-color="#0013dd"/><stop offset="0.187" stop-color="#0078dd"/><stop offset="0.196" stop-color="#0085dd"/><stop offset="0.202" stop-color="#008ddd"/><stop offset="0.211" stop-color="#009cd3"/><stop offset="0.220" stop-color="#00a7b3"/><stop offset="0.229" stop-color="#00a7b3"/><stop offset="0.239" stop-color="#00a7b3"/><stop offset="0.248" stop-color="#00aaab"/><stop offset="0.257" stop-color="#00aaa5"/><stop offset="0.262" stop-color="#00aaa3"/><stop offset="0.271" stop-color="#00aaab"/><stop offset="0.280" stop-color="#00aaa3"/><stop offset="0.289" stop-color="#00aaa8"/><stop offset="0.298" stop-color="#00aaa3"/><stop offset="0.306" stop-color="#00aa9d"/><stop offset="0.316" stop-color="#00aa95"/><stop offset="0.325" stop-color="#00aa98"/><stop offset="0.334" stop-color="#00aa9d"/><stop offset="0.343" stop-color="#00aa9b"/><stop offset="0.352" stop-color="#00aa95"/><stop offset="0.359" stop-color="#00aa95"/><stop offset="0.368" stop-color="#00a773"/><stop offset="0.377" stop-color="#00a248"/><stop offset="0.385" stop-color="#009d1d"/><stop offset="0.394" stop-color="#009c00"/><stop offset="0.404" stop-color="#009f00"/><stop offset="0.413" stop-color="#009a00"/><stop offset="0.422" stop-color="#009c00"/><stop offset="0.431" stop-color="#009a00"/><stop offset="0.438" stop-color="#009f00"/><stop offset="0.447" stop-color="#00a700"/><stop offset="0.456" stop-color="#00af00"/><stop offset="0.465" stop-color="#00b700"/><stop offset="0.474" stop-color="#00bf00"/><stop offset="0.479" stop-color="#00c200"/><stop offset="0.488" stop-color="#00c400"/><stop offset="0.497" stop-color="#00bf00"/><stop offset="0.506" stop-color="#00c700"/><stop offset="0.516" stop-color="#00bf00"/><stop offset="0.525" stop-color="#00bc00"/><stop offset="0.534" stop-color="#00bc00"/><stop offset="0.543" stop-color="#00c200"/><stop offset="0.552" stop-color="#00c400"/><stop offset="0.561" stop-color="#00c200"/><stop offset="0.570" stop-color="#00ba00"/><stop offset="0.580" stop-color="#00ba00"/><stop offset="0.589" stop-color="#00b200"/><stop offset="0.598" stop-color="#00a200"/><stop offset="0.606" stop-color="#00a700"/><stop offset="0.615" stop-color="#00a400"/><stop offset="0.625" stop-color="#009c00"/><stop offset="0.634" stop-color="#009b13"/><stop offset="0.643" stop-color="#009a08"/><stop offset="0.651" stop-color="#009d1d"/><stop offset="0.660" stop-color="#00a13d"/><stop offset="0.670" stop-color="#00a13d"/><stop offset="0.679" stop-color="#00aa8b"/><stop offset="0.689" stop-color="#00aa90"/><stop offset="0.698" stop-color="#00aa8d"/><stop offset="0.707" stop-color="#00aa93"/><stop offset="0.716" stop-color="#00aa9b"/><stop offset="0.725" stop-color="#00aa9b"/><stop offset="0.735" stop-color="#00aaa5"/><stop offset="0.741" stop-color="#00aaa3"/><stop offset="0.742" stop-color="#00aaa3"/><stop offset="0.742" stop-color="#00dc00"/><stop offset="0.746" stop-color="#00dc00"/><stop offset="0.747" stop-color="#93ff00"/><stop offset="0.754" stop-color="#bcff00"/><stop offset="0.756" stop-color="#efed00"/><stop offset="0.760" stop-color="#efed00"/><stop offset="0.761" stop-color="#00ea00"/><stop offset="0.767" stop-color="#00ea00"/><stop offset="0.767" stop-color="#e4f100"/><stop offset="0.778" stop-color="#efed00"/><stop offset="0.779" stop-color="#00f200"/><stop offset="0.782" stop-color="#00f200"/><stop offset="0.783" stop-color="#f5df00"/><stop offset="0.793" stop-color="#f8da00"/><stop offset="0.794" stop-color="#e4f100"/><stop offset="0.804" stop-color="#dcf400"/><stop offset="0.805" stop-color="#00f200"/><stop offset="0.812" stop-color="#00f200"/><stop offset="0.812" stop-color="#dcf400"/><stop offset="0.819" stop-color="#dcf400"/><stop offset="0.820" stop-color="#00e400"/><stop offset="0.827" stop-color="#00e400"/><stop offset="0.828" stop-color="#009fcb"/><stop offset="0.837" stop-color="#009bd7"/><stop offset="0.846" stop-color="#0095dd"/><stop offset="0.857" stop-color="#008add"/><stop offset="0.868" stop-color="#002fdd"/><stop offset="0.878" stop-color="#001cdd"/><stop offset="0.887" stop-color="#0009dd"/><stop offset="0.895" stop-color="#0000dd"/><stop offset="0.904" stop-color="#0000cd"/><stop offset="0.913" stop-color="#0000bd"/><stop offset="0.923" stop-color="#2300a6"/><stop offset="0.928" stop-color="#58009f"/><stop offset="0.938" stop-color="#78009b"/><stop offset="0.943" stop-color="#850096"/><stop offset="0.953" stop-color="#860097"/><stop offset="0.962" stop-color="#830094"/><stop offset="0.971" stop-color="#830094"/><stop offset="0.980" stop-color="#820093"/><stop offset="0.989" stop-color="#830094"/><stop offset="1.000" stop-color="#850096"/></linearGradient><linearGradient id="g31"><stop offset="0.000" stop-color="#000000"/><stop offset="0.009" stop-color="#000000"/><stop offset="0.018" stop-color="#000000"/><stop offset="0.028" stop-color="#000000"/><stop offset="0.038" stop-color="#000000"/><stop offset="0.038" stop-color="#850096"/><stop offset="0.047" stop-color="#860097"/><stop offset="0.057" stop-color="#850096"/><stop offset="0.066" stop-color="#820093"/><stop offset="0.075" stop-color="#830094"/><stop offset="0.084" stop-color="#810092"/><stop offset="0.093" stop-color="#850096"/><stop offset="0.102" stop-color="#830094"/><stop offset="0.112" stop-color="#7e008f"/><stop offset="0.121" stop-color="#830094"/><stop offset="0.130" stop-color="#850096"/><stop offset="0.142" stop-color="#58009f"/><stop offset="0.151" stop-color="#3800a3"/><stop offset="0.157" stop-color="#2300a6"/><stop offset="0.164" stop-color="#0000d1"/><stop offset="0.175" stop-color="#0013dd"/><stop offset="0.187" stop-color="#0078dd"/><stop offset="0.196" stop-color="#0085dd"/><stop offset="0.202" stop-color="#008ddd"/><stop offset="0.211" stop-color="#009bd7"/><stop offset="0.220" stop-color="#00a3bf"/><stop offset="0.229" stop-color="#00a6b7"/><stop offset="0.239" stop-color="#00a6b7"/><stop offset="0.248" stop-color="#00a7b3"/><stop offset="0.257" stop-color="#00aaab"/><stop offset="0.262" stop-color="#00aaab"/><stop offset="0.271" stop-color="#00aaab"/><stop offset="0.280" stop-color="#00aaa8"/><stop offset="0.289" stop-color="#00aaa3"/><stop offset="0.298" stop-color="#00aaa5"/><stop offset="0.306" stop-color="#00aa9d"/><stop offset="0.316" stop-color="#00aa9d"/><stop offset="0.325" stop-color="#00aa98"/><stop offset="0.334" stop-color="#00aa9b"/><stop offset="0.343" stop-color="#00aa98"/><stop offset="0.352" stop-color="#00aa93"/><stop offset="0.359" stop-color="#00aa95"/><stop offset="0.368" stop-color="#00a97d"/><stop offset="0.377" stop-color="#00a13d"/><stop offset="0.385" stop-color="#009d1d"/><stop offset="0.394" stop-color="#009d1d"/><stop offset="0.404" stop-color="#009d1d"/><stop offset="0.413" stop-color="#009a00"/><stop offset="0.422" stop-color="#00a200"/><stop offset="0.431" stop-color="#009f00"/><stop offset="0.438" stop-color="#009f00"/><stop offset="0.447" stop-color="#00aa00"/><stop offset="0.456" stop-color="#00af00"/><stop offset="0.465" stop-color="#00b700"/><stop offset="0.474" stop-color="#00ba00"/><stop offset="0.479" stop-color="#00bc00"/><stop offset="0.488" stop-color="#00b200"/><stop offset="0.497" stop-color="#00b200"/><stop offset="0.506" stop-color="#00bc00"/><stop offset="0.516" stop-color="#00bc00"/><stop offset="0.525" stop-color="#00c200"/><stop offset="0.534" stop-color="#00b700"/><stop offset="0.543" stop-color="#00bc00"/><stop offset="0.552" stop-color="#00b700"/><stop offset="0.561" stop-color="#00bc00"/><stop offset="0.570" stop-color="#00bc00"/><stop offset="0.580" stop-color="#00b700"/><stop offset="0.589" stop-color="#00af00"/><stop offset="0.598" stop-color="#00a700"/><stop offset="0.606" stop-color="#00a700"/><stop offset="0.615" stop-color="#00a200"/><stop offset="0.625" stop-color="#009c00"/><stop offset="0.634" stop-color="#00a700"/><stop offset="0.643" stop-color="#009a08"/><stop offset="0.651" stop-color="#009d1d"/><stop offset="0.660" stop-color="#009f33"/><stop offset="0.670" stop-color="#00a55d"/><stop offset="0.679" stop-color="#00a668"/><stop offset="0.689" stop-color="#00aa90"/><stop offset="0.698" stop-color="#00aa93"/><stop offset="0.707" stop-color="#00aa95"/><stop offset="0.716" stop-color="#00aaa0"/><stop offset="0.725" stop-color="#00aa98"/><stop offset="0.735" stop-color="#00aaab"/><stop offset="0.741" stop-color="#00aaa3"/><stop offset="0.742" stop-color="#00aaa3"/><stop offset="0.742" stop-color="#00dc00"/><stop offset="0.746" stop-color="#00dc00"/><stop offset="0.747" stop-color="#93ff00"/><stop offset="0.754" stop-color="#bcff00"/><stop offset="0.756" stop-color="#efed00"/><stop offset="0.760" stop-color="#efed00"/><stop offset="0.761" stop-color="#00ea00"/><stop offset="0.767" stop-color="#00ea00"/><stop offset="0.767" stop-color="#e4f100"/><stop offset="0.778" stop-color="#efed00"/><stop offset="0.779" stop-color="#00f200"/><stop offset="0.782" stop-color="#00f200"/><stop offset="0.783" stop-color="#f5df00"/><stop offset="0.793" stop-color="#f8da00"/><stop offset="0.794" stop-color="#e4f100"/><stop offset="0.804" stop-color="#dcf400"/><stop offset="0.805" stop-color="#00f200"/><stop offset="0.812" stop-color="#00f200"/><stop offset="0.812" stop-color="#dcf400"/><stop offset="0.819" stop-color="#dcf400"/><stop offset="0.820" stop-color="#00e400"/><stop offset="0.827" stop-color="#00e400"/><stop offset="0.828" stop-color="#009fcb"/><stop offset="0.837" stop-color="#009bd7"/><stop offset="0.846" stop-color="#0095dd"/><stop offset="0.857" stop-color="#008add"/><stop offset="0.868" stop-color="#002fdd"/><stop offset="0.878" stop-color="#001cdd"/><stop offset="0.887" stop-color="#0009dd"/><stop offset="0.895" stop-color="#0000dd"/><stop offset="0.904" stop-color="#0000cd"/><stop offset="0.913" stop-color="#0000bd"/><stop offset="0.923" stop-color="#2300a6"/><stop offset="0.928" stop-color="#58009f"/><stop offset="0.938" stop-color="#78009b"/><stop offset="0.943" stop-color="#850096"/><stop offset="0.953" stop-color="#850096"/><stop offset="0.962" stop-color="#850096"/><stop offset="0.971" stop-color="#830094"/><stop offset="0.980" stop-color="#850096"/><stop offset="0.989" stop-color="#830094"/><stop offset="1.000" stop-color="#850096"/></linearGradient><linearGradient id="g32"><stop offset="0.000" stop-color="#000000"/><stop offset="0.009" stop-color="#000000"/><stop offset="0.018" stop-color="#000000"/><stop offset="0.028" stop-color="#000000"/><stop offset="0.038" stop-color="#000000"/><stop offset="0.038" stop-color="#850096"/><stop offset="0.047" stop-color="#850096"/><stop offset="0.057" stop-color="#820093"/><stop offset="0.066" stop-color="#870098"/><stop offset="0.075" stop-color="#83009a"/><stop offset="0.084" stop-color="#860097"/><stop offset="0.093" stop-color="#810092"/><stop offset="0.102" stop-color="#860097"/><stop offset="0.112" stop-color="#860097"/><stop offset="0.121" stop-color="#850096"/><stop offset="0.130" stop-color="#850096"/><stop offset="0.142" stop-color="#58009f"/><stop offset="0.151" stop-color="#3800a3"/><stop offset="0.157" stop-color="#2300a6"/><stop offset="0.164" stop-color="#0000d1"/><stop offset="0.175" stop-color="#0013dd"/><stop offset="0.187" stop-color="#0078dd"/><stop offset="0.196" stop-color="#0085dd"/><stop offset="0.202" stop-color="#008ddd"/><stop offset="0.211" stop-color="#009cd3"/><stop offset="0.220" stop-color="#00a3bf"/><stop offset="0.229" stop-color="#00a6b7"/><stop offset="0.239" stop-color="#00a7b3"/><stop offset="0.248" stop-color="#00a6b7"/><stop offset="0.257" stop-color="#00a8af"/><stop offset="0.262" stop-color="#00aaab"/><stop offset="0.271" stop-color="#00aaab"/><stop offset="0.280" stop-color="#00aaa3"/><stop offset="0.289" stop-color="#00aaa8"/><stop offset="0.298" stop-color="#00aa9d"/><stop offset="0.306" stop-color="#00aa9d"/><stop offset="0.316" stop-color="#00aa9b"/><stop offset="0.325" stop-color="#00aa93"/><stop offset="0.334" stop-color="#00aa98"/><stop offset="0.343" stop-color="#00aa93"/><stop offset="0.352" stop-color="#00aa8b"/><stop offset="0.359" stop-color="#00aa95"/><stop offset="0.368" stop-color="#00a97d"/><stop offset="0.377" stop-color="#00a353"/><stop offset="0.385" stop-color="#009d1d"/><stop offset="0.394" stop-color="#009e28"/><stop offset="0.404" stop-color="#009a00"/><stop offset="0.413" stop-color="#009a08"/><stop offset="0.422" stop-color="#00a200"/><stop offset="0.431" stop-color="#009f00"/><stop offset="0.438" stop-color="#009f00"/><stop offset="0.447" stop-color="#00ac00"/><stop offset="0.456" stop-color="#00b400"/><stop offset="0.465" stop-color="#00ba00"/><stop offset="0.474" stop-color="#00c400"/><stop offset="0.479" stop-color="#00ca00"/><stop offset="0.488" stop-color="#00c700"/><stop offset="0.497" stop-color="#00c700"/><stop offset="0.506" stop-color="#00ca00"/><stop offset="0.516" stop-color="#00cc00"/><stop offset="0.525" stop-color="#00c200"/><stop offset="0.534" stop-color="#00cc00"/><stop offset="0.543" stop-color="#00cc00"/><stop offset="0.552" stop-color="#00cc00"/><stop offset="0.561" stop-color="#00ca00"/><stop offset="0.570" stop-color="#00b700"/><stop offset="0.580" stop-color="#00ba00"/><stop offset="0.589" stop-color="#00b400"/><stop offset="0.598" stop-color="#00aa00"/><stop offset="0.606" stop-color="#00a700"/><stop offset="0.615" stop-color="#009f00"/><stop offset="0.625" stop-color="#009f00"/><stop offset="0.634" stop-color="#009f00"/><stop offset="0.643" stop-color="#00a200"/><stop offset="0.651" stop-color="#009d1d"/><stop offset="0.660" stop-color="#00a13d"/><stop offset="0.670" stop-color="#00a55d"/><stop offset="0.679" stop-color="#00aa88"/><stop offset="0.689" stop-color="#00aa90"/><stop offset="0.698" stop-color="#00aa93"/><stop offset="0.707" stop-color="#00aa9b"/><stop offset="0.716" stop-color="#00aa98"/><stop offset="0.725" stop-color="#00aaa5"/><stop offset="0.735" stop-color="#00aaa5"/><stop offset="0.741" stop-color="#00aaa3"/><stop offset="0.742" stop-color="#00aaa3"/><stop offset="0.742" stop-color="#00dc00"/><stop offset="0.746" stop-color="#00dc00"/><stop offset="0.747" stop-color="#93ff00"/><stop offset="0.754" stop-color="#bcff00"/><stop offset="0.756" stop-color="#efed00"/><stop offset="0.760" stop-color="#efed00"/><stop offset="0.761" stop-color="#00ea00"/><stop offset="0.767" stop-color="#00ea00"/><stop offset="0.767" stop-color="#e4f100"/><stop offset="0.778" stop-color="#efed00"/><stop offset="0.779" stop-color="#00f200"/><stop offset="0.782" stop-color="#00f200"/><stop offset="0.783" stop-color="#f5df00"/><stop offset="0.793" stop-color="#f8da00"/><stop offset="0.794" stop-color="#e4f100"/><stop offset="0.804" stop-color="#dcf400"/><stop offset="0.805" stop-color="#00f200"/><stop offset="0.812" stop-color="#00f200"/><stop offset="0.812" stop-color="#dcf400"/><stop offset="0.819" stop-color="#dcf400"/><stop offset="0.820" stop-color="#00e400"/><stop offset="0.827" stop-color="#00e400"/><stop offset="0.828" stop-color="#009fcb"/><stop offset="0.837" stop-color="#009bd7"/><stop offset="0.846" stop-color="#0095dd"/><stop offset="0.857" stop-color="#008add"/><stop offset="0.868" stop-color="#002fdd"/><stop offset="0.878" stop-color="#001cdd"/><stop offset="0.887" stop-color="#0009dd"/><stop offset="0.895" stop-color="#0000dd"/><stop offset="0.904" stop-color="#0000cd"/><stop offset="0.913" stop-color="#0000bd"/><stop offset="0.923" stop-color="#2300a6"/><stop offset="0.928" stop-color="#58009f"/><stop offset="0.938" stop-color="#83009a"/><stop offset="0.943" stop-color="#850096"/><stop offset="0.953" stop-color="#850096"/><stop offset="0.962" stop-color="#850096"/><stop offset="0.971" stop-color="#850096"/><stop offset="0.980" stop-color="#830094"/><stop offset="0.989" stop-color="#830094"/><stop offset="1.000" stop-color="#850096"/></linearGradient><linearGradient id="g33"><stop offset="0.000" stop-color="#000000"/><stop offset="0.009" stop-color="#000000"/><stop offset="0.018" stop-color="#000000"/><stop offset="0.028" stop-color="#000000"/><stop offset="0.038" stop-color="#000000"/><stop offset="0.038" stop-color="#850096"/><stop offset="0.047" stop-color="#850096"/><stop offset="0.057" stop-color="#850096"/><stop offset="0.066" stop-color="#860097"/><stop offset="0.075" stop-color="#830094"/><stop offset="0.084" stop-color="#860097"/><stop offset="0.093" stop-color="#870098"/><stop offset="0.102" stop-color="#830094"/><stop offset="0.112" stop-color="#870098"/><stop offset="0.121" stop-color="#850096"/><stop offset="0.130" stop-color="#850096"/><stop offset="0.142" stop-color="#58009f"/><stop offset="0.151" stop-color="#3800a3"/><stop offset="0.157" stop-color="#2300a6"/><stop offset="0.164" stop-color="#0000d1"/><stop offset="0.175" stop-color="#0013dd"/><stop offset="0.187" stop-color="#0078dd"/><stop offset="0.196" stop-color="#0085dd"/><stop offset="0.202" stop-color="#008ddd"/><stop offset="0.211" stop-color="#009cd3"/><stop offset="0.220" stop-color="#00a3bf"/><stop offset="0.229" stop-color="#00a6b7"/><stop offset="0.239" stop-color="#00aaab"/><stop offset="0.248" stop-color="#00a3bf"/><stop offset="0.257" stop-color="#00a4bb"/><stop offset="0.262" stop-color="#00aaab"/><stop offset="0.271" stop-color="#00aaa8"/><stop offset="0.280" stop-color="#00aaa0"/><stop offset="0.289" stop-color="#00aaa0"/><stop offset="0.298" stop-color="#00aa9b"/><stop offset="0.306" stop-color="#00aa9d"/><stop offset="0.316" stop-color="#00aa9b"/><stop offset="0.325" stop-color="#00aa93"/><stop offset="0.334" stop-color="#00aaa0"/><stop offset="0.343" stop-color="#00aa95"/><stop offset="0.352" stop-color="#00aa98"/><stop offset="0.359" stop-color="#00aa95"/><stop offset="0.368" stop-color="#00a97d"/><stop offset="0.377" stop-color="#00a353"/><stop offset="0.385" stop-color="#009d1d"/><stop offset="0.394" stop-color="#009a00"/><stop offset="0.404" stop-color="#009a08"/><stop offset="0.413" stop-color="#009a00"/><stop offset="0.422" stop-color="#00a200"/><stop offset="0.431" stop-color="#00a700"/><stop offset="0.438" stop-color="#009f00"/><stop offset="0.447" stop-color="#00a700"/><stop offset="0.456" stop-color="#00b400"/><stop offset="0.465" stop-color="#00bc00"/><stop offset="0.474" stop-color="#00c700"/><stop offset="0.479" stop-color="#00ca00"/><stop offset="0.488" stop-color="#00ca00"/><stop offset="0.497" stop-color="#00cf00"/><stop offset="0.506" stop-color="#00cc00"/><stop offset="0.516" stop-color="#00d200"/><stop offset="0.525" stop-color="#00c700"/><stop offset="0.534" stop-color="#00cc00"/><stop offset="0.543" stop-color="#00cc00"/><stop offset="0.552" stop-color="#00ca00"/><stop offset="0.561" stop-color="#00ca00"/><stop offset="0.570" stop-color="#00bf00"/><stop offset="0.580" stop-color="#00bc00"/><stop offset="0.589" stop-color="#00b400"/><stop offset="0.598" stop-color="#00aa00"/><stop offset="0.606" stop-color="#00a700"/><stop offset="0.615" stop-color="#00a200"/><stop offset="0.625" stop-color="#009c00"/><stop offset="0.634" stop-color="#009c00"/><stop offset="0.643" stop-color="#009c00"/><stop offset="0.651" stop-color="#009d1d"/><stop offset="0.660" stop-color="#009f33"/><stop offset="0.670" stop-color="#00a353"/><stop offset="0.679" stop-color="#00a97d"/><stop offset="0.689" stop-color="#00aa90"/><stop offset="0.698" stop-color="#00aa90"/><stop offset="0.707" stop-color="#00aa98"/><stop offset="0.716" stop-color="#00aaa3"/><stop offset="0.725" stop-color="#00aaa3"/><stop offset="0.735" stop-color="#00aaa0"/><stop offset="0.741" stop-color="#00aaa3"/><stop offset="0.742" stop-color="#00aaa3"/><stop offset="0.742" stop-color="#00dc00"/><stop offset="0.746" stop-color="#00dc00"/><stop offset="0.747" stop-color="#93ff00"/><stop offset="0.754" stop-color="#bcff00"/><stop offset="0.756" stop-color="#efed00"/><stop offset="0.760" stop-color="#efed00"/><stop offset="0.761" stop-color="#00ea00"/><stop offset="0.767" stop-color="#00ea00"/><stop offset="0.767" stop-color="#e4f100"/><stop offset="0.778" stop-color="#efed00"/><stop offset="0.779" stop-color="#00f200"/><stop offset="0.782" stop-color="#00f200"/><stop offset="0.783" stop-color="#f5df00"/><stop offset="0.793" stop-color="#f8da00"/><stop offset="0.794" stop-color="#e4f100"/><stop offset="0.804" stop-color="#dcf400"/><stop offset="0.805" stop-color="#00f200"/><stop offset="0.812" stop-color="#00f200"/><stop offset="0.812" stop-color="#dcf400"/><stop offset="0.819" stop-color="#dcf400"/><stop offset="0.820" stop-color="#00e400"/><stop offset="0.827" stop-color="#00e400"/><stop offset="0.828" stop-color="#009fcb"/><stop offset="0.837" stop-color="#009bd7"/><stop offset="0.846" stop-color="#0095dd"/><stop offset="0.857" stop-color="#008add"/><stop offset="0.868" stop-color="#002fdd"/><stop offset="0.878" stop-color="#001cdd"/><stop offset="0.887" stop-color="#0009dd"/><stop offset="0.895" stop-color="#0000dd"/><stop offset="0.904" stop-color="#0000cd"/><stop offset="0.913" stop-color="#0000bd"/><stop offset="0.923" stop-color="#2300a6"/><stop offset="0.928" stop-color="#58009f"/><stop offset="0.938" stop-color="#83009a"/><stop offset="0.943" stop-color="#850096"/><stop offset="0.953" stop-color="#850096"/><stop offset="0.962" stop-color="#860097"/><stop offset="0.971" stop-color="#820093"/><stop offset="0.980" stop-color="#830094"/><stop offset="0.989" stop-color="#830094"/><stop offset="1.000" stop-color="#850096"/></linearGradient><linearGradient id="g34"><stop offset="0.000" stop-color="#000000"/><stop offset="0.009" stop-color="#000000"/><stop offset="0.018" stop-color="#000000"/><stop offset="0.028" stop-color="#000000"/><stop offset="0.038" stop-color="#000000"/><stop offset="0.038" stop-color="#850096"/><stop offset="0.047" stop-color="#850096"/><stop offset="0.057" stop-color="#830094"/><stop offset="0.066" stop-color="#850096"/><stop offset="0.075" stop-color="#850096"/><stop offset="0.084" stop-color="#830094"/><stop offset="0.093" stop-color="#850096"/><stop offset="0.102" stop-color="#830094"/><stop offset="0.112" stop-color="#860097"/><stop offset="0.121" stop-color="#850096"/><stop offset="0.130" stop-color="#850096"/><stop offset="0.142" stop-color="#58009f"/><stop offset="0.151" stop-color="#3800a3"/><stop offset="0.157" stop-color="#2300a6"/><stop offset="0.164" stop-color="#0000d1"/><stop offset="0.175" stop-color="#0013dd"/><stop offset="0.187" stop-color="#0078dd"/><stop offset="0.196" stop-color="#0085dd"/><stop offset="0.202" stop-color="#008ddd"/><stop offset="0.211" stop-color="#0098dd"/><stop offset="0.220" stop-color="#009fcb"/><stop offset="0.229" stop-color="#009ecf"/><stop offset="0.239" stop-color="#00a2c3"/><stop offset="0.248" stop-color="#00a7b3"/><stop offset="0.257" stop-color="#00a7b3"/><stop offset="0.262" stop-color="#00a7b3"/><stop offset="0.271" stop-color="#00a7b3"/><stop offset="0.280" stop-color="#00aaab"/><stop offset="0.289" stop-color="#00a4bb"/><stop offset="0.298" stop-color="#00aaa8"/><stop offset="0.306" stop-color="#00aa9d"/><stop offset="0.316" stop-color="#00aa98"/><stop offset="0.325" stop-color="#00aaa0"/><stop offset="0.334" stop-color="#00aa98"/><stop offset="0.343" stop-color="#00aa98"/><stop offset="0.352" stop-color="#00aa95"/><stop offset="0.359" stop-color="#00aa95"/><stop offset="0.368" stop-color="#00a97d"/><stop offset="0.377" stop-color="#00a13d"/><stop offset="0.385" stop-color="#009d1d"/><stop offset="0.394" stop-color="#009e28"/><stop offset="0.404" stop-color="#009a08"/><stop offset="0.413" stop-color="#009a00"/><stop offset="0.422" stop-color="#009f00"/><stop offset="0.431" stop-color="#009c00"/><stop offset="0.438" stop-color="#009f00"/><stop offset="0.447" stop-color="#00a200"/><stop offset="0.456" stop-color="#00aa00"/><stop offset="0.465" stop-color="#00af00"/><stop offset="0.474" stop-color="#00bc00"/><stop offset="0.479" stop-color="#00c200"/><stop offset="0.488" stop-color="#00bf00"/><stop offset="0.497" stop-color="#00c700"/><stop offset="0.506" stop-color="#00bf00"/><stop offset="0.516" stop-color="#00c200"/><stop offset="0.525" stop-color="#00b700"/><stop offset="0.534" stop-color="#00bc00"/><stop offset="0.543" stop-color="#00bc00"/><stop offset="0.552" stop-color="#00ba00"/><stop offset="0.561" stop-color="#00c200"/><stop offset="0.570" stop-color="#00b400"/><stop offset="0.580" stop-color="#00aa00"/><stop offset="0.589" stop-color="#00b400"/><stop offset="0.598" stop-color="#00aa00"/><stop offset="0.606" stop-color="#00a700"/><stop offset="0.615" stop-color="#009a08"/><stop offset="0.625" stop-color="#00a200"/><stop offset="0.634" stop-color="#009b13"/><stop offset="0.643" stop-color="#009d1d"/><stop offset="0.651" stop-color="#009d1d"/><stop offset="0.660" stop-color="#00a248"/><stop offset="0.670" stop-color="#00a97d"/><stop offset="0.679" stop-color="#00aa8b"/><stop offset="0.689" stop-color="#00aa90"/><stop offset="0.698" stop-color="#00aa90"/><stop offset="0.707" stop-color="#00aa8d"/><stop offset="0.716" stop-color="#00aa98"/><stop offset="0.725" stop-color="#00aa98"/><stop offset="0.735" stop-color="#00aa98"/><stop offset="0.741" stop-color="#00aaa3"/><stop offset="0.742" stop-color="#00aaa3"/><stop offset="0.742" stop-color="#00dc00"/><stop offset="0.746" stop-color="#00dc00"/><stop offset="0.747" stop-color="#93ff00"/><stop offset="0.754" stop-color="#bcff00"/><stop offset="0.756" stop-color="#efed00"/><stop offset="0.760" stop-color="#efed00"/><stop offset="0.761" stop-color="#00ea00"/><stop offset="0.767" stop-color="#00ea00"/><stop offset="0.767" stop-color="#e4f100"/><stop offset="0.778" stop-color="#efed00"/><stop offset="0.779" stop-color="#00f200"/><stop offset="0.782" stop-color="#00f200"/><stop offset="0.783" stop-color="#f5df00"/><stop offset="0.793" stop-color="#f8da00"/><stop offset="0.794" stop-color="#e4f100"/><stop offset="0.804" stop-color="#dcf400"/><stop offset="0.805" stop-color="#00f200"/><stop offset="0.812" stop-color="#00f200"/><stop offset="0.812" stop-color="#dcf400"/><stop offset="0.819" stop-color="#dcf400"/><stop offset="0.820" stop-color="#00e400"/><stop offset="0.827" stop-color="#00e400"/><stop offset="0.828" stop-color="#009fcb"/><stop offset="0.837" stop-color="#009bd7"/><stop offset="0.846" stop-color="#0095dd"/><stop offset="0.857" stop-color="#008add"/><stop offset="0.868" stop-color="#002fdd"/><stop offset="0.878" stop-color="#001cdd"/><stop offset="0.887" stop-color="#0009dd"/><stop offset="0.895" stop-color="#0000dd"/><stop offset="0.904" stop-color="#0000cd"/><stop offset="0.913" stop-color="#0000bd"/><stop offset="0.923" stop-color="#2300a6"/><stop offset="0.928" stop-color="#58009f"/><stop offset="0.938" stop-color="#860097"/><stop offset="0.943" stop-color="#850096"/><stop offset="0.953" stop-color="#850096"/><stop offset="0.962" stop-color="#810092"/><stop offset="0.971" stop-color="#850096"/><stop offset="0.980" stop-color="#850096"/><stop offset="0.989" stop-color="#850096"/><stop offset="1.000" stop-color="#850096"/></linearGradient><linearGradient id="g35"><stop offset="0.000" stop-color="#000000"/><stop offset="0.009" stop-color="#000000"/><stop offset="0.018" stop-color="#000000"/><stop offset="0.028" stop-color="#000000"/><stop offset="0.038" stop-color="#000000"/><stop offset="0.038" stop-color="#850096"/><stop offset="0.047" stop-color="#830094"/><stop offset="0.057" stop-color="#830094"/><stop offset="0.066" stop-color="#850096"/><stop offset="0.075" stop-color="#850096"/><stop offset="0.084" stop-color="#860097"/><stop offset="0.093" stop-color="#810092"/><stop offset="0.102" stop-color="#850096"/><stop offset="0.112" stop-color="#850096"/><stop offset="0.121" stop-color="#830094"/><stop offset="0.130" stop-color="#850096"/><stop offset="0.142" stop-color="#58009f"/><stop offset="0.151" stop-color="#3800a3"/><stop offset="0.157" stop-color="#2300a6"/><stop offset="0.164" stop-color="#0000d1"/><stop offset="0.173" stop-color="#0000dd"/><stop offset="0.183" stop-color="#0013dd"/><stop offset="0.194" stop-color="#0078dd"/><stop offset="0.203" stop-color="#0088dd"/><stop offset="0.209" stop-color="#008ddd"/><stop offset="0.218" stop-color="#0098dd"/><stop offset="0.228" stop-color="#0098dd"/><stop offset="0.237" stop-color="#00a0c7"/><stop offset="0.246" stop-color="#009adb"/><stop offset="0.255" stop-color="#009ecf"/><stop offset="0.262" stop-color="#009fcb"/><stop offset="0.271" stop-color="#00a4bb"/><stop offset="0.280" stop-color="#00a4bb"/><stop offset="0.289" stop-color="#00a7b3"/><stop offset="0.298" stop-color="#00aaa5"/><stop offset="0.306" stop-color="#00aa9d"/><stop offset="0.316" stop-color="#00aa9b"/><stop offset="0.325" stop-color="#00aa9b"/><stop offset="0.334" stop-color="#00aa98"/><stop offset="0.343" stop-color="#00aa98"/><stop offset="0.352" stop-color="#00aa9b"/><stop offset="0.359" stop-color="#00aa95"/><stop offset="0.368" stop-color="#00aa90"/><stop offset="0.377" stop-color="#00a248"/><stop offset="0.385" stop-color="#009d1d"/><stop offset="0.394" stop-color="#009b13"/><stop offset="0.404" stop-color="#009a08"/><stop offset="0.413" stop-color="#009c00"/><stop offset="0.422" stop-color="#009f00"/><stop offset="0.431" stop-color="#009f00"/><stop offset="0.438" stop-color="#009f00"/><stop offset="0.447" stop-color="#00a400"/><stop offset="0.456" stop-color="#00af00"/><stop offset="0.465" stop-color="#00b700"/><stop offset="0.474" stop-color="#00ba00"/><stop offset="0.479" stop-color="#00bf00"/><stop offset="0.488" stop-color="#00bf00"/><stop offset="0.497" stop-color="#00ba00"/><stop offset="0.506" stop-color="#00cc00"/><stop offset="0.516" stop-color="#00c200"/><stop offset="0.525" stop-color="#00bf00"/><stop offset="0.534" stop-color="#00bc00"/><stop offset="0.543" stop-color="#00ba00"/><stop offset="0.552" stop-color="#00bc00"/><stop offset="0.561" stop-color="#00bf00"/><stop offset="0.570" stop-color="#00bf00"/><stop offset="0.580" stop-color="#00b200"/><stop offset="0.589" stop-color="#00aa00"/><stop offset="0.598" stop-color="#00a700"/><stop offset="0.606" stop-color="#00a700"/><stop offset="0.615" stop-color="#009f00"/><stop offset="0.625" stop-color="#009f00"/><stop offset="0.634" stop-color="#009a00"/><stop offset="0.643" stop-color="#009d1d"/><stop offset="0.651" stop-color="#009d1d"/><stop offset="0.660" stop-color="#00a13d"/><stop offset="0.670" stop-color="#00a353"/><stop offset="0.679" stop-color="#00a55d"/><stop offset="0.689" stop-color="#00aa90"/><stop offset="0.698" stop-color="#00aa98"/><stop offset="0.707" stop-color="#00aa95"/><stop offset="0.716" stop-color="#00aa93"/><stop offset="0.725" stop-color="#00aaa0"/><stop offset="0.735" stop-color="#00aaa5"/><stop offset="0.741" stop-color="#00aaa3"/><stop offset="0.742" stop-color="#00aaa3"/><stop offset="0.742" stop-color="#00dc00"/><stop offset="0.746" stop-color="#00dc00"/><stop offset="0.747" stop-color="#93ff00"/><stop offset="0.754" stop-color="#bcff00"/><stop offset="0.756" stop-color="#efed00"/><stop offset="0.760" stop-color="#efed00"/><stop offset="0.761" stop-color="#00ea00"/><stop offset="0.767" stop-color="#00ea00"/><stop offset="0.767" stop-color="#e4f100"/><stop offset="0.778" stop-color="#efed00"/><stop offset="0.779" stop-color="#00f200"/><stop offset="0.782" stop-color="#00f200"/><stop offset="0.783" stop-color="#f5df00"/><stop offset="0.793" stop-color="#f8da00"/><stop offset="0.794" stop-color="#e4f100"/><stop offset="0.804" stop-color="#dcf400"/><stop offset="0.805" stop-color="#00f200"/><stop offset="0.812" stop-color="#00f200"/><stop offset="0.812" stop-color="#dcf400"/><stop offset="0.819" stop-color="#dcf400"/><stop offset="0.820" stop-color="#00e400"/><stop offset="0.827" stop-color="#00e400"/><stop offset="0.828" stop-color="#009fcb"/><stop offset="0.837" stop-color="#009bd7"/><stop offset="0.846" stop-color="#0095dd"/><stop offset="0.857" stop-color="#008add"/><stop offset="0.868" stop-color="#002fdd"/><stop offset="0.878" stop-color="#001cdd"/><stop offset="0.887" stop-color="#0009dd"/><stop offset="0.895" stop-color="#0000dd"/><stop offset="0.904" stop-color="#0000cd"/><stop offset="0.913" stop-color="#0000bd"/><stop offset="0.923" stop-color="#2300a6"/><stop offset="0.928" stop-color="#58009f"/><stop offset="0.938" stop-color="#83009a"/><stop offset="0.943" stop-color="#850096"/><stop offset="0.953" stop-color="#850096"/><stop offset="0.962" stop-color="#830094"/><stop offset="0.971" stop-color="#830094"/><stop offset="0.980" stop-color="#820093"/><stop offset="0.989" stop-color="#820093"/><stop offset="1.000" stop-color="#850096"/></linearGradient><linearGradient id="g36"><stop offset="0.000" stop-color="#000000"/><stop offset="0.009" stop-color="#000000"/><stop offset="0.018" stop-color="#000000"/><stop offset="0.028" stop-color="#000000"/><stop offset="0.038" stop-color="#000000"/><stop offset="0.038" stop-color="#850096"/><stop offset="0.047" stop-color="#7f0090"/><stop offset="0.057" stop-color="#830094"/><stop offset="0.066" stop-color="#850096"/><stop offset="0.075" stop-color="#850096"/><stop offset="0.084" stop-color="#850096"/><stop offset="0.093" stop-color="#830094"/><stop offset="0.102" stop-color="#860097"/><stop offset="0.112" stop-color="#830094"/><stop offset="0.121" stop-color="#83009a"/><stop offset="0.130" stop-color="#850096"/><stop offset="0.142" stop-color="#58009f"/><stop offset="0.151" stop-color="#3800a3"/><stop offset="0.157" stop-color="#2300a6"/><stop offset="0.164" stop-color="#0000d1"/><stop offset="0.173" stop-color="#0000dd"/><stop offset="0.183" stop-color="#0013dd"/><stop offset="0.194" stop-color="#0078dd"/><stop offset="0.203" stop-color="#0080dd"/><stop offset="0.209" stop-color="#008ddd"/><stop offset="0.218" stop-color="#0095dd"/><stop offset="0.228" stop-color="#0098dd"/><stop offset="0.237" stop-color="#0098dd"/><stop offset="0.246" stop-color="#009bd7"/><stop offset="0.255" stop-color="#00a2c3"/><stop offset="0.262" stop-color="#009fcb"/><stop offset="0.271" stop-color="#00a2c3"/><stop offset="0.280" stop-color="#00a8af"/><stop offset="0.289" stop-color="#00aaa5"/><stop offset="0.298" stop-color="#00aaa3"/><stop offset="0.306" stop-color="#00aa9d"/><stop offset="0.316" stop-color="#00aa98"/><stop offset="0.325" stop-color="#00aa9b"/><stop offset="0.334" stop-color="#00aa95"/><stop offset="0.343" stop-color="#00aa93"/><stop offset="0.352" stop-color="#00aa95"/><stop offset="0.359" stop-color="#00aa95"/><stop offset="0.368" stop-color="#00a668"/><stop offset="0.377" stop-color="#00a353"/><stop offset="0.385" stop-color="#009d1d"/><stop offset="0.394" stop-color="#009a08"/><stop offset="0.404" stop-color="#009a08"/><stop offset="0.413" stop-color="#009c00"/><stop offset="0.422" stop-color="#009a08"/><stop offset="0.431" stop-color="#00a200"/><stop offset="0.438" stop-color="#009f00"/><stop offset="0.447" stop-color="#00aa00"/><stop offset="0.456" stop-color="#00ac00"/><stop offset="0.465" stop-color="#00bc00"/><stop offset="0.474" stop-color="#00d200"/><stop offset="0.479" stop-color="#00ca00"/><stop offset="0.488" stop-color="#00c700"/><stop offset="0.497" stop-color="#00cf00"/><stop offset="0.506" stop-color="#00cc00"/><stop offset="0.516" stop-color="#00bf00"/><stop offset="0.525" stop-color="#00cc00"/><stop offset="0.534" stop-color="#00ca00"/><stop offset="0.543" stop-color="#00c700"/><stop offset="0.552" stop-color="#00ca00"/><stop offset="0.561" stop-color="#00ca00"/><stop offset="0.570" stop-color="#00ba00"/><stop offset="0.580" stop-color="#00bf00"/><stop offset="0.589" stop-color="#00b700"/><stop offset="0.598" stop-color="#00b200"/><stop offset="0.606" stop-color="#00a700"/><stop offset="0.615" stop-color="#00a200"/><stop offset="0.625" stop-color="#00a400"/><stop offset="0.634" stop-color="#009b13"/><stop offset="0.643" stop-color="#009e28"/><stop offset="0.651" stop-color="#009d1d"/><stop offset="0.660" stop-color="#009f33"/><stop offset="0.670" stop-color="#00a55d"/><stop offset="0.679" stop-color="#00aa8b"/><stop offset="0.689" stop-color="#00aa90"/><stop offset="0.698" stop-color="#00aa9b"/><stop offset="0.707" stop-color="#00aa98"/><stop offset="0.716" stop-color="#00aaa3"/><stop offset="0.725" stop-color="#00aaa3"/><stop offset="0.735" stop-color="#00aaa3"/><stop offset="0.741" stop-color="#00aaa3"/><stop offset="0.742" stop-color="#00aaa3"/><stop offset="0.742" stop-color="#00dc00"/><stop offset="0.746" stop-color="#00dc00"/><stop offset="0.747" stop-color="#93ff00"/><stop offset="0.754" stop-color="#bcff00"/><stop offset="0.756" stop-color="#efed00"/><stop offset="0.760" stop-color="#efed00"/><stop offset="0.761" stop-color="#00ea00"/><stop offset="0.767" stop-color="#00ea00"/><stop offset="0.767" stop-color="#e4f100"/><stop offset="0.778" stop-color="#efed00"/><stop offset="0.779" stop-color="#00f200"/><stop offset="0.782" stop-color="#00f200"/><stop offset="0.783" stop-color="#f5df00"/><stop offset="0.793" stop-color="#f8da00"/><stop offset="0.794" stop-color="#e4f100"/><stop offset="0.804" stop-color="#dcf400"/><stop offset="0.805" stop-color="#00f200"/><stop offset="0.812" stop-color="#00f200"/><stop offset="0.812" stop-color="#dcf400"/><stop offset="0.819" stop-color="#dcf400"/><stop offset="0.820" stop-color="#00e400"/><stop offset="0.827" stop-color="#00e400"/><stop offset="0.828" stop-color="#009fcb"/><stop offset="0.837" stop-color="#009bd7"/><stop offset="0.846" stop-color="#0095dd"/><stop offset="0.857" stop-color="#008add"/><stop offset="0.868" stop-color="#002fdd"/><stop offset="0.878" stop-color="#001cdd"/><stop offset="0.887" stop-color="#0009dd"/><stop offset="0.895" stop-color="#0000dd"/><stop offset="0.904" stop-color="#0000cd"/><stop offset="0.913" stop-color="#0000bd"/><stop offset="0.923" stop-color="#2300a6"/><stop offset="0.928" stop-color="#58009f"/><stop offset="0.938" stop-color="#870098"/><stop offset="0.943" stop-color="#850096"/><stop offset="0.953" stop-color="#820093"/><stop offset="0.962" stop-color="#860097"/><stop offset="0.971" stop-color="#830094"/><stop offset="0.980" stop-color="#820093"/><stop offset="0.989" stop-color="#860097"/><stop offset="1.000" stop-color="#850096"/></linearGradient><linearGradient id="g37"><stop offset="0.000" stop-color="#000000"/><stop offset="0.009" stop-color="#000000"/><stop offset="0.018" stop-color="#000000"/><stop offset="0.028" stop-color="#000000"/><stop offset="0.038" stop-color="#000000"/><stop offset="0.038" stop-color="#850096"/><stop offset="0.047" stop-color="#7f0090"/><stop offset="0.057" stop-color="#830094"/><stop offset="0.066" stop-color="#850096"/><stop offset="0.075" stop-color="#870098"/><stop offset="0.084" stop-color="#870098"/><stop offset="0.093" stop-color="#850096"/><stop offset="0.102" stop-color="#820093"/><stop offset="0.112" stop-color="#830094"/><stop offset="0.121" stop-color="#830094"/><stop offset="0.130" stop-color="#850096"/><stop offset="0.142" stop-color="#58009f"/><stop offset="0.151" stop-color="#3800a3"/><stop offset="0.157" stop-color="#2300a6"/><stop offset="0.164" stop-color="#0000d1"/><stop offset="0.173" stop-color="#0000dd"/><stop offset="0.183" stop-color="#0013dd"/><stop offset="0.194" stop-color="#0078dd"/><stop offset="0.203" stop-color="#0085dd"/><stop offset="0.209" stop-color="#008ddd"/><stop offset="0.218" stop-color="#0092dd"/><stop offset="0.228" stop-color="#0098dd"/><stop offset="0.237" stop-color="#009cd3"/><stop offset="0.246" stop-color="#009ecf"/><stop offset="0.255" stop-color="#00a0c7"/><stop offset="0.262" stop-color="#009fcb"/><stop offset="0.271" stop-color="#00a2c3"/><stop offset="0.280" stop-color="#00a8af"/><stop offset="0.289" stop-color="#00a8af"/><stop offset="0.298" stop-color="#00aaa8"/><stop offset="0.306" stop-color="#00aa9d"/><stop offset="0.316" stop-color="#00aaa5"/><stop offset="0.325" stop-color="#00aaa3"/><stop offset="0.334" stop-color="#00aa98"/><stop offset="0.343" stop-color="#00aa95"/><stop offset="0.352" stop-color="#00aa90"/><stop offset="0.359" stop-color="#00aa95"/><stop offset="0.368" stop-color="#00aa88"/><stop offset="0.377" stop-color="#00a248"/><stop offset="0.385" stop-color="#009d1d"/><stop offset="0.394" stop-color="#009a00"/><stop offset="0.404" stop-color="#009a00"/><stop offset="0.413" stop-color="#009a00"/><stop offset="0.422" stop-color="#009a00"/><stop offset="0.431" stop-color="#009a08"/><stop offset="0.438" stop-color="#009f00"/><stop offset="0.447" stop-color="#00b700"/><stop offset="0.456" stop-color="#00b200"/><stop offset="0.465" stop-color="#00b400"/><stop offset="0.474" stop-color="#00ba00"/><stop offset="0.479" stop-color="#00c400"/><stop offset="0.488" stop-color="#00c700"/><stop offset="0.497" stop-color="#00ca00"/><stop offset="0.506" stop-color="#00ca00"/><stop offset="0.516" stop-color="#00c400"/><stop offset="0.525" stop-color="#00c400"/><stop offset="0.534" stop-color="#00ca00"/><stop offset="0.543" stop-color="#00c200"/><stop offset="0.552" stop-color="#00c700"/><stop offset="0.561" stop-color="#00c400"/><stop offset="0.570" stop-color="#00c200"/><stop offset="0.580" stop-color="#00ba00"/><stop offset="0.589" stop-color="#00b400"/><stop offset="0.598" stop-color="#00ac00"/><stop offset="0.606" stop-color="#00a700"/><stop offset="0.615" stop-color="#00aa00"/><stop offset="0.625" stop-color="#009a00"/><stop offset="0.634" stop-color="#009b13"/><stop offset="0.643" stop-color="#009b13"/><stop offset="0.651" stop-color="#009d1d"/><stop offset="0.660" stop-color="#00a248"/><stop offset="0.670" stop-color="#00a248"/><stop offset="0.679" stop-color="#00aa8d"/><stop offset="0.689" stop-color="#00aa90"/><stop offset="0.698" stop-color="#00aa90"/><stop offset="0.707" stop-color="#00aa9d"/><stop offset="0.716" stop-color="#00aa95"/><stop offset="0.725" stop-color="#00aa98"/><stop offset="0.735" stop-color="#00aa9d"/><stop offset="0.741" stop-color="#00aaa3"/><stop offset="0.742" stop-color="#00aaa3"/><stop offset="0.742" stop-color="#00dc00"/><stop offset="0.746" stop-color="#00dc00"/><stop offset="0.747" stop-color="#93ff00"/><stop offset="0.754" stop-color="#bcff00"/><stop offset="0.756" stop-color="#efed00"/><stop offset="0.760" stop-color="#efed00"/><stop offset="0.761" stop-color="#00ea00"/><stop offset="0.767" stop-color="#00ea00"/><stop offset="0.767" stop-color="#e4f100"/><stop offset="0.778" stop-color="#efed00"/><stop offset="0.779" stop-color="#00f200"/><stop offset="0.782" stop-color="#00f200"/><stop offset="0.783" stop-color="#f5df00"/><stop offset="0.793" stop-color="#f8da00"/><stop offset="0.794" stop-color="#e4f100"/><stop offset="0.804" stop-color="#dcf400"/><stop offset="0.805" stop-color="#00f200"/><stop offset="0.812" stop-color="#00f200"/><stop offset="0.812" stop-color="#dcf400"/><stop offset="0.819" stop-color="#dcf400"/><stop offset="0.820" stop-color="#00e400"/><stop offset="0.827" stop-color="#00e400"/><stop offset="0.828" stop-color="#009fcb"/><stop offset="0.837" stop-color="#009bd7"/><stop offset="0.846" stop-color="#0095dd"/><stop offset="0.857" stop-color="#008add"/><stop offset="0.868" stop-color="#002fdd"/><stop offset="0.878" stop-color="#001cdd"/><stop offset="0.887" stop-color="#0009dd"/><stop offset="0.895" stop-color="#0000dd"/><stop offset="0.904" stop-color="#0000cd"/><stop offset="0.913" stop-color="#0000bd"/><stop offset="0.923" stop-color="#2300a6"/><stop offset="0.928" stop-color="#58009f"/><stop offset="0.938" stop-color="#78009b"/><stop offset="0.943" stop-color="#850096"/><stop offset="0.953" stop-color="#850096"/><stop offset="0.962" stop-color="#850096"/><stop offset="0.971" stop-color="#810092"/><stop offset="0.980" stop-color="#820093"/><stop offset="0.989" stop-color="#830094"/><stop offset="1.000" stop-color="#850096"/></linearGradient><linearGradient id="g38"><stop offset="0.000" stop-color="#000000"/><stop offset="0.009" stop-color="#000000"/><stop offset="0.018" stop-color="#000000"/><stop offset="0.028" stop-color="#000000"/><stop offset="0.038" stop-color="#000000"/><stop offset="0.038" stop-color="#850096"/><stop offset="0.047" stop-color="#850096"/><stop offset="0.057" stop-color="#830094"/><stop offset="0.066" stop-color="#830094"/><stop offset="0.075" stop-color="#7e008f"/><stop offset="0.084" stop-color="#830094"/><stop offset="0.093" stop-color="#850096"/><stop offset="0.102" stop-color="#830094"/><stop offset="0.112" stop-color="#820093"/><stop offset="0.121" stop-color="#860097"/><stop offset="0.130" stop-color="#850096"/><stop offset="0.142" stop-color="#58009f"/><stop offset="0.151" stop-color="#3800a3"/><stop offset="0.157" stop-color="#2300a6"/><stop offset="0.164" stop-color="#0000d1"/><stop offset="0.173" stop-color="#0000dd"/><stop offset="0.183" stop-color="#0013dd"/><stop offset="0.194" stop-color="#0078dd"/><stop offset="0.203" stop-color="#0085dd"/><stop offset="0.209" stop-color="#008ddd"/><stop offset="0.218" stop-color="#009adb"/><stop offset="0.228" stop-color="#0098dd"/><stop offset="0.237" stop-color="#009adb"/><stop offset="0.246" stop-color="#009bd7"/><stop offset="0.255" stop-color="#009bd7"/><stop offset="0.262" stop-color="#009fcb"/><stop offset="0.271" stop-color="#009fcb"/><stop offset="0.280" stop-color="#00a4bb"/><stop offset="0.289" stop-color="#00aaa5"/><stop offset="0.298" stop-color="#00aaa0"/><stop offset="0.306" stop-color="#00aa9d"/><stop offset="0.316" stop-color="#00aaa0"/><stop offset="0.325" stop-color="#00aa95"/><stop offset="0.334" stop-color="#00aa9b"/><stop offset="0.343" stop-color="#00aa98"/><stop offset="0.352" stop-color="#00aa98"/><stop offset="0.359" stop-color="#00aa95"/><stop offset="0.368" stop-color="#00a773"/><stop offset="0.377" stop-color="#00a353"/><stop offset="0.385" stop-color="#009d1d"/><stop offset="0.394" stop-color="#009d1d"/><stop offset="0.404" stop-color="#009d1d"/><stop offset="0.413" stop-color="#009b13"/><stop offset="0.422" stop-color="#009a00"/><stop offset="0.431" stop-color="#00a200"/><stop offset="0.438" stop-color="#009f00"/><stop offset="0.447" stop-color="#00aa00"/><stop offset="0.456" stop-color="#00af00"/><stop offset="0.465" stop-color="#00b400"/><stop offset="0.474" stop-color="#00c700"/><stop offset="0.479" stop-color="#00c200"/><stop offset="0.488" stop-color="#00c200"/><stop offset="0.497" stop-color="#00c400"/><stop offset="0.506" stop-color="#00c200"/><stop offset="0.516" stop-color="#00c200"/><stop offset="0.525" stop-color="#00c400"/><stop offset="0.534" stop-color="#00ca00"/><stop offset="0.543" stop-color="#00c200"/><stop offset="0.552" stop-color="#00c700"/><stop offset="0.561" stop-color="#00c200"/><stop offset="0.570" stop-color="#00b700"/><stop offset="0.580" stop-color="#00b400"/><stop offset="0.589" stop-color="#00ac00"/><stop offset="0.598" stop-color="#00af00"/><stop offset="0.606" stop-color="#00a700"/><stop offset="0.615" stop-color="#00a200"/><stop offset="0.625" stop-color="#009f00"/><stop offset="0.634" stop-color="#009c00"/><stop offset="0.643" stop-color="#00a700"/><stop offset="0.651" stop-color="#009d1d"/><stop offset="0.660" stop-color="#009f33"/><stop offset="0.670" stop-color="#00a55d"/><stop offset="0.679" stop-color="#00aa8d"/><stop offset="0.689" stop-color="#00aa90"/><stop offset="0.698" stop-color="#00aa93"/><stop offset="0.707" stop-color="#00aa90"/><stop offset="0.716" stop-color="#00aa98"/><stop offset="0.725" stop-color="#00aaa0"/><stop offset="0.735" stop-color="#00aaab"/><stop offset="0.741" stop-color="#00aaa3"/><stop offset="0.742" stop-color="#00aaa3"/><stop offset="0.742" stop-color="#00dc00"/><stop offset="0.746" stop-color="#00dc00"/><stop offset="0.747" stop-color="#93ff00"/><stop offset="0.754" stop-color="#bcff00"/><stop offset="0.756" stop-color="#efed00"/><stop offset="0.760" stop-color="#efed00"/><stop offset="0.761" stop-color="#00ea00"/><stop offset="0.767" stop-color="#00ea00"/><stop offset="0.767" stop-color="#e4f100"/><stop offset="0.778" stop-color="#efed00"/><stop offset="0.779" stop-color="#00f200"/><stop offset="0.782" stop-color="#00f200"/><stop offset="0.783" stop-color="#f5df00"/><stop offset="0.793" stop-color="#f8da00"/><stop offset="0.794" stop-color="#e4f100"/><stop offset="0.804" stop-color="#dcf400"/><stop offset="0.805" stop-color="#00f200"/><stop offset="0.812" stop-color="#00f200"/><stop offset="0.812" stop-color="#dcf400"/><stop offset="0.819" stop-color="#dcf400"/><stop offset="0.820" stop-color="#00e400"/><stop offset="0.827" stop-color="#00e400"/><stop offset="0.828" stop-color="#009fcb"/><stop offset="0.837" stop-color="#009bd7"/><stop offset="0.846" stop-color="#0095dd"/><stop offset="0.857" stop-color="#008add"/><stop offset="0.868" stop-color="#002fdd"/><stop offset="0.878" stop-color="#001cdd"/><stop offset="0.887" stop-color="#0009dd"/><stop offset="0.895" stop-color="#0000dd"/><stop offset="0.904" stop-color="#0000cd"/><stop offset="0.913" stop-color="#0000bd"/><stop offset="0.923" stop-color="#2300a6"/><stop offset="0.928" stop-color="#58009f"/><stop offset="0.938" stop-color="#78009b"/><stop offset="0.943" stop-color="#850096"/><stop offset="0.953" stop-color="#850096"/><stop offset="0.962" stop-color="#820093"/><stop offset="0.971" stop-color="#820093"/><stop offset="0.980" stop-color="#820093"/><stop offset="0.989" stop-color="#850096"/><stop offset="1.000" stop-color="#850096"/></linearGradient><linearGradient id="g39"><stop offset="0.000" stop-color="#000000"/><stop offset="0.009" stop-color="#000000"/><stop offset="0.018" stop-color="#000000"/><stop offset="0.028" stop-color="#000000"/><stop offset="0.038" stop-color="#000000"/><stop offset="0.038" stop-color="#850096"/><stop offset="0.047" stop-color="#860097"/><stop offset="0.057" stop-color="#830094"/><stop offset="0.066" stop-color="#850096"/><stop offset="0.075" stop-color="#820093"/><stop offset="0.084" stop-color="#7f0090"/><stop offset="0.093" stop-color="#820093"/><stop offset="0.102" stop-color="#810092"/><stop offset="0.112" stop-color="#850096"/><stop offset="0.121" stop-color="#820093"/><stop offset="0.130" stop-color="#850096"/><stop offset="0.142" stop-color="#58009f"/><stop offset="0.151" stop-color="#3800a3"/><stop offset="0.157" stop-color="#2300a6"/><stop offset="0.164" stop-color="#0000d1"/><stop offset="0.173" stop-color="#0000dd"/><stop offset="0.183" stop-color="#0013dd"/><stop offset="0.194" stop-color="#0078dd"/><stop offset="0.203" stop-color="#0080dd"/><stop offset="0.209" stop-color="#008ddd"/><stop offset="0.218" stop-color="#0092dd"/><stop offset="0.228" stop-color="#0098dd"/><stop offset="0.237" stop-color="#009bd7"/><stop offset="0.246" stop-color="#009adb"/><stop offset="0.255" stop-color="#009bd7"/><stop offset="0.262" stop-color="#009fcb"/><stop offset="0.271" stop-color="#00a2c3"/><stop offset="0.280" stop-color="#00a2c3"/><stop offset="0.289" stop-color="#00a7b3"/><stop offset="0.298" stop-color="#00aaa8"/><stop offset="0.306" stop-color="#00aa9d"/><stop offset="0.316" stop-color="#00aa98"/><stop offset="0.325" stop-color="#00aaa0"/><stop offset="0.334" stop-color="#00aa9b"/><stop offset="0.343" stop-color="#00aa95"/><stop offset="0.352" stop-color="#00aa95"/><stop offset="0.359" stop-color="#00aa95"/><stop offset="0.368" stop-color="#00aa8b"/><stop offset="0.377" stop-color="#00a353"/><stop offset="0.385" stop-color="#009d1d"/><stop offset="0.394" stop-color="#009a08"/><stop offset="0.404" stop-color="#009a08"/><stop offset="0.413" stop-color="#009a00"/><stop offset="0.422" stop-color="#009f00"/><stop offset="0.431" stop-color="#00a200"/><stop offset="0.438" stop-color="#009f00"/><stop offset="0.447" stop-color="#00aa00"/><stop offset="0.456" stop-color="#00af00"/><stop offset="0.465" stop-color="#00b700"/><stop offset="0.474" stop-color="#00ba00"/><stop offset="0.479" stop-color="#00c200"/><stop offset="0.488" stop-color="#00c700"/><stop offset="0.497" stop-color="#00bc00"/><stop offset="0.506" stop-color="#00b400"/><stop offset="0.516" stop-color="#00af00"/><stop offset="0.525" stop-color="#00b400"/><stop offset="0.534" stop-color="#00bc00"/><stop offset="0.543" stop-color="#00bc00"/><stop offset="0.552" stop-color="#00bc00"/><stop offset="0.561" stop-color="#00c200"/><stop offset="0.570" stop-color="#00bc00"/><stop offset="0.580" stop-color="#00af00"/><stop offset="0.589" stop-color="#00af00"/><stop offset="0.598" stop-color="#00af00"/><stop offset="0.606" stop-color="#00a700"/><stop offset="0.615" stop-color="#00a400"/><stop offset="0.625" stop-color="#009f00"/><stop offset="0.634" stop-color="#009a08"/><stop offset="0.643" stop-color="#009a00"/><stop offset="0.651" stop-color="#009d1d"/><stop offset="0.660" stop-color="#009f33"/><stop offset="0.670" stop-color="#00a668"/><stop offset="0.679" stop-color="#00aa88"/><stop offset="0.689" stop-color="#00aa90"/><stop offset="0.698" stop-color="#00aa9b"/><stop offset="0.707" stop-color="#00aa95"/><stop offset="0.716" stop-color="#00aa9b"/><stop offset="0.725" stop-color="#00aa9b"/><stop offset="0.735" stop-color="#00aaa0"/><stop offset="0.741" stop-color="#00aaa3"/><stop offset="0.742" stop-color="#00aaa3"/><stop offset="0.742" stop-color="#00dc00"/><stop offset="0.746" stop-color="#00dc00"/><stop offset="0.747" stop-color="#93ff00"/><stop offset="0.754" stop-color="#bcff00"/><stop offset="0.756" stop-color="#efed00"/><stop offset="0.760" stop-color="#efed00"/><stop offset="0.761" stop-color="#00ea00"/><stop offset="0.767" stop-color="#00ea00"/><stop offset="0.767" stop-color="#e4f100"/><stop offset="0.778" stop-color="#efed00"/><stop offset="0.779" stop-color="#00f200"/><stop offset="0.782" stop-color="#00f200"/><stop offset="0.783" stop-color="#f5df00"/><stop offset="0.793" stop-color="#f8da00"/><stop offset="0.794" stop-color="#e4f100"/><stop offset="0.804" stop-color="#dcf400"/><stop offset="0.805" stop-color="#00f200"/><stop offset="0.812" stop-color="#00f200"/><stop offset="0.812" stop-color="#dcf400"/><stop offset="0.819" stop-color="#dcf400"/><stop offset="0.820" stop-color="#00e400"/><stop offset="0.827" stop-color="#00e400"/><stop offset="0.828" stop-color="#009fcb"/><stop offset="0.837" stop-color="#009bd7"/><stop offset="0.846" stop-color="#0095dd"/><stop offset="0.857" stop-color="#008add"/><stop offset="0.868" stop-color="#002fdd"/><stop offset="0.878" stop-color="#001cdd"/><stop offset="0.887" stop-color="#0009dd"/><stop offset="0.895" stop-color="#0000dd"/><stop offset="0.904" stop-color="#0000cd"/><stop offset="0.913" stop-color="#0000bd"/><stop offset="0.923" stop-color="#2300a6"/><stop offset="0.928" stop-color="#58009f"/><stop offset="0.938" stop-color="#860097"/><stop offset="0.943" stop-color="#850096"/><stop offset="0.953" stop-color="#830094"/><stop offset="0.962" stop-color="#830094"/><stop offset="0.971" stop-color="#850096"/><stop offset="0.980" stop-color="#850096"/><stop offset="0.989" stop-color="#820093"/><stop offset="1.000" stop-color="#850096"/></linearGradient><linearGradient id="g40"><stop offset="0.000" stop-color="#000000"/><stop offset="0.009" stop-color="#000000"/><stop offset="0.018" stop-color="#000000"/><stop offset="0.028" stop-color="#000000"/><stop offset="0.038" stop-color="#000000"/><stop offset="0.038" stop-color="#670075"/><stop offset="0.047" stop-color="#670075"/><stop offset="0.057" stop-color="#670075"/><stop offset="0.066" stop-color="#5d006b"/><stop offset="0.075" stop-color="#670075"/><stop offset="0.084" stop-color="#540060"/><stop offset="0.093" stop-color="#770088"/><stop offset="0.102" stop-color="#700080"/><stop offset="0.112" stop-color="#5d006b"/><stop offset="0.121" stop-color="#700080"/><stop offset="0.130" stop-color="#4b0055"/><stop offset="0.139" stop-color="#4b0055"/><stop offset="0.148" stop-color="#5d006b"/><stop offset="0.158" stop-color="#5d006b"/><stop offset="0.167" stop-color="#700080"/><stop offset="0.176" stop-color="#670075"/><stop offset="0.187" stop-color="#5d006b"/><stop offset="0.196" stop-color="#380040"/><stop offset="0.205" stop-color="#1c0020"/><stop offset="0.213" stop-color="#000000"/><stop offset="0.222" stop-color="#000000"/><stop offset="0.231" stop-color="#000000"/><stop offset="0.240" stop-color="#000000"/><stop offset="0.250" stop-color="#000000"/><stop offset="0.259" stop-color="#000000"/><stop offset="0.269" stop-color="#000000"/><stop offset="0.277" stop-color="#09000b"/><stop offset="0.286" stop-color="#09000b"/><stop offset="0.295" stop-color="#09000b"/><stop offset="0.304" stop-color="#09000b"/><stop offset="0.313" stop-color="#1c0020"/><stop offset="0.322" stop-color="#000000"/><stop offset="0.332" stop-color="#09000b"/><stop offset="0.341" stop-color="#09000b"/><stop offset="0.350" stop-color="#130015"/><stop offset="0.359" stop-color="#000000"/><stop offset="0.368" stop-color="#09000b"/><stop offset="0.377" stop-color="#000000"/><stop offset="0.387" stop-color="#130015"/><stop offset="0.396" stop-color="#1c0020"/><stop offset="0.405" stop-color="#25002b"/><stop offset="0.414" stop-color="#130015"/><stop offset="0.423" stop-color="#130015"/><stop offset="0.433" stop-color="#1c0020"/><stop offset="0.442" stop-color="#1c0020"/><stop offset="0.451" stop-color="#130015"/><stop offset="0.460" stop-color="#09000b"/><stop offset="0.469" stop-color="#1c0020"/><stop offset="0.478" stop-color="#130015"/><stop offset="0.488" stop-color="#130015"/><stop offset="0.494" stop-color="#1c0020"/><stop offset="0.503" stop-color="#1c0020"/><stop offset="0.512" stop-color="#1c0020"/><stop offset="0.521" stop-color="#1c0020"/><stop offset="0.531" stop-color="#25002b"/><stop offset="0.540" stop-color="#2f0035"/><stop offset="0.549" stop-color="#380040"/><stop offset="0.558" stop-color="#2f0035"/><stop offset="0.567" stop-color="#2f0035"/><stop offset="0.576" stop-color="#2f0035"/><stop offset="0.586" stop-color="#380040"/><stop offset="0.595" stop-color="#41004b"/><stop offset="0.606" stop-color="#41004b"/><stop offset="0.615" stop-color="#5d006b"/><stop offset="0.625" stop-color="#380040"/><stop offset="0.634" stop-color="#4b0055"/><stop offset="0.643" stop-color="#670075"/><stop offset="0.652" stop-color="#670075"/><stop offset="0.661" stop-color="#540060"/><stop offset="0.670" stop-color="#5d006b"/><stop offset="0.680" stop-color="#670075"/><stop offset="0.689" stop-color="#5d006b"/><stop offset="0.698" stop-color="#540060"/><stop offset="0.707" stop-color="#700080"/><stop offset="0.719" stop-color="#700080"/><stop offset="0.728" stop-color="#770088"/><stop offset="0.737" stop-color="#770088"/><stop offset="0.746" stop-color="#5d006b"/><stop offset="0.755" stop-color="#700080"/><stop offset="0.765" stop-color="#700080"/><stop offset="0.774" stop-color="#700080"/><stop offset="0.783" stop-color="#670075"/><stop offset="0.792" stop-color="#770088"/><stop offset="0.801" stop-color="#770088"/><stop offset="0.810" stop-color="#770088"/><stop offset="0.820" stop-color="#770088"/><stop offset="0.829" stop-color="#700080"/><stop offset="0.838" stop-color="#700080"/><stop offset="0.847" stop-color="#700080"/><stop offset="0.856" stop-color="#670075"/><stop offset="0.868" stop-color="#700080"/><stop offset="0.878" stop-color="#5d006b"/><stop offset="0.887" stop-color="#5d006b"/><stop offset="0.896" stop-color="#5d006b"/><stop offset="0.905" stop-color="#4b0055"/><stop offset="0.914" stop-color="#5d006b"/><stop offset="0.925" stop-color="#4b0055"/><stop offset="0.934" stop-color="#540060"/><stop offset="0.943" stop-color="#5d006b"/><stop offset="0.952" stop-color="#41004b"/><stop offset="0.961" stop-color="#540060"/><stop offset="0.971" stop-color="#5d006b"/><stop offset="0.980" stop-color="#540060"/><stop offset="0.989" stop-color="#5d006b"/><stop offset="1.000" stop-color="#4b0055"/></linearGradient><linearGradient id="g41"><stop offset="0.000" stop-color="#000000"/><stop offset="0.038" stop-color="#000000"/><stop offset="0.038" stop-color="#1c0020"/><stop offset="0.164" stop-color="#130015"/><stop offset="0.179" stop-color="#000000"/><stop offset="0.662" stop-color="#000000"/><stop offset="0.681" stop-color="#130015"/><stop offset="1.000" stop-color="#1c0020"/></linearGradient><linearGradient id="g42"><stop offset="0.000" stop-color="#000000"/><stop offset="0.009" stop-color="#000000"/><stop offset="0.018" stop-color="#000000"/><stop offset="0.028" stop-color="#000000"/><stop offset="0.038" stop-color="#000000"/><stop offset="0.038" stop-color="#00ac00"/><stop offset="0.047" stop-color="#00b400"/><stop offset="0.057" stop-color="#00aa00"/><stop offset="0.066" stop-color="#00b200"/><stop offset="0.075" stop-color="#00c400"/><stop offset="0.084" stop-color="#00bf00"/><stop offset="0.089" stop-color="#00bc00"/><stop offset="0.098" stop-color="#00cf00"/><stop offset="0.108" stop-color="#00d200"/><stop offset="0.117" stop-color="#00d400"/><stop offset="0.126" stop-color="#00cc00"/><stop offset="0.135" stop-color="#00d200"/><stop offset="0.144" stop-color="#00dc00"/><stop offset="0.153" stop-color="#00e700"/><stop offset="0.157" stop-color="#00e400"/><stop offset="0.166" stop-color="#00e400"/><stop offset="0.175" stop-color="#00ea00"/><stop offset="0.184" stop-color="#00fa00"/><stop offset="0.194" stop-color="#00ff00"/><stop offset="0.198" stop-color="#bcff00"/><stop offset="0.209" stop-color="#f5df00"/><stop offset="0.218" stop-color="#fcd200"/><stop offset="0.224" stop-color="#ffc900"/><stop offset="0.233" stop-color="#ffcd00"/><stop offset="0.242" stop-color="#fdcf00"/><stop offset="0.250" stop-color="#fcd200"/><stop offset="0.259" stop-color="#fbd500"/><stop offset="0.269" stop-color="#f5df00"/><stop offset="0.278" stop-color="#f0ea00"/><stop offset="0.287" stop-color="#f0ea00"/><stop offset="0.296" stop-color="#f1e700"/><stop offset="0.306" stop-color="#efed00"/><stop offset="0.316" stop-color="#e8f000"/><stop offset="0.325" stop-color="#efed00"/><stop offset="0.334" stop-color="#efed00"/><stop offset="0.343" stop-color="#efed00"/><stop offset="0.352" stop-color="#efed00"/><stop offset="0.362" stop-color="#e4f100"/><stop offset="0.371" stop-color="#e0f300"/><stop offset="0.380" stop-color="#e0f300"/><stop offset="0.389" stop-color="#d4f700"/><stop offset="0.398" stop-color="#e8f000"/><stop offset="0.407" stop-color="#ecef00"/><stop offset="0.417" stop-color="#efed00"/><stop offset="0.426" stop-color="#efed00"/><stop offset="0.435" stop-color="#e4f100"/><stop offset="0.444" stop-color="#f5df00"/><stop offset="0.453" stop-color="#f3e500"/><stop offset="0.463" stop-color="#e4f100"/><stop offset="0.472" stop-color="#ecef00"/><stop offset="0.481" stop-color="#e8f000"/><stop offset="0.490" stop-color="#ecef00"/><stop offset="0.494" stop-color="#e4f100"/><stop offset="0.503" stop-color="#e8f000"/><stop offset="0.512" stop-color="#d4f700"/><stop offset="0.521" stop-color="#e4f100"/><stop offset="0.531" stop-color="#efed00"/><stop offset="0.540" stop-color="#d8f500"/><stop offset="0.550" stop-color="#d0f800"/><stop offset="0.559" stop-color="#d0f800"/><stop offset="0.568" stop-color="#b0ff00"/><stop offset="0.578" stop-color="#d0f800"/><stop offset="0.587" stop-color="#ccf900"/><stop offset="0.596" stop-color="#c0fd00"/><stop offset="0.605" stop-color="#58ff00"/><stop offset="0.614" stop-color="#93ff00"/><stop offset="0.625" stop-color="#49ff00"/><stop offset="0.634" stop-color="#00ff00"/><stop offset="0.643" stop-color="#2cff00"/><stop offset="0.652" stop-color="#00ff00"/><stop offset="0.662" stop-color="#00fc00"/><stop offset="0.671" stop-color="#00fa00"/><stop offset="0.680" stop-color="#00ff00"/><stop offset="0.689" stop-color="#1dff00"/><stop offset="0.698" stop-color="#1dff00"/><stop offset="0.708" stop-color="#00fc00"/><stop offset="0.717" stop-color="#00f700"/><stop offset="0.726" stop-color="#00f700"/><stop offset="0.735" stop-color="#00ff00"/><stop offset="0.741" stop-color="#00fa00"/><stop offset="0.745" stop-color="#00cf00"/><stop offset="0.752" stop-color="#00e400"/><stop offset="0.756" stop-color="#93ff00"/><stop offset="0.764" stop-color="#00f200"/><stop offset="0.771" stop-color="#00e400"/><stop offset="0.775" stop-color="#bcff00"/><stop offset="0.782" stop-color="#00f200"/><stop offset="0.790" stop-color="#00e400"/><stop offset="0.794" stop-color="#75ff00"/><stop offset="0.801" stop-color="#00f200"/><stop offset="0.809" stop-color="#00dc00"/><stop offset="0.812" stop-color="#93ff00"/><stop offset="0.820" stop-color="#00dc00"/><stop offset="0.824" stop-color="#00cf00"/><stop offset="0.833" stop-color="#00c200"/><stop offset="0.839" stop-color="#00bc00"/><stop offset="0.848" stop-color="#009a00"/><stop offset="0.857" stop-color="#00aa90"/><stop offset="0.861" stop-color="#00aa95"/><stop offset="0.870" stop-color="#00aaa3"/><stop offset="0.879" stop-color="#00aaa5"/><stop offset="0.889" stop-color="#00a6b7"/><stop offset="0.898" stop-color="#00a6b7"/><stop offset="0.906" stop-color="#009fcb"/><stop offset="0.915" stop-color="#009adb"/><stop offset="0.924" stop-color="#0098dd"/><stop offset="0.936" stop-color="#008add"/><stop offset="0.945" stop-color="#0080dd"/><stop offset="0.954" stop-color="#0067dd"/><stop offset="0.962" stop-color="#002fdd"/><stop offset="0.971" stop-color="#0013dd"/><stop offset="0.981" stop-color="#002fdd"/><stop offset="0.990" stop-color="#001cdd"/><stop offset="1.000" stop-color="#0000dd"/></linearGradient><linearGradient id="g43"><stop offset="0.038" stop-color="#2300a6"/><stop offset="0.049" stop-color="#1800a7"/><stop offset="0.061" stop-color="#0d00a8"/><stop offset="0.072" stop-color="#0300aa"/><stop offset="0.083" stop-color="#0000ad"/><stop offset="0.094" stop-color="#0000b1"/><stop offset="0.106" stop-color="#0000bd"/><stop offset="0.117" stop-color="#0000c5"/><stop offset="0.128" stop-color="#0000c9"/><stop offset="0.139" stop-color="#0000c9"/><stop offset="0.151" stop-color="#0000c9"/><stop offset="0.162" stop-color="#0000c9"/><stop offset="0.173" stop-color="#0054dd"/><stop offset="0.184" stop-color="#007add"/><stop offset="0.196" stop-color="#008add"/><stop offset="0.207" stop-color="#009cd3"/><stop offset="0.218" stop-color="#009fcb"/><stop offset="0.229" stop-color="#00a3bf"/><stop offset="0.241" stop-color="#00a3bf"/><stop offset="0.252" stop-color="#00a3bf"/><stop offset="0.263" stop-color="#00a4bb"/><stop offset="0.274" stop-color="#00a4bb"/><stop offset="0.286" stop-color="#00a4bb"/><stop offset="0.297" stop-color="#00a4bb"/><stop offset="0.308" stop-color="#00a4bb"/><stop offset="0.319" stop-color="#00a4bb"/><stop offset="0.330" stop-color="#00a3bf"/><stop offset="0.342" stop-color="#00a3bf"/><stop offset="0.353" stop-color="#00a3bf"/><stop offset="0.364" stop-color="#00a2c3"/><stop offset="0.375" stop-color="#00a0c7"/><stop offset="0.387" stop-color="#00a0c7"/><stop offset="0.398" stop-color="#009fcb"/><stop offset="0.409" stop-color="#009fcb"/><stop offset="0.420" stop-color="#009ecf"/><stop offset="0.432" stop-color="#009cd3"/><stop offset="0.443" stop-color="#009cd3"/><stop offset="0.454" stop-color="#009bd7"/><stop offset="0.465" stop-color="#009bd7"/><stop offset="0.477" stop-color="#009adb"/><stop offset="0.488" stop-color="#009adb"/><stop offset="0.499" stop-color="#0098dd"/><stop offset="0.510" stop-color="#0098dd"/><stop offset="0.522" stop-color="#0095dd"/><stop offset="0.533" stop-color="#0095dd"/><stop offset="0.544" stop-color="#0092dd"/><stop offset="0.555" stop-color="#0090dd"/><stop offset="0.567" stop-color="#008add"/><stop offset="0.578" stop-color="#0088dd"/><stop offset="0.589" stop-color="#0082dd"/><stop offset="0.600" stop-color="#0080dd"/><stop offset="0.611" stop-color="#007ddd"/><stop offset="0.623" stop-color="#007add"/><stop offset="0.634" stop-color="#0078dd"/><stop offset="0.645" stop-color="#0070dd"/><stop offset="0.656" stop-color="#005ddd"/><stop offset="0.668" stop-color="#005ddd"/><stop offset="0.679" stop-color="#0054dd"/><stop offset="0.690" stop-color="#0054dd"/><stop offset="0.701" stop-color="#0054dd"/><stop offset="0.713" stop-color="#004bdd"/><stop offset="0.724" stop-color="#004bdd"/><stop offset="0.735" stop-color="#0041dd"/><stop offset="0.746" stop-color="#008add"/><stop offset="0.758" stop-color="#0054dd"/><stop offset="0.769" stop-color="#004bdd"/><stop offset="0.780" stop-color="#008add"/><stop offset="0.791" stop-color="#0054dd"/><stop offset="0.803" stop-color="#0095dd"/><stop offset="0.814" stop-color="#0041dd"/><stop offset="0.825" stop-color="#001cdd"/><stop offset="0.836" stop-color="#0009dd"/><stop offset="0.848" stop-color="#0000d5"/><stop offset="0.859" stop-color="#0000cd"/><stop offset="0.870" stop-color="#0000bd"/><stop offset="0.881" stop-color="#0000b1"/><stop offset="0.892" stop-color="#1800a7"/><stop offset="0.904" stop-color="#58009f"/><stop offset="0.915" stop-color="#6d009c"/><stop offset="0.926" stop-color="#78009b"/><stop offset="0.937" stop-color="#870098"/><stop offset="0.949" stop-color="#7a008b"/><stop offset="0.960" stop-color="#770088"/><stop offset="0.971" stop-color="#770088"/><stop offset="0.982" stop-color="#700080"/><stop offset="0.994" stop-color="#700080"/></linearGradient><linearGradient id="g44"><stop offset="0.038" stop-color="#7a008b"/><stop offset="0.049" stop-color="#7a008b"/><stop offset="0.061" stop-color="#7a008b"/><stop offset="0.072" stop-color="#700080"/><stop offset="0.083" stop-color="#700080"/><stop offset="0.094" stop-color="#700080"/><stop offset="0.106" stop-color="#7a008b"/><stop offset="0.117" stop-color="#7a008b"/><stop offset="0.128" stop-color="#7a008b"/><stop offset="0.139" stop-color="#7a008b"/><stop offset="0.151" stop-color="#7a008b"/><stop offset="0.162" stop-color="#7a008b"/><stop offset="0.173" stop-color="#6d009c"/><stop offset="0.184" stop-color="#6d009c"/><stop offset="0.196" stop-color="#78009b"/><stop offset="0.207" stop-color="#1800a7"/><stop offset="0.218" stop-color="#0300aa"/><stop offset="0.229" stop-color="#0300aa"/><stop offset="0.241" stop-color="#0300aa"/><stop offset="0.252" stop-color="#0000ad"/><stop offset="0.263" stop-color="#0000ad"/><stop offset="0.274" stop-color="#0000ad"/><stop offset="0.286" stop-color="#0000b1"/><stop offset="0.297" stop-color="#0000b5"/><stop offset="0.308" stop-color="#0000b5"/><stop offset="0.319" stop-color="#0000b9"/><stop offset="0.330" stop-color="#0000bd"/><stop offset="0.342" stop-color="#0000bd"/><stop offset="0.353" stop-color="#0000c1"/><stop offset="0.364" stop-color="#0000c5"/><stop offset="0.375" stop-color="#0000c5"/><stop offset="0.387" stop-color="#0000c9"/><stop offset="0.398" stop-color="#0000cd"/><stop offset="0.409" stop-color="#0000d5"/><stop offset="0.420" stop-color="#0000d9"/><stop offset="0.432" stop-color="#0000dd"/><stop offset="0.443" stop-color="#0013dd"/><stop offset="0.454" stop-color="#0025dd"/><stop offset="0.465" stop-color="#0038dd"/><stop offset="0.477" stop-color="#0038dd"/><stop offset="0.488" stop-color="#0038dd"/><stop offset="0.499" stop-color="#0038dd"/><stop offset="0.510" stop-color="#0038dd"/><stop offset="0.522" stop-color="#0038dd"/><stop offset="0.533" stop-color="#0038dd"/><stop offset="0.544" stop-color="#0038dd"/><stop offset="0.555" stop-color="#0038dd"/><stop offset="0.567" stop-color="#0038dd"/><stop offset="0.578" stop-color="#0038dd"/><stop offset="0.589" stop-color="#002fdd"/><stop offset="0.600" stop-color="#001cdd"/><stop offset="0.611" stop-color="#0013dd"/><stop offset="0.623" stop-color="#0000dd"/><stop offset="0.634" stop-color="#0000dd"/><stop offset="0.645" stop-color="#0000d9"/><stop offset="0.656" stop-color="#0000d5"/><stop offset="0.668" stop-color="#0000cd"/><stop offset="0.679" stop-color="#0000c9"/><stop offset="0.690" stop-color="#0000c5"/><stop offset="0.701" stop-color="#0000c1"/><stop offset="0.713" stop-color="#0000bd"/><stop offset="0.724" stop-color="#0000b9"/><stop offset="0.735" stop-color="#0000b5"/><stop offset="0.746" stop-color="#0095dd"/><stop offset="0.758" stop-color="#0000c5"/><stop offset="0.769" stop-color="#0078dd"/><stop offset="0.780" stop-color="#009ecf"/><stop offset="0.791" stop-color="#004bdd"/><stop offset="0.803" stop-color="#0000d5"/><stop offset="0.814" stop-color="#0000cd"/><stop offset="0.825" stop-color="#0000bd"/><stop offset="0.836" stop-color="#3800a3"/><stop offset="0.848" stop-color="#4300a2"/><stop offset="0.859" stop-color="#4d00a0"/><stop offset="0.870" stop-color="#58009f"/><stop offset="0.881" stop-color="#83009a"/><stop offset="0.892" stop-color="#820093"/><stop offset="0.904" stop-color="#7a008b"/><stop offset="0.915" stop-color="#7a008b"/><stop offset="0.926" stop-color="#7a008b"/><stop offset="0.937" stop-color="#7a008b"/><stop offset="0.949" stop-color="#7a008b"/><stop offset="0.960" stop-color="#7a008b"/><stop offset="0.971" stop-color="#7a008b"/><stop offset="0.982" stop-color="#7a008b"/><stop offset="0.994" stop-color="#7a008b"/></linearGradient><linearGradient id="g45"><stop offset="0.038" stop-color="#7a008b"/><stop offset="0.049" stop-color="#7a008b"/><stop offset="0.061" stop-color="#7a008b"/><stop offset="0.072" stop-color="#700080"/><stop offset="0.083" stop-color="#700080"/><stop offset="0.094" stop-color="#700080"/><stop offset="0.106" stop-color="#7b008c"/><stop offset="0.117" stop-color="#7b008c"/><stop offset="0.128" stop-color="#7b008c"/><stop offset="0.139" stop-color="#7b008c"/><stop offset="0.151" stop-color="#7a008b"/><stop offset="0.162" stop-color="#7a008b"/><stop offset="0.173" stop-color="#63009e"/><stop offset="0.184" stop-color="#78009b"/><stop offset="0.196" stop-color="#83009a"/><stop offset="0.207" stop-color="#2300a6"/><stop offset="0.218" stop-color="#0300aa"/><stop offset="0.229" stop-color="#0300aa"/><stop offset="0.241" stop-color="#0300aa"/><stop offset="0.252" stop-color="#0000ad"/><stop offset="0.263" stop-color="#0000ad"/><stop offset="0.274" stop-color="#0000ad"/><stop offset="0.286" stop-color="#0000b1"/><stop offset="0.297" stop-color="#0000b5"/><stop offset="0.308" stop-color="#0000b5"/><stop offset="0.319" stop-color="#0000b9"/><stop offset="0.330" stop-color="#0000bd"/><stop offset="0.342" stop-color="#0000bd"/><stop offset="0.353" stop-color="#0000c1"/><stop offset="0.364" stop-color="#0000c5"/><stop offset="0.375" stop-color="#0000c5"/><stop offset="0.387" stop-color="#0000c9"/><stop offset="0.398" stop-color="#0000cd"/><stop offset="0.409" stop-color="#0000d1"/><stop offset="0.420" stop-color="#0000d5"/><stop offset="0.432" stop-color="#0000d9"/><stop offset="0.443" stop-color="#0009dd"/><stop offset="0.454" stop-color="#0013dd"/><stop offset="0.465" stop-color="#0025dd"/><stop offset="0.477" stop-color="#0025dd"/><stop offset="0.488" stop-color="#0025dd"/><stop offset="0.499" stop-color="#0025dd"/><stop offset="0.510" stop-color="#0025dd"/><stop offset="0.522" stop-color="#0025dd"/><stop offset="0.533" stop-color="#0025dd"/><stop offset="0.544" stop-color="#0025dd"/><stop offset="0.555" stop-color="#0025dd"/><stop offset="0.567" stop-color="#0025dd"/><stop offset="0.578" stop-color="#0025dd"/><stop offset="0.589" stop-color="#0025dd"/><stop offset="0.600" stop-color="#001cdd"/><stop offset="0.611" stop-color="#0009dd"/><stop offset="0.623" stop-color="#0000dd"/><stop offset="0.634" stop-color="#0000d9"/><stop offset="0.645" stop-color="#0000d5"/><stop offset="0.656" stop-color="#0000d5"/><stop offset="0.668" stop-color="#0000d1"/><stop offset="0.679" stop-color="#0000c9"/><stop offset="0.690" stop-color="#0000c5"/><stop offset="0.701" stop-color="#0000c1"/><stop offset="0.713" stop-color="#0000bd"/><stop offset="0.724" stop-color="#0000b9"/><stop offset="0.735" stop-color="#0000b5"/><stop offset="0.746" stop-color="#0095dd"/><stop offset="0.758" stop-color="#0000c5"/><stop offset="0.769" stop-color="#0078dd"/><stop offset="0.780" stop-color="#009ecf"/><stop offset="0.791" stop-color="#004bdd"/><stop offset="0.803" stop-color="#0000d5"/><stop offset="0.814" stop-color="#0000cd"/><stop offset="0.825" stop-color="#0000bd"/><stop offset="0.836" stop-color="#3800a3"/><stop offset="0.848" stop-color="#4300a2"/><stop offset="0.859" stop-color="#4d00a0"/><stop offset="0.870" stop-color="#58009f"/><stop offset="0.881" stop-color="#83009a"/><stop offset="0.892" stop-color="#820093"/><stop offset="0.904" stop-color="#7a008b"/><stop offset="0.915" stop-color="#7a008b"/><stop offset="0.926" stop-color="#7a008b"/><stop offset="0.937" stop-color="#7a008b"/><stop offset="0.949" stop-color="#7a008b"/><stop offset="0.960" stop-color="#7a008b"/><stop offset="0.971" stop-color="#7a008b"/><stop offset="0.982" stop-color="#7a008b"/><stop offset="0.994" stop-color="#7a008b"/></linearGradient><linearGradient id="g46"><stop offset="0.038" stop-color="#0000c9"/><stop offset="0.049" stop-color="#0000cd"/><stop offset="0.061" stop-color="#0000d1"/><stop offset="0.072" stop-color="#0000d1"/><stop offset="0.083" stop-color="#0000d5"/><stop offset="0.094" stop-color="#0000d5"/><stop offset="0.106" stop-color="#0000d5"/><stop offset="0.117" stop-color="#0000d5"/><stop offset="0.128" stop-color="#0000d9"/><stop offset="0.139" stop-color="#0000d9"/><stop offset="0.151" stop-color="#0000d9"/><stop offset="0.162" stop-color="#0000d9"/><stop offset="0.173" stop-color="#0082dd"/><stop offset="0.184" stop-color="#008ddd"/><stop offset="0.196" stop-color="#009adb"/><stop offset="0.207" stop-color="#00a7b3"/><stop offset="0.218" stop-color="#00a6b7"/><stop offset="0.229" stop-color="#00a6b7"/><stop offset="0.241" stop-color="#00a6b7"/><stop offset="0.252" stop-color="#00a6b7"/><stop offset="0.263" stop-color="#00a6b7"/><stop offset="0.274" stop-color="#00a6b7"/><stop offset="0.286" stop-color="#00a6b7"/><stop offset="0.297" stop-color="#00a6b7"/><stop offset="0.308" stop-color="#00a6b7"/><stop offset="0.319" stop-color="#00a4bb"/><stop offset="0.330" stop-color="#00a4bb"/><stop offset="0.342" stop-color="#00a4bb"/><stop offset="0.353" stop-color="#00a4bb"/><stop offset="0.364" stop-color="#00a4bb"/><stop offset="0.375" stop-color="#00a3bf"/><stop offset="0.387" stop-color="#00a3bf"/><stop offset="0.398" stop-color="#00a2c3"/><stop offset="0.409" stop-color="#00a2c3"/><stop offset="0.420" stop-color="#00a2c3"/><stop offset="0.432" stop-color="#00a0c7"/><stop offset="0.443" stop-color="#00a0c7"/><stop offset="0.454" stop-color="#009fcb"/><stop offset="0.465" stop-color="#009fcb"/><stop offset="0.477" stop-color="#009fcb"/><stop offset="0.488" stop-color="#009ecf"/><stop offset="0.499" stop-color="#009cd3"/><stop offset="0.510" stop-color="#009adb"/><stop offset="0.522" stop-color="#0098dd"/><stop offset="0.533" stop-color="#0098dd"/><stop offset="0.544" stop-color="#0095dd"/><stop offset="0.555" stop-color="#0095dd"/><stop offset="0.567" stop-color="#0092dd"/><stop offset="0.578" stop-color="#0092dd"/><stop offset="0.589" stop-color="#0092dd"/><stop offset="0.600" stop-color="#0092dd"/><stop offset="0.611" stop-color="#0092dd"/><stop offset="0.623" stop-color="#0090dd"/><stop offset="0.634" stop-color="#008ddd"/><stop offset="0.645" stop-color="#0088dd"/><stop offset="0.656" stop-color="#0085dd"/><stop offset="0.668" stop-color="#0082dd"/><stop offset="0.679" stop-color="#0082dd"/><stop offset="0.690" stop-color="#0082dd"/><stop offset="0.701" stop-color="#0082dd"/><stop offset="0.713" stop-color="#0080dd"/><stop offset="0.724" stop-color="#0080dd"/><stop offset="0.735" stop-color="#0080dd"/><stop offset="0.746" stop-color="#0098dd"/><stop offset="0.758" stop-color="#0080dd"/><stop offset="0.769" stop-color="#007ddd"/><stop offset="0.780" stop-color="#0092dd"/><stop offset="0.791" stop-color="#007add"/><stop offset="0.803" stop-color="#009bd7"/><stop offset="0.814" stop-color="#005ddd"/><stop offset="0.825" stop-color="#0025dd"/><stop offset="0.836" stop-color="#001cdd"/><stop offset="0.848" stop-color="#0013dd"/><stop offset="0.859" stop-color="#0000d9"/><stop offset="0.870" stop-color="#0000d1"/><stop offset="0.881" stop-color="#0000c9"/><stop offset="0.892" stop-color="#0000bd"/><stop offset="0.904" stop-color="#0000b1"/><stop offset="0.915" stop-color="#3800a3"/><stop offset="0.926" stop-color="#63009e"/><stop offset="0.937" stop-color="#78009b"/><stop offset="0.949" stop-color="#7f0090"/><stop offset="0.960" stop-color="#7b008c"/><stop offset="0.971" stop-color="#7b008c"/><stop offset="0.982" stop-color="#7a008b"/><stop offset="0.994" stop-color="#7a008b"/></linearGradient><linearGradient id="g47"><stop offset="0.038" stop-color="#0078dd"/><stop offset="0.049" stop-color="#007add"/><stop offset="0.061" stop-color="#007ddd"/><stop offset="0.072" stop-color="#0080dd"/><stop offset="0.083" stop-color="#0080dd"/><stop offset="0.094" stop-color="#0082dd"/><stop offset="0.106" stop-color="#0088dd"/><stop offset="0.117" stop-color="#008add"/><stop offset="0.128" stop-color="#0090dd"/><stop offset="0.139" stop-color="#0092dd"/><stop offset="0.151" stop-color="#0095dd"/><stop offset="0.162" stop-color="#0098dd"/><stop offset="0.173" stop-color="#009adb"/><stop offset="0.184" stop-color="#009bd7"/><stop offset="0.196" stop-color="#009ecf"/><stop offset="0.207" stop-color="#00aaab"/><stop offset="0.218" stop-color="#00aaa0"/><stop offset="0.229" stop-color="#00aa9b"/><stop offset="0.241" stop-color="#00aa9b"/><stop offset="0.252" stop-color="#00aaa0"/><stop offset="0.263" stop-color="#00aaa5"/><stop offset="0.274" stop-color="#00aaa8"/><stop offset="0.286" stop-color="#00aaab"/><stop offset="0.297" stop-color="#00a8af"/><stop offset="0.308" stop-color="#00a7b3"/><stop offset="0.319" stop-color="#00a7b3"/><stop offset="0.330" stop-color="#00a6b7"/><stop offset="0.342" stop-color="#00a6b7"/><stop offset="0.353" stop-color="#00a6b7"/><stop offset="0.364" stop-color="#00a6b7"/><stop offset="0.375" stop-color="#00a4bb"/><stop offset="0.387" stop-color="#00a4bb"/><stop offset="0.398" stop-color="#00a4bb"/><stop offset="0.409" stop-color="#00a4bb"/><stop offset="0.420" stop-color="#00a3bf"/><stop offset="0.432" stop-color="#00a3bf"/><stop offset="0.443" stop-color="#00a3bf"/><stop offset="0.454" stop-color="#00a3bf"/><stop offset="0.465" stop-color="#00a3bf"/><stop offset="0.477" stop-color="#00a3bf"/><stop offset="0.488" stop-color="#00a3bf"/><stop offset="0.499" stop-color="#00a3bf"/><stop offset="0.510" stop-color="#00a3bf"/><stop offset="0.522" stop-color="#00a3bf"/><stop offset="0.533" stop-color="#00a3bf"/><stop offset="0.544" stop-color="#00a3bf"/><stop offset="0.555" stop-color="#00a2c3"/><stop offset="0.567" stop-color="#00a2c3"/><stop offset="0.578" stop-color="#00a0c7"/><stop offset="0.589" stop-color="#00a0c7"/><stop offset="0.600" stop-color="#009fcb"/><stop offset="0.611" stop-color="#009fcb"/><stop offset="0.623" stop-color="#009ecf"/><stop offset="0.634" stop-color="#009ecf"/><stop offset="0.645" stop-color="#009cd3"/><stop offset="0.656" stop-color="#009cd3"/><stop offset="0.668" stop-color="#009ecf"/><stop offset="0.679" stop-color="#009ecf"/><stop offset="0.690" stop-color="#009ecf"/><stop offset="0.701" stop-color="#009ecf"/><stop offset="0.713" stop-color="#009ecf"/><stop offset="0.724" stop-color="#009ecf"/><stop offset="0.735" stop-color="#009ecf"/><stop offset="0.746" stop-color="#0090dd"/><stop offset="0.758" stop-color="#00a4bb"/><stop offset="0.769" stop-color="#009bd7"/><stop offset="0.780" stop-color="#00a0c7"/><stop offset="0.791" stop-color="#009ecf"/><stop offset="0.803" stop-color="#009cd3"/><stop offset="0.814" stop-color="#00a3bf"/><stop offset="0.825" stop-color="#009adb"/><stop offset="0.836" stop-color="#008add"/><stop offset="0.848" stop-color="#007add"/><stop offset="0.859" stop-color="#0041dd"/><stop offset="0.870" stop-color="#001cdd"/><stop offset="0.881" stop-color="#0000d9"/><stop offset="0.892" stop-color="#0000cd"/><stop offset="0.904" stop-color="#0000bd"/><stop offset="0.915" stop-color="#0000ad"/><stop offset="0.926" stop-color="#2300a6"/><stop offset="0.937" stop-color="#4300a2"/><stop offset="0.949" stop-color="#63009e"/><stop offset="0.960" stop-color="#78009b"/><stop offset="0.971" stop-color="#83009a"/><stop offset="0.982" stop-color="#860097"/><stop offset="0.994" stop-color="#830094"/></linearGradient><linearGradient id="g48"><stop offset="0.038" stop-color="#7b008c"/><stop offset="0.049" stop-color="#7a008b"/><stop offset="0.061" stop-color="#7a008b"/><stop offset="0.072" stop-color="#7a008b"/><stop offset="0.083" stop-color="#7a008b"/><stop offset="0.094" stop-color="#7a008b"/><stop offset="0.106" stop-color="#7a008b"/><stop offset="0.117" stop-color="#7a008b"/><stop offset="0.128" stop-color="#7a008b"/><stop offset="0.139" stop-color="#7e008f"/><stop offset="0.151" stop-color="#810092"/><stop offset="0.162" stop-color="#83009a"/><stop offset="0.173" stop-color="#58009f"/><stop offset="0.184" stop-color="#3800a3"/><stop offset="0.196" stop-color="#1800a7"/><stop offset="0.207" stop-color="#0d00a8"/><stop offset="0.218" stop-color="#0000ad"/><stop offset="0.229" stop-color="#0000b1"/><stop offset="0.241" stop-color="#0000b5"/><stop offset="0.252" stop-color="#0000b5"/><stop offset="0.263" stop-color="#0000b9"/><stop offset="0.274" stop-color="#0000c1"/><stop offset="0.286" stop-color="#0000c5"/><stop offset="0.297" stop-color="#0000c9"/><stop offset="0.308" stop-color="#0000cd"/><stop offset="0.319" stop-color="#0000cd"/><stop offset="0.330" stop-color="#0000d1"/><stop offset="0.342" stop-color="#0000d1"/><stop offset="0.353" stop-color="#0000d1"/><stop offset="0.364" stop-color="#0000d9"/><stop offset="0.375" stop-color="#0013dd"/><stop offset="0.387" stop-color="#002fdd"/><stop offset="0.398" stop-color="#0038dd"/><stop offset="0.409" stop-color="#0038dd"/><stop offset="0.420" stop-color="#0041dd"/><stop offset="0.432" stop-color="#004bdd"/><stop offset="0.443" stop-color="#0054dd"/><stop offset="0.454" stop-color="#005ddd"/><stop offset="0.465" stop-color="#0070dd"/><stop offset="0.477" stop-color="#007add"/><stop offset="0.488" stop-color="#007add"/><stop offset="0.499" stop-color="#007ddd"/><stop offset="0.510" stop-color="#007ddd"/><stop offset="0.522" stop-color="#007ddd"/><stop offset="0.533" stop-color="#007ddd"/><stop offset="0.544" stop-color="#0080dd"/><stop offset="0.555" stop-color="#0080dd"/><stop offset="0.567" stop-color="#007ddd"/><stop offset="0.578" stop-color="#007add"/><stop offset="0.589" stop-color="#0078dd"/><stop offset="0.600" stop-color="#0070dd"/><stop offset="0.611" stop-color="#0070dd"/><stop offset="0.623" stop-color="#0067dd"/><stop offset="0.634" stop-color="#005ddd"/><stop offset="0.645" stop-color="#005ddd"/><stop offset="0.656" stop-color="#0054dd"/><stop offset="0.668" stop-color="#0041dd"/><stop offset="0.679" stop-color="#002fdd"/><stop offset="0.690" stop-color="#0025dd"/><stop offset="0.701" stop-color="#001cdd"/><stop offset="0.713" stop-color="#001cdd"/><stop offset="0.724" stop-color="#0013dd"/><stop offset="0.735" stop-color="#0009dd"/><stop offset="0.746" stop-color="#00a0c7"/><stop offset="0.758" stop-color="#00aa98"/><stop offset="0.769" stop-color="#00aa9d"/><stop offset="0.780" stop-color="#009ecf"/><stop offset="0.791" stop-color="#00aa90"/><stop offset="0.803" stop-color="#00aaa0"/><stop offset="0.814" stop-color="#00aaa0"/><stop offset="0.825" stop-color="#009bd7"/><stop offset="0.836" stop-color="#0000c5"/><stop offset="0.848" stop-color="#0000bd"/><stop offset="0.859" stop-color="#0000b1"/><stop offset="0.870" stop-color="#3800a3"/><stop offset="0.881" stop-color="#4300a2"/><stop offset="0.892" stop-color="#58009f"/><stop offset="0.904" stop-color="#6d009c"/><stop offset="0.915" stop-color="#870098"/><stop offset="0.926" stop-color="#810092"/><stop offset="0.937" stop-color="#7d008e"/><stop offset="0.949" stop-color="#7b008c"/><stop offset="0.960" stop-color="#7b008c"/><stop offset="0.971" stop-color="#7b008c"/><stop offset="0.982" stop-color="#7b008c"/><stop offset="0.994" stop-color="#7b008c"/></linearGradient><linearGradient id="g49"><stop offset="0.038" stop-color="#7d008e"/><stop offset="0.049" stop-color="#7d008e"/><stop offset="0.061" stop-color="#7d008e"/><stop offset="0.072" stop-color="#7d008e"/><stop offset="0.083" stop-color="#7d008e"/><stop offset="0.094" stop-color="#7d008e"/><stop offset="0.106" stop-color="#7b008c"/><stop offset="0.117" stop-color="#7b008c"/><stop offset="0.128" stop-color="#7b008c"/><stop offset="0.139" stop-color="#7f0090"/><stop offset="0.151" stop-color="#830094"/><stop offset="0.162" stop-color="#78009b"/><stop offset="0.173" stop-color="#58009f"/><stop offset="0.184" stop-color="#4300a2"/><stop offset="0.196" stop-color="#2300a6"/><stop offset="0.207" stop-color="#0d00a8"/><stop offset="0.218" stop-color="#0d00a8"/><stop offset="0.229" stop-color="#0300aa"/><stop offset="0.241" stop-color="#0000ad"/><stop offset="0.252" stop-color="#0000b1"/><stop offset="0.263" stop-color="#0000b5"/><stop offset="0.274" stop-color="#0000bd"/><stop offset="0.286" stop-color="#0000c5"/><stop offset="0.297" stop-color="#0000c9"/><stop offset="0.308" stop-color="#0000d1"/><stop offset="0.319" stop-color="#0000d1"/><stop offset="0.330" stop-color="#0000d1"/><stop offset="0.342" stop-color="#0000d5"/><stop offset="0.353" stop-color="#0000d5"/><stop offset="0.364" stop-color="#0000dd"/><stop offset="0.375" stop-color="#001cdd"/><stop offset="0.387" stop-color="#0038dd"/><stop offset="0.398" stop-color="#0041dd"/><stop offset="0.409" stop-color="#0041dd"/><stop offset="0.420" stop-color="#004bdd"/><stop offset="0.432" stop-color="#004bdd"/><stop offset="0.443" stop-color="#005ddd"/><stop offset="0.454" stop-color="#0067dd"/><stop offset="0.465" stop-color="#0078dd"/><stop offset="0.477" stop-color="#007ddd"/><stop offset="0.488" stop-color="#007ddd"/><stop offset="0.499" stop-color="#007ddd"/><stop offset="0.510" stop-color="#0080dd"/><stop offset="0.522" stop-color="#0080dd"/><stop offset="0.533" stop-color="#0080dd"/><stop offset="0.544" stop-color="#0080dd"/><stop offset="0.555" stop-color="#0082dd"/><stop offset="0.567" stop-color="#0080dd"/><stop offset="0.578" stop-color="#007ddd"/><stop offset="0.589" stop-color="#007add"/><stop offset="0.600" stop-color="#0078dd"/><stop offset="0.611" stop-color="#0070dd"/><stop offset="0.623" stop-color="#0067dd"/><stop offset="0.634" stop-color="#0067dd"/><stop offset="0.645" stop-color="#005ddd"/><stop offset="0.656" stop-color="#0054dd"/><stop offset="0.668" stop-color="#0041dd"/><stop offset="0.679" stop-color="#002fdd"/><stop offset="0.690" stop-color="#0025dd"/><stop offset="0.701" stop-color="#001cdd"/><stop offset="0.713" stop-color="#001cdd"/><stop offset="0.724" stop-color="#0013dd"/><stop offset="0.735" stop-color="#0009dd"/><stop offset="0.746" stop-color="#00a0c7"/><stop offset="0.758" stop-color="#00aa9b"/><stop offset="0.769" stop-color="#00aa9d"/><stop offset="0.780" stop-color="#009ecf"/><stop offset="0.791" stop-color="#00aa90"/><stop offset="0.803" stop-color="#00aaa0"/><stop offset="0.814" stop-color="#00aaa0"/><stop offset="0.825" stop-color="#009bd7"/><stop offset="0.836" stop-color="#0000c5"/><stop offset="0.848" stop-color="#0000bd"/><stop offset="0.859" stop-color="#0000b5"/><stop offset="0.870" stop-color="#2d00a4"/><stop offset="0.881" stop-color="#4300a2"/><stop offset="0.892" stop-color="#4d00a0"/><stop offset="0.904" stop-color="#6d009c"/><stop offset="0.915" stop-color="#870098"/><stop offset="0.926" stop-color="#810092"/><stop offset="0.937" stop-color="#7d008e"/><stop offset="0.949" stop-color="#7b008c"/><stop offset="0.960" stop-color="#7b008c"/><stop offset="0.971" stop-color="#7b008c"/><stop offset="0.982" stop-color="#7b008c"/><stop offset="0.994" stop-color="#7b008c"/></linearGradient><linearGradient id="g50"><stop offset="0.038" stop-color="#0067dd"/><stop offset="0.049" stop-color="#0070dd"/><stop offset="0.061" stop-color="#0078dd"/><stop offset="0.072" stop-color="#0078dd"/><stop offset="0.083" stop-color="#007add"/><stop offset="0.094" stop-color="#007ddd"/><stop offset="0.106" stop-color="#0080dd"/><stop offset="0.117" stop-color="#0082dd"/><stop offset="0.128" stop-color="#0085dd"/><stop offset="0.139" stop-color="#008add"/><stop offset="0.151" stop-color="#008ddd"/><stop offset="0.162" stop-color="#0090dd"/><stop offset="0.173" stop-color="#0092dd"/><stop offset="0.184" stop-color="#0095dd"/><stop offset="0.196" stop-color="#009cd3"/><stop offset="0.207" stop-color="#00aaa8"/><stop offset="0.218" stop-color="#00aa9d"/><stop offset="0.229" stop-color="#00aa9b"/><stop offset="0.241" stop-color="#00aa9b"/><stop offset="0.252" stop-color="#00aa9d"/><stop offset="0.263" stop-color="#00aaa0"/><stop offset="0.274" stop-color="#00aaa3"/><stop offset="0.286" stop-color="#00aaa5"/><stop offset="0.297" stop-color="#00aaa8"/><stop offset="0.308" stop-color="#00aaab"/><stop offset="0.319" stop-color="#00aaab"/><stop offset="0.330" stop-color="#00aaab"/><stop offset="0.342" stop-color="#00aaab"/><stop offset="0.353" stop-color="#00aaab"/><stop offset="0.364" stop-color="#00aaab"/><stop offset="0.375" stop-color="#00aaab"/><stop offset="0.387" stop-color="#00aaab"/><stop offset="0.398" stop-color="#00a8af"/><stop offset="0.409" stop-color="#00a8af"/><stop offset="0.420" stop-color="#00a8af"/><stop offset="0.432" stop-color="#00a8af"/><stop offset="0.443" stop-color="#00a8af"/><stop offset="0.454" stop-color="#00a8af"/><stop offset="0.465" stop-color="#00a8af"/><stop offset="0.477" stop-color="#00a8af"/><stop offset="0.488" stop-color="#00a8af"/><stop offset="0.499" stop-color="#00a8af"/><stop offset="0.510" stop-color="#00a7b3"/><stop offset="0.522" stop-color="#00a7b3"/><stop offset="0.533" stop-color="#00a6b7"/><stop offset="0.544" stop-color="#00a6b7"/><stop offset="0.555" stop-color="#00a4bb"/><stop offset="0.567" stop-color="#00a3bf"/><stop offset="0.578" stop-color="#00a2c3"/><stop offset="0.589" stop-color="#00a0c7"/><stop offset="0.600" stop-color="#009fcb"/><stop offset="0.611" stop-color="#009ecf"/><stop offset="0.623" stop-color="#009cd3"/><stop offset="0.634" stop-color="#009cd3"/><stop offset="0.645" stop-color="#009bd7"/><stop offset="0.656" stop-color="#009bd7"/><stop offset="0.668" stop-color="#009bd7"/><stop offset="0.679" stop-color="#009bd7"/><stop offset="0.690" stop-color="#009bd7"/><stop offset="0.701" stop-color="#009bd7"/><stop offset="0.713" stop-color="#009adb"/><stop offset="0.724" stop-color="#009adb"/><stop offset="0.735" stop-color="#009adb"/><stop offset="0.746" stop-color="#0085dd"/><stop offset="0.758" stop-color="#009fcb"/><stop offset="0.769" stop-color="#0090dd"/><stop offset="0.780" stop-color="#009bd7"/><stop offset="0.791" stop-color="#0098dd"/><stop offset="0.803" stop-color="#0092dd"/><stop offset="0.814" stop-color="#009fcb"/><stop offset="0.825" stop-color="#0082dd"/><stop offset="0.836" stop-color="#007add"/><stop offset="0.848" stop-color="#004bdd"/><stop offset="0.859" stop-color="#0000dd"/><stop offset="0.870" stop-color="#0000d1"/><stop offset="0.881" stop-color="#0000c9"/><stop offset="0.892" stop-color="#0000c1"/><stop offset="0.904" stop-color="#0000b9"/><stop offset="0.915" stop-color="#0000b1"/><stop offset="0.926" stop-color="#0300aa"/><stop offset="0.937" stop-color="#1800a7"/><stop offset="0.949" stop-color="#3800a3"/><stop offset="0.960" stop-color="#58009f"/><stop offset="0.971" stop-color="#63009e"/><stop offset="0.982" stop-color="#6d009c"/><stop offset="0.994" stop-color="#78009b"/></linearGradient></defs><rect x="48.20" y="28.20" width="266.90" height="17.51" fill="url(#g1)"/><rect x="48.20" y="44.91" width="266.90" height="17.51" fill="url(#g2)"/><rect x="48.20" y="61.62" width="266.90" height="17.51" fill="url(#g3)"/><rect x="48.20" y="78.33" width="266.90" height="17.51" fill="url(#g4)"/><rect x="48.20" y="95.04" width="266.90" height="17.51" fill="url(#g5)"/><rect x="48.20" y="111.75" width="266.90" height="17.51" fill="url(#g6)"/><rect x="48.20" y="128.45" width="266.90" height="17.51" fill="url(#g7)"/><rect x="48.20" y="145.16" width="266.90" height="17.51" fill="url(#g8)"/><rect x="48.20" y="161.87" width="266.90" height="17.51" fill="url(#g9)"/><rect x="48.20" y="178.58" width="266.90" height="17.51" fill="url(#g10)"/><rect x="48.20" y="195.29" width="266.90" height="17.51" fill="url(#g11)"/><rect x="48.20" y="212.00" width="266.90" height="17.51" fill="url(#g12)"/><rect x="48.20" y="228.71" width="266.90" height="17.51" fill="url(#g13)"/><rect x="48.20" y="245.42" width="266.90" height="17.51" fill="url(#g14)"/><rect x="48.20" y="262.13" width="266.90" height="17.51" fill="url(#g15)"/><rect x="48.20" y="278.84" width="266.90" height="17.51" fill="url(#g16)"/><rect x="48.20" y="295.55" width="266.90" height="17.51" fill="url(#g17)"/><rect x="48.20" y="312.25" width="266.90" height="17.51" fill="url(#g18)"/><rect x="48.20" y="328.96" width="266.90" height="17.51" fill="url(#g19)"/><rect x="48.20" y="345.67" width="266.90" height="17.51" fill="url(#g20)"/><rect x="48.20" y="362.38" width="266.90" height="33.42" fill="url(#g21)"/><rect x="328.20" y="28.20" width="266.90" height="34.22" fill="url(#g22)"/><rect x="328.20" y="61.62" width="266.90" height="17.51" fill="url(#g23)"/><rect x="328.20" y="78.33" width="266.90" height="17.51" fill="url(#g24)"/><rect x="328.20" y="95.04" width="266.90" height="17.51" fill="url(#g25)"/><rect x="328.20" y="111.75" width="266.90" height="17.51" fill="url(#g26)"/><rect x="328.20" y="128.45" width="266.90" height="17.51" fill="url(#g27)"/><rect x="328.20" y="145.16" width="266.90" height="17.51" fill="url(#g28)"/><rect x="328.20" y="161.87" width="266.90" height="17.51" fill="url(#g29)"/><rect x="328.20" y="178.58" width="266.90" height="17.51" fill="url(#g30)"/><rect x="328.20" y="195.29" width="266.90" height="17.51" fill="url(#g31)"/><rect x="328.20" y="212.00" width="266.90" height="17.51" fill="url(#g32)"/><rect x="328.20" y="228.71" width="266.90" height="17.51" fill="url(#g33)"/><rect x="328.20" y="245.42" width="266.90" height="17.51" fill="url(#g34)"/><rect x="328.20" y="262.13" width="266.90" height="17.51" fill="url(#g35)"/><rect x="328.20" y="278.84" width="266.90" height="17.51" fill="url(#g36)"/><rect x="328.20" y="295.55" width="266.90" height="17.51" fill="url(#g37)"/><rect x="328.20" y="312.25" width="266.90" height="17.51" fill="url(#g38)"/><rect x="328.20" y="328.96" width="266.90" height="17.51" fill="url(#g39)"/><rect x="328.20" y="345.67" width="266.90" height="17.51" fill="url(#g40)"/><rect x="328.20" y="362.38" width="266.90" height="17.51" fill="url(#g41)"/><rect x="328.20" y="379.09" width="266.90" height="16.71" fill="url(#g42)"/><rect x="58.40" y="44.36" width="256.70" height="1.1" fill="url(#g43)"/><rect x="58.40" y="77.78" width="256.70" height="1.1" fill="url(#g44)"/><rect x="58.40" y="345.12" width="256.70" height="1.1" fill="url(#g45)"/><rect x="58.40" y="361.83" width="256.70" height="1.1" fill="url(#g46)"/><rect x="338.40" y="61.07" width="256.60" height="1.1" fill="url(#g47)"/><rect x="338.40" y="77.78" width="256.60" height="1.1" fill="url(#g48)"/><rect x="338.40" y="345.12" width="256.60" height="1.1" fill="url(#g49)"/><rect x="338.40" y="378.54" width="256.60" height="1.1" fill="url(#g50)"/><rect x="57.90" y="28.20" width="1.0" height="17.01" fill="#2300a6"/><rect x="57.90" y="362.38" width="1.0" height="17.01" fill="#0000b9"/><rect x="57.90" y="379.09" width="1.0" height="17.01" fill="#0000b9"/><rect x="338.10" y="28.20" width="1.0" height="17.01" fill="#0054dd"/><rect x="338.10" y="44.91" width="1.0" height="17.01" fill="#0054dd"/><rect x="338.10" y="379.09" width="1.0" height="17.01" fill="#005ddd"/><rect x="151.80" y="328.96" width="1.00" height="16.71" fill="#bcff00"/><rect x="160.90" y="278.84" width="1.00" height="16.71" fill="#009d1d"/><rect x="157.10" y="295.55" width="0.80" height="16.71" fill="#009a00"/><rect x="160.10" y="312.25" width="0.80" height="16.71" fill="#009f00"/><rect x="427.90" y="278.84" width="1.00" height="16.71" fill="#00ff00"/><rect x="427.90" y="245.42" width="1.00" height="16.71" fill="#49ff00"/><rect x="437.00" y="295.55" width="1.00" height="16.71" fill="#49ff00"/><rect x="441.00" y="278.84" width="0.80" height="16.71" fill="#00dc00"/><rect x="435.10" y="212.00" width="1.00" height="16.71" fill="#75ff00"/><rect x="433.10" y="178.58" width="0.80" height="16.71" fill="#00ff00"/><rect x="440.60" y="312.25" width="0.80" height="16.71" fill="#00ff00"/><rect x="430.60" y="228.71" width="0.80" height="16.71" fill="#00bc00"/><rect x="48.2" y="28.20" width="0.9" height="367.60" fill="#00d000"/><rect x="48.5" y="36.10" width="0.9" height="0.9" fill="#e8e8e8"/><rect x="48.5" y="52.81" width="0.9" height="0.9" fill="#e8e8e8"/><rect x="48.5" y="69.52" width="0.9" height="0.9" fill="#e8e8e8"/><rect x="48.5" y="86.23" width="0.9" height="0.9" fill="#e8e8e8"/><rect x="48.5" y="102.94" width="0.9" height="0.9" fill="#e8e8e8"/><rect x="48.5" y="119.65" width="0.9" height="0.9" fill="#e8e8e8"/><rect x="48.5" y="136.36" width="0.9" height="0.9" fill="#e8e8e8"/><rect x="48.5" y="153.07" width="0.9" height="0.9" fill="#e8e8e8"/><rect x="48.5" y="169.78" width="0.9" height="0.9" fill="#e8e8e8"/><rect x="48.5" y="186.49" width="0.9" height="0.9" fill="#e8e8e8"/><rect x="48.5" y="203.20" width="0.9" height="0.9" fill="#e8e8e8"/><rect x="48.5" y="219.90" width="0.9" height="0.9" fill="#e8e8e8"/><rect x="48.5" y="236.61" width="0.9" height="0.9" fill="#e8e8e8"/><rect x="48.5" y="253.32" width="0.9" height="0.9" fill="#e8e8e8"/><rect x="48.5" y="270.03" width="0.9" height="0.9" fill="#e8e8e8"/><rect x="48.5" y="286.74" width="0.9" height="0.9" fill="#e8e8e8"/><rect x="48.5" y="303.45" width="0.9" height="0.9" fill="#e8e8e8"/><rect x="48.5" y="320.16" width="0.9" height="0.9" fill="#e8e8e8"/><rect x="48.5" y="336.87" width="0.9" height="0.9" fill="#e8e8e8"/><rect x="48.5" y="353.58" width="0.9" height="0.9" fill="#e8e8e8"/><rect x="48.5" y="370.29" width="0.9" height="0.9" fill="#e8e8e8"/><rect x="48.5" y="387.00" width="0.9" height="0.9" fill="#e8e8e8"/><rect x="328.2" y="61.62" width="0.9" height="284.05" fill="#00d000"/><rect x="49.1" y="28.20" width="0.6" height="367.60" fill="#5a0066"/><rect x="329.1" y="61.62" width="0.6" height="284.05" fill="#5a0066"/><rect x="47.8" y="166.5" width="3.3" height="146" fill="#fff"/><polyline points="49.5,311.0 57.8,311.0 58.2,295.5 62.0,296.5 70.0,298.0 73.5,300.0 76.5,290.5 80.0,290.0 83.2,286.5 85.0,281.0 88.7,276.0 92.0,262.0 94.5,253.0 97.5,250.0 100.0,245.0 101.5,237.0 103.5,228.0 105.0,224.0" fill="none" stroke="#fff" stroke-width="3.40" stroke-linejoin="round" stroke-linecap="round" clip-path="url(#cL)" /><polyline points="105.0,223.5 107.0,221.5 109.0,219.1 111.0,217.2 113.0,215.6 115.0,215.0 117.0,214.4 119.0,213.3 121.0,213.0 123.0,212.7 125.0,212.3 127.0,212.2 129.0,211.6 131.0,211.0 133.0,210.0 135.0,209.0 137.0,208.0 139.0,207.0 141.0,205.9 143.0,204.7 145.0,203.6 147.0,202.4 149.0,201.1 151.0,199.7 153.0,198.1 155.0,196.5 157.0,194.9 159.0,193.3 161.0,191.5 163.0,189.5 165.0,187.5 167.0,185.5 169.0,183.8 171.0,182.8 173.0,180.9 175.0,179.9 177.0,178.7 179.0,177.4 181.0,176.4 183.0,175.7 185.0,175.5 187.0,174.9 189.0,176.6 191.0,177.5 193.0,177.6 195.0,179.9 197.0,181.6 199.0,182.9 201.0,184.9 203.0,186.1 205.0,188.0 207.0,191.0 209.0,193.3 211.0,195.2 213.0,197.3 215.0,198.3 217.0,199.9 219.0,201.1 221.0,202.2 223.0,203.8 225.0,205.5 227.0,207.1 229.0,208.8 231.0,211.3 233.0,212.6 235.0,214.0 237.0,215.6 239.0,217.0 241.0,218.8 243.0,220.5 245.0,222.0 247.0,224.6" fill="none" stroke="#fff" stroke-width="2.35" stroke-linejoin="round" stroke-linecap="round" clip-path="url(#cL)" /><polyline points="105.0,224.7 107.0,222.4 109.0,220.1 111.0,217.4 113.0,215.8 115.0,215.0 117.0,214.8 119.0,214.9 121.0,214.4 123.0,214.7 125.0,213.9 127.0,213.9 129.0,213.8 131.0,213.1 133.0,211.7 135.0,210.4 137.0,208.8 139.0,207.0 141.0,206.0 143.0,204.7 145.0,203.7 147.0,204.2 149.0,202.7 151.0,201.4 153.0,199.9 155.0,197.6 157.0,196.3 159.0,194.9 161.0,193.3 163.0,191.4 165.0,189.1 167.0,187.3 169.0,185.1 171.0,182.8 173.0,182.1 175.0,180.5 177.0,179.6 179.0,179.0 181.0,178.2 183.0,177.5 185.0,176.3 187.0,175.4 189.0,175.8 191.0,176.9 193.0,177.6 195.0,178.9 197.0,180.4 199.0,182.3 201.0,184.6 203.0,186.3 205.0,189.3 207.0,190.7 209.0,193.9 211.0,196.1 213.0,197.6 215.0,199.6 217.0,200.6 219.0,201.3 221.0,203.6 223.0,205.2 225.0,207.0 227.0,208.7 229.0,209.6 231.0,210.9 233.0,213.0 235.0,214.9 237.0,217.2 239.0,219.5 241.0,220.4 243.0,222.0 245.0,222.9 247.0,224.4" fill="none" stroke="#fff" stroke-width="2.35" stroke-linejoin="round" stroke-linecap="round" clip-path="url(#cL)" /><polyline points="105.0,224.1 107.0,223.3 109.0,220.9 111.0,218.3 113.0,217.2 115.0,216.2 117.0,214.4 119.0,214.7 121.0,214.4 123.0,214.5 125.0,214.8 127.0,214.5 129.0,214.2 131.0,213.5 133.0,212.3 135.0,210.6 137.0,210.3 139.0,209.2 141.0,208.6 143.0,207.7 145.0,205.7 147.0,204.5 149.0,203.3 151.0,201.8 153.0,200.4 155.0,199.0 157.0,197.7 159.0,196.6 161.0,195.1 163.0,193.0 165.0,190.1 167.0,188.4 169.0,186.8 171.0,185.3 173.0,184.8 175.0,183.4 177.0,182.0 179.0,181.4 181.0,180.1 183.0,179.6 185.0,178.0 187.0,177.9 189.0,179.0 191.0,179.4 193.0,181.4 195.0,182.4 197.0,183.5 199.0,184.2 201.0,185.5 203.0,186.3 205.0,189.1 207.0,192.4 209.0,193.8 211.0,195.3 213.0,197.1 215.0,198.4 217.0,200.6 219.0,203.2 221.0,204.5 223.0,205.7 225.0,207.5 227.0,208.7 229.0,210.0 231.0,212.4 233.0,214.1 235.0,216.2 237.0,218.2 239.0,219.4 241.0,220.7 243.0,221.8 245.0,223.7 247.0,225.1" fill="none" stroke="#fff" stroke-width="2.35" stroke-linejoin="round" stroke-linecap="round" clip-path="url(#cL)" /><polyline points="105.0,224.5 107.0,223.7 109.0,221.0 111.0,219.1 113.0,217.8 115.0,217.9 117.0,217.4 119.0,217.1 121.0,216.8 123.0,215.8 125.0,215.5 127.0,214.2 129.0,212.8 131.0,212.9 133.0,212.7 135.0,212.4 137.0,212.2 139.0,211.0 141.0,209.7 143.0,208.4 145.0,207.5 147.0,206.5 149.0,204.8 151.0,203.6 153.0,202.3 155.0,200.9 157.0,199.0 159.0,197.3 161.0,195.2 163.0,193.8 165.0,192.0 167.0,190.0 169.0,188.5 171.0,186.0 173.0,185.8 175.0,185.1 177.0,183.5 179.0,183.2 181.0,181.8 183.0,179.3 185.0,178.7 187.0,178.2 189.0,178.7 191.0,180.0 193.0,180.4 195.0,180.9 197.0,183.1 199.0,185.4 201.0,187.3 203.0,189.7 205.0,191.4 207.0,193.4 209.0,195.1 211.0,197.1 213.0,199.5 215.0,201.8 217.0,204.5 219.0,205.7 221.0,207.3 223.0,208.7 225.0,210.2 227.0,211.8 229.0,213.9 231.0,215.8 233.0,217.5 235.0,218.8 237.0,219.6 239.0,221.6 241.0,223.5 243.0,225.4 245.0,226.9 247.0,227.1" fill="none" stroke="#fff" stroke-width="2.35" stroke-linejoin="round" stroke-linecap="round" clip-path="url(#cL)" /><polyline points="105.0,224.3 107.0,224.1 109.0,221.7 111.0,219.9 113.0,219.0 115.0,218.9 117.0,219.5 119.0,218.6 121.0,218.5 123.0,218.3 125.0,217.6 127.0,217.3 129.0,217.7 131.0,217.8 133.0,216.6 135.0,215.9 137.0,214.2 139.0,212.5 141.0,210.8 143.0,209.0 145.0,208.6 147.0,206.7 149.0,206.2 151.0,205.8 153.0,203.9 155.0,203.0 157.0,201.9 159.0,199.8 161.0,197.9 163.0,195.5 165.0,193.1 167.0,192.1 169.0,191.1 171.0,189.7 173.0,188.0 175.0,185.7 177.0,184.0 179.0,183.1 181.0,182.6 183.0,182.0 185.0,180.9 187.0,180.7 189.0,181.2 191.0,181.5 193.0,182.3 195.0,183.6 197.0,185.5 199.0,187.3 201.0,188.2 203.0,189.3 205.0,190.7 207.0,192.5 209.0,195.9 211.0,198.2 213.0,200.8 215.0,202.5 217.0,203.9 219.0,205.2 221.0,207.4 223.0,210.9 225.0,213.1 227.0,214.7 229.0,215.5 231.0,216.2 233.0,217.6 235.0,219.1 237.0,221.2 239.0,222.3 241.0,224.4 243.0,226.9 245.0,228.6 247.0,230.2" fill="none" stroke="#fff" stroke-width="2.35" stroke-linejoin="round" stroke-linecap="round" clip-path="url(#cL)" /><polyline points="105.0,224.6 107.0,225.1 109.0,223.8 111.0,222.7 113.0,220.6 115.0,220.1 117.0,219.8 119.0,219.3 121.0,219.8 123.0,220.5 125.0,220.5 127.0,219.9 129.0,219.6 131.0,219.0 133.0,218.0 135.0,216.6 137.0,216.4 139.0,215.3 141.0,214.3 143.0,213.4 145.0,211.3 147.0,209.1 149.0,208.0 151.0,206.7 153.0,206.0 155.0,204.8 157.0,202.5 159.0,200.5 161.0,198.2 163.0,197.4 165.0,195.3 167.0,194.9 169.0,193.7 171.0,191.4 173.0,190.2 175.0,188.1 177.0,186.4 179.0,185.4 181.0,184.3 183.0,183.3 185.0,181.9 187.0,181.3 189.0,181.9 191.0,182.7 193.0,182.9 195.0,183.7 197.0,185.2 199.0,186.2 201.0,188.9 203.0,190.5 205.0,193.8 207.0,196.3 209.0,198.5 211.0,200.9 213.0,202.0 215.0,204.5 217.0,206.3 219.0,208.6 221.0,210.9 223.0,212.2 225.0,214.2 227.0,215.6 229.0,217.6 231.0,219.3 233.0,220.9 235.0,221.8 237.0,223.2 239.0,224.6 241.0,225.4 243.0,227.6 245.0,229.0 247.0,230.1" fill="none" stroke="#fff" stroke-width="2.35" stroke-linejoin="round" stroke-linecap="round" clip-path="url(#cL)" /><polyline points="105.0,225.8 107.0,226.6 109.0,225.2 111.0,223.3 113.0,221.6 115.0,221.0 117.0,221.5 119.0,221.7 121.0,222.3 123.0,223.0 125.0,222.4 127.0,222.6 129.0,223.4 131.0,222.4 133.0,220.6 135.0,219.0 137.0,216.6 139.0,216.2 141.0,215.8 143.0,214.2 145.0,212.6 147.0,210.6 149.0,209.2 151.0,207.0 153.0,206.4 155.0,204.8 157.0,203.3 159.0,202.7 161.0,201.0 163.0,199.5 165.0,197.4 167.0,197.0 169.0,196.1 171.0,195.1 173.0,193.5 175.0,190.7 177.0,188.6 179.0,187.4 181.0,186.6 183.0,186.3 185.0,184.9 187.0,184.4 189.0,184.6 191.0,185.3 193.0,186.7 195.0,186.8 197.0,188.3 199.0,189.5 201.0,190.2 203.0,191.7 205.0,194.5 207.0,196.6 209.0,199.5 211.0,202.1 213.0,204.4 215.0,206.9 217.0,208.5 219.0,210.3 221.0,212.2 223.0,214.1 225.0,216.6 227.0,218.6 229.0,219.7 231.0,221.6 233.0,222.6 235.0,223.9 237.0,225.8 239.0,226.3 241.0,228.3 243.0,230.0 245.0,231.3 247.0,233.1" fill="none" stroke="#fff" stroke-width="2.35" stroke-linejoin="round" stroke-linecap="round" clip-path="url(#cL)" /><polyline points="105.0,225.9 107.0,228.3 109.0,226.4 111.0,225.0 113.0,224.3 115.0,223.6 117.0,223.9 119.0,224.3 121.0,224.3 123.0,225.2 125.0,224.9 127.0,224.8 129.0,225.1 131.0,224.6 133.0,223.8 135.0,222.1 137.0,220.9 139.0,220.0 141.0,218.9 143.0,217.9 145.0,215.4 147.0,213.6 149.0,211.5 151.0,208.9 153.0,208.4 155.0,206.1 157.0,204.4 159.0,203.9 161.0,203.0 163.0,202.3 165.0,201.7 167.0,201.5 169.0,200.5 171.0,199.2 173.0,197.3 175.0,194.4 177.0,191.8 179.0,190.7 181.0,189.7 183.0,189.1 185.0,188.7 187.0,187.6 189.0,187.4 191.0,187.6 193.0,187.4 195.0,188.1 197.0,190.1 199.0,191.4 201.0,193.1 203.0,194.0 205.0,195.7 207.0,198.6 209.0,200.9 211.0,203.9 213.0,206.2 215.0,208.1 217.0,210.2 219.0,212.0 221.0,213.9 223.0,216.1 225.0,218.9 227.0,221.0 229.0,223.3 231.0,225.0 233.0,226.5 235.0,226.9 237.0,228.4 239.0,230.0 241.0,231.3 243.0,234.4 245.0,236.0 247.0,237.0" fill="none" stroke="#fff" stroke-width="2.35" stroke-linejoin="round" stroke-linecap="round" clip-path="url(#cL)" /><polyline points="105.0,227.5 107.0,230.5 109.0,228.9 111.0,227.3 113.0,226.6 115.0,226.9 117.0,227.1 119.0,227.0 121.0,227.1 123.0,227.1 125.0,228.0 127.0,227.7 129.0,227.7 131.0,227.0 133.0,225.1 135.0,223.9 137.0,223.5 139.0,222.3 141.0,221.3 143.0,219.8 145.0,218.0 147.0,216.0 149.0,214.4 151.0,212.8 153.0,210.8 155.0,209.8 157.0,207.9 159.0,207.3 161.0,206.7 163.0,205.2 165.0,204.5 167.0,203.1 169.0,202.4 171.0,201.1 173.0,199.2 175.0,198.0 177.0,196.4 179.0,194.9 181.0,193.6 183.0,192.4 185.0,191.1 187.0,190.4 189.0,189.9 191.0,189.7 193.0,189.0 195.0,188.5 197.0,190.0 199.0,191.1 201.0,193.0 203.0,194.7 205.0,197.9 207.0,201.1 209.0,203.7 211.0,206.4 213.0,209.1 215.0,211.2 217.0,213.3 219.0,215.4 221.0,218.0 223.0,220.6 225.0,222.7 227.0,224.6 229.0,225.7 231.0,227.6 233.0,228.8 235.0,230.1 237.0,231.3 239.0,233.3 241.0,235.2 243.0,236.5 245.0,237.5 247.0,238.5" fill="none" stroke="#fff" stroke-width="2.35" stroke-linejoin="round" stroke-linecap="round" clip-path="url(#cL)" /><polyline points="151.8,210.0 152.5,75.0 153.3,210.0" fill="none" stroke="#fff" stroke-width="2.20" stroke-linejoin="round" stroke-linecap="round" clip-path="url(#cL)" /><polyline points="155.1,205.0 155.8,161.0 156.5,205.0" fill="none" stroke="#fff" stroke-width="1.50" stroke-linejoin="round" stroke-linecap="round" clip-path="url(#cL)" /><polyline points="157.8,205.0 158.5,165.0 159.2,205.0" fill="none" stroke="#fff" stroke-width="1.50" stroke-linejoin="round" stroke-linecap="round" clip-path="url(#cL)" /><polyline points="160.6,205.0 161.3,168.0 162.0,205.0" fill="none" stroke="#fff" stroke-width="1.50" stroke-linejoin="round" stroke-linecap="round" clip-path="url(#cL)" /><polyline points="246.2,233.1 246.6,128.0 247.0,233.5 246.9,233.4 247.3,132.0 247.8,233.8 247.8,233.8 248.2,200.0 248.6,234.2 248.8,234.2 249.2,215.0 249.6,234.6 249.7,234.6 250.1,190.0 250.5,235.0 250.6,235.0 251.0,150.0 251.4,235.5 251.6,235.5 252.0,134.0 252.4,235.9 252.6,235.9 253.0,131.0 253.4,236.4 253.6,236.4 254.0,128.0 254.4,236.8 254.6,236.8 255.0,126.0 255.4,237.3 255.6,237.3 256.0,133.0 256.4,237.7 256.6,237.7 257.0,160.0 257.4,238.2 257.4,238.1 257.8,175.0 258.2,238.5 258.2,238.5 258.6,128.0 259.1,238.9 258.9,238.8 259.4,125.0 259.8,239.2 259.8,239.2 260.2,124.0 260.6,239.6 260.6,239.5 261.0,126.0 261.4,240.0 261.4,239.9 261.8,132.0 262.2,240.3 262.2,240.3 262.6,165.0 263.1,240.7 262.9,240.6 263.4,185.0 263.8,241.0 263.8,241.0 264.2,200.0 264.6,241.4 264.8,241.4 265.2,178.0 265.6,241.8 265.8,241.9 266.2,172.0 266.6,242.3 266.6,242.2 267.0,170.0 267.4,242.7 267.4,242.6 267.8,176.0 268.2,243.0" fill="none" stroke="#fff" stroke-width="1.20" stroke-linejoin="round" stroke-linecap="round" clip-path="url(#cL)" /><polygon points="246,232 246.2,130 247,127 248,132 248.6,200 250.5,150 251.6,138 254.5,126 256.3,136 257,165 257.8,170 258.6,127 260.5,123 261.9,132 262.5,200 262,236 256,236 251,234" fill="#fff" clip-path="url(#cL)"/><polyline points="245.0,232.0 250.0,236.0 256.0,238.0 262.0,240.0 268.0,243.0" fill="none" stroke="#fff" stroke-width="3.00" stroke-linejoin="round" stroke-linecap="round" clip-path="url(#cL)" /><polyline points="267.0,240.0 268.2,248.7 272.3,253.8 277.4,259.0 280.5,264.0 283.6,270.0 286.6,275.3 290.7,281.5 294.8,285.6 297.9,290.7 301.0,294.8 307.0,296.8 316.0,297.0" fill="none" stroke="#fff" stroke-width="5.00" stroke-linejoin="round" stroke-linecap="round" clip-path="url(#cL)" /><rect x="328.0" y="166.5" width="3.0" height="146.5" fill="#fff"/><polyline points="329.5,311.7 338.3,311.7 338.3,293.5 342.0,294.0 346.0,296.0 350.0,296.5 354.0,297.0 356.0,290.0 358.5,286.0 362.0,282.0 365.0,277.0 367.0,272.0 370.0,262.0 373.0,250.0 376.0,240.0 379.0,232.0 382.0,222.0 384.0,210.0 386.0,205.0 388.0,202.0" fill="none" stroke="#fff" stroke-width="3.40" stroke-linejoin="round" stroke-linecap="round" clip-path="url(#cR)" /><polyline points="360.3,287.5 363.8,283.5 366.8,278.5 368.8,273.5 371.8,263.5 374.8,251.5 377.8,241.5 380.8,233.5 383.8,223.5 385.8,211.5 387.8,206.5 389.8,203.5" fill="none" stroke="#fff" stroke-width="1.60" stroke-linejoin="round" stroke-linecap="round" clip-path="url(#cR)" /><polyline points="357.3,285.5 360.8,281.5 363.8,276.5 365.8,271.5 368.8,261.5 371.8,249.5 374.8,239.5 377.8,231.5 380.8,221.5 382.8,209.5 384.8,204.5 386.8,201.5" fill="none" stroke="#fff" stroke-width="1.60" stroke-linejoin="round" stroke-linecap="round" clip-path="url(#cR)" /><polyline points="386.0,207.0 388.0,203.9 390.0,200.4 392.0,200.4 394.0,198.4 396.0,197.6 398.0,196.8 400.0,196.3 402.0,197.4 404.0,197.2 406.0,196.8 408.0,197.0 410.0,197.0 412.0,196.5 414.0,196.0 416.0,195.5 418.0,195.0 420.0,194.5 422.0,193.6 424.0,193.2 426.0,193.9 428.0,192.5 430.0,190.8 432.0,189.3 434.0,188.2 436.0,187.5 438.0,186.7 440.0,185.9 442.0,182.6 444.0,179.2 446.0,175.9 448.0,175.0 450.0,173.9 452.0,173.3 454.0,171.9 456.0,171.2 458.0,170.9 460.0,170.7 462.0,170.7 464.0,169.9 466.0,169.2 468.0,167.7 470.0,164.9 472.0,162.9 474.0,160.5 476.0,161.5 478.0,162.8 480.0,163.5 482.0,164.6 484.0,166.5 486.0,168.9 488.0,171.6 490.0,175.0 492.0,177.6 494.0,179.9 496.0,182.3 498.0,183.8 500.0,185.5 502.0,187.1 504.0,188.9 506.0,190.3 508.0,192.4 510.0,194.7 512.0,195.4 514.0,196.7 516.0,197.8 518.0,199.1 520.0,199.6 522.0,200.3 524.0,201.3 526.0,202.2" fill="none" stroke="#fff" stroke-width="2.50" stroke-linejoin="round" stroke-linecap="round" clip-path="url(#cR)" /><polyline points="386.0,206.4 388.0,202.6 390.0,198.7 392.0,198.4 394.0,197.6 396.0,197.1 398.0,197.4 400.0,197.2 402.0,198.5 404.0,198.8 406.0,198.2 408.0,197.9 410.0,197.1 412.0,196.5 414.0,196.5 416.0,196.0 418.0,195.2 420.0,195.4 422.0,194.2 424.0,193.7 426.0,193.5 428.0,192.6 430.0,191.7 432.0,191.2 434.0,190.4 436.0,189.5 438.0,188.8 440.0,186.9 442.0,183.4 444.0,179.9 446.0,176.5 448.0,175.5 450.0,175.2 452.0,174.3 454.0,172.7 456.0,171.9 458.0,170.9 460.0,170.7 462.0,170.4 464.0,169.3 466.0,167.4 468.0,165.8 470.0,164.0 472.0,162.2 474.0,161.0 476.0,163.0 478.0,164.1 480.0,165.1 482.0,165.7 484.0,166.9 486.0,169.5 488.0,172.2 490.0,175.1 492.0,177.1 494.0,179.2 496.0,181.3 498.0,182.9 500.0,185.0 502.0,186.6 504.0,188.2 506.0,190.6 508.0,192.1 510.0,193.8 512.0,195.4 514.0,197.1 516.0,199.1 518.0,200.3 520.0,201.2 522.0,201.8 524.0,202.4 526.0,203.4" fill="none" stroke="#fff" stroke-width="2.50" stroke-linejoin="round" stroke-linecap="round" clip-path="url(#cR)" /><polyline points="386.0,206.5 388.0,204.8 390.0,201.9 392.0,201.5 394.0,201.1 396.0,199.9 398.0,199.7 400.0,199.3 402.0,198.8 404.0,198.7 406.0,198.3 408.0,198.6 410.0,199.8 412.0,199.6 414.0,199.4 416.0,198.5 418.0,197.8 420.0,198.0 422.0,197.1 424.0,196.7 426.0,195.4 428.0,194.4 430.0,192.8 432.0,191.7 434.0,190.9 436.0,189.6 438.0,188.9 440.0,188.1 442.0,184.6 444.0,181.1 446.0,178.0 448.0,176.4 450.0,175.5 452.0,174.7 454.0,173.4 456.0,173.0 458.0,172.9 460.0,171.8 462.0,171.9 464.0,169.9 466.0,168.3 468.0,167.8 470.0,166.7 472.0,165.2 474.0,163.3 476.0,163.7 478.0,164.2 480.0,166.1 482.0,166.6 484.0,168.8 486.0,171.4 488.0,174.0 490.0,177.3 492.0,179.3 494.0,181.5 496.0,183.3 498.0,185.3 500.0,187.8 502.0,189.3 504.0,189.9 506.0,191.9 508.0,193.7 510.0,195.6 512.0,197.9 514.0,199.4 516.0,200.4 518.0,201.5 520.0,202.4 522.0,203.5 524.0,204.2 526.0,206.0" fill="none" stroke="#fff" stroke-width="2.50" stroke-linejoin="round" stroke-linecap="round" clip-path="url(#cR)" /><polyline points="386.0,206.7 388.0,204.8 390.0,202.7 392.0,202.6 394.0,202.2 396.0,201.2 398.0,201.1 400.0,200.6 402.0,200.2 404.0,200.3 406.0,200.2 408.0,200.3 410.0,200.3 412.0,199.9 414.0,199.8 416.0,199.4 418.0,199.5 420.0,199.7 422.0,198.5 424.0,198.4 426.0,196.8 428.0,195.7 430.0,194.4 432.0,193.2 434.0,193.1 436.0,191.1 438.0,189.8 440.0,188.3 442.0,184.9 444.0,182.7 446.0,179.9 448.0,178.8 450.0,177.6 452.0,176.3 454.0,175.6 456.0,173.9 458.0,173.5 460.0,172.7 462.0,172.3 464.0,171.3 466.0,169.0 468.0,167.8 470.0,165.4 472.0,163.4 474.0,161.4 476.0,162.4 478.0,164.2 480.0,166.1 482.0,167.9 484.0,170.2 486.0,172.7 488.0,175.0 490.0,177.9 492.0,180.6 494.0,182.6 496.0,184.6 498.0,186.5 500.0,188.2 502.0,189.8 504.0,192.0 506.0,193.7 508.0,195.6 510.0,197.3 512.0,198.6 514.0,200.3 516.0,201.5 518.0,204.0 520.0,205.2 522.0,206.8 524.0,208.5 526.0,208.6" fill="none" stroke="#fff" stroke-width="2.50" stroke-linejoin="round" stroke-linecap="round" clip-path="url(#cR)" /><polyline points="386.0,206.6 388.0,203.8 390.0,202.2 392.0,202.3 394.0,201.8 396.0,202.2 398.0,201.9 400.0,201.4 402.0,201.0 404.0,200.6 406.0,199.7 408.0,199.9 410.0,201.1 412.0,200.7 414.0,201.3 416.0,200.7 418.0,199.8 420.0,199.6 422.0,198.4 424.0,198.2 426.0,197.8 428.0,197.0 430.0,196.2 432.0,194.4 434.0,192.9 436.0,191.6 438.0,190.7 440.0,189.9 442.0,187.3 444.0,183.6 446.0,180.1 448.0,179.4 450.0,177.5 452.0,176.8 454.0,175.7 456.0,174.1 458.0,173.9 460.0,174.6 462.0,174.7 464.0,173.1 466.0,171.0 468.0,168.3 470.0,166.5 472.0,164.9 474.0,163.3 476.0,165.0 478.0,166.1 480.0,167.5 482.0,168.6 484.0,169.6 486.0,171.7 488.0,173.7 490.0,177.1 492.0,180.2 494.0,182.7 496.0,186.4 498.0,188.7 500.0,190.6 502.0,192.6 504.0,194.2 506.0,195.3 508.0,197.2 510.0,198.6 512.0,199.1 514.0,201.5 516.0,202.4 518.0,203.6 520.0,205.3 522.0,205.9 524.0,208.1 526.0,209.9" fill="none" stroke="#fff" stroke-width="2.50" stroke-linejoin="round" stroke-linecap="round" clip-path="url(#cR)" /><polyline points="386.0,207.9 388.0,206.2 390.0,205.0 392.0,205.0 394.0,204.8 396.0,204.6 398.0,205.4 400.0,205.8 402.0,205.0 404.0,205.3 406.0,205.4 408.0,204.7 410.0,205.3 412.0,204.7 414.0,203.1 416.0,202.3 418.0,201.6 420.0,201.6 422.0,200.7 424.0,199.7 426.0,198.5 428.0,197.2 430.0,196.1 432.0,194.9 434.0,194.5 436.0,193.4 438.0,192.6 440.0,191.6 442.0,188.2 444.0,185.1 446.0,181.8 448.0,180.9 450.0,179.3 452.0,178.7 454.0,177.8 456.0,176.4 458.0,176.1 460.0,174.8 462.0,174.3 464.0,172.7 466.0,171.6 468.0,169.9 470.0,167.3 472.0,165.7 474.0,162.8 476.0,164.3 478.0,166.8 480.0,168.5 482.0,170.0 484.0,171.7 486.0,174.7 488.0,177.3 490.0,180.5 492.0,183.9 494.0,186.3 496.0,188.9 498.0,191.1 500.0,193.0 502.0,194.2 504.0,195.4 506.0,196.8 508.0,198.6 510.0,199.9 512.0,201.7 514.0,203.8 516.0,206.2 518.0,207.8 520.0,209.2 522.0,210.4 524.0,211.1 526.0,213.1" fill="none" stroke="#fff" stroke-width="2.50" stroke-linejoin="round" stroke-linecap="round" clip-path="url(#cR)" /><polyline points="386.0,208.1 388.0,207.7 390.0,207.0 392.0,207.0 394.0,207.0 396.0,206.9 398.0,206.0 400.0,205.2 402.0,205.9 404.0,205.0 406.0,205.4 408.0,205.8 410.0,204.9 412.0,205.0 414.0,204.7 416.0,204.3 418.0,204.0 420.0,203.2 422.0,202.2 424.0,201.0 426.0,199.8 428.0,199.7 430.0,199.0 432.0,198.2 434.0,196.8 436.0,195.7 438.0,194.4 440.0,193.1 442.0,191.0 444.0,187.8 446.0,184.4 448.0,183.2 450.0,181.0 452.0,179.9 454.0,178.7 456.0,177.3 458.0,176.6 460.0,175.5 462.0,175.1 464.0,174.0 466.0,173.4 468.0,172.1 470.0,170.4 472.0,168.2 474.0,166.3 476.0,167.5 478.0,169.0 480.0,171.2 482.0,172.3 484.0,173.8 486.0,176.0 488.0,177.5 490.0,179.9 492.0,183.7 494.0,186.3 496.0,188.4 498.0,191.3 500.0,193.5 502.0,195.3 504.0,197.6 506.0,199.2 508.0,200.8 510.0,203.2 512.0,205.6 514.0,207.8 516.0,209.8 518.0,211.7 520.0,213.1 522.0,213.5 524.0,214.5 526.0,215.6" fill="none" stroke="#fff" stroke-width="2.50" stroke-linejoin="round" stroke-linecap="round" clip-path="url(#cR)" /><polyline points="386.0,209.8 388.0,210.6 390.0,210.6 392.0,210.4 394.0,209.3 396.0,208.6 398.0,207.9 400.0,207.4 402.0,208.1 404.0,208.6 406.0,208.4 408.0,208.1 410.0,208.5 412.0,207.5 414.0,206.9 416.0,207.1 418.0,206.1 420.0,205.7 422.0,205.5 424.0,204.2 426.0,202.8 428.0,202.2 430.0,201.2 432.0,199.6 434.0,198.4 436.0,196.8 438.0,195.9 440.0,194.3 442.0,192.0 444.0,189.3 446.0,185.5 448.0,184.9 450.0,183.5 452.0,182.8 454.0,181.8 456.0,180.4 458.0,179.1 460.0,178.1 462.0,177.5 464.0,176.7 466.0,175.5 468.0,174.2 470.0,173.0 472.0,170.9 474.0,168.7 476.0,169.1 478.0,169.2 480.0,170.9 482.0,172.4 484.0,175.3 486.0,178.8 488.0,181.7 490.0,185.2 492.0,187.4 494.0,189.4 496.0,191.0 498.0,192.9 500.0,195.0 502.0,197.1 504.0,199.8 506.0,201.2 508.0,203.5 510.0,205.3 512.0,206.5 514.0,209.2 516.0,210.8 518.0,213.2 520.0,214.2 522.0,215.9 524.0,217.3 526.0,218.9" fill="none" stroke="#fff" stroke-width="2.50" stroke-linejoin="round" stroke-linecap="round" clip-path="url(#cR)" /><polyline points="386.0,210.5 388.0,211.2 390.0,212.0 392.0,212.3 394.0,212.3 396.0,212.3 398.0,211.8 400.0,211.5 402.0,212.0 404.0,211.7 406.0,211.3 408.0,211.0 410.0,210.7 412.0,210.4 414.0,209.4 416.0,208.8 418.0,209.0 420.0,208.5 422.0,208.1 424.0,207.2 426.0,206.1 428.0,204.3 430.0,203.2 432.0,201.0 434.0,199.1 436.0,197.3 438.0,195.3 440.0,193.2 442.0,190.6 444.0,187.9 446.0,185.6 448.0,185.2 450.0,185.2 452.0,184.0 454.0,182.5 456.0,181.7 458.0,180.0 460.0,179.7 462.0,179.5 464.0,177.8 466.0,176.0 468.0,174.1 470.0,172.1 472.0,170.8 474.0,169.2 476.0,170.6 478.0,171.9 480.0,173.2 482.0,174.7 484.0,177.3 486.0,180.2 488.0,182.1 490.0,185.0 492.0,187.8 494.0,189.6 496.0,191.8 498.0,194.1 500.0,196.5 502.0,199.4 504.0,201.6 506.0,204.3 508.0,206.3 510.0,208.3 512.0,210.5 514.0,212.3 516.0,214.2 518.0,216.0 520.0,217.5 522.0,218.7 524.0,219.5 526.0,222.8" fill="none" stroke="#fff" stroke-width="2.50" stroke-linejoin="round" stroke-linecap="round" clip-path="url(#cR)" /><polyline points="376.0,245.0 380.0,236.0 383.0,229.0 386.0,228.0 389.0,231.0 393.0,227.0 400.0,221.3 410.0,215.8 420.0,212.6 430.0,205.0 440.0,196.0" fill="none" stroke="#fff" stroke-width="1.80" stroke-linejoin="round" stroke-linecap="round" clip-path="url(#cR)" /><polyline points="461.5,172.0 464.0,196.0 466.5,170.0" fill="none" stroke="#fff" stroke-width="2.60" stroke-linejoin="round" stroke-linecap="round" clip-path="url(#cR)" /><polyline points="435.6,188.0 436.5,76.0 437.5,188.0" fill="none" stroke="#fff" stroke-width="2.20" stroke-linejoin="round" stroke-linecap="round" clip-path="url(#cR)" /><polyline points="427.6,195.0 428.6,142.0 429.6,195.0" fill="none" stroke="#fff" stroke-width="2.00" stroke-linejoin="round" stroke-linecap="round" clip-path="url(#cR)" /><polyline points="440.6,185.0 441.5,160.0 442.4,185.0" fill="none" stroke="#fff" stroke-width="1.80" stroke-linejoin="round" stroke-linecap="round" clip-path="url(#cR)" /><polyline points="526.5,214.0 527.5,160.0" fill="none" stroke="#fff" stroke-width="1.40" stroke-linejoin="round" stroke-linecap="round" clip-path="url(#cR)" /><polyline points="531.0,214.0 531.5,165.0" fill="none" stroke="#fff" stroke-width="1.00" stroke-linejoin="round" stroke-linecap="round" clip-path="url(#cR)" /><polygon points="525.8,215 526.2,92 527.5,87 528.8,93 530,88 531.5,96 533,94 534.4,102 535.5,140 535,175 533.8,200 532,215" fill="#fff" clip-path="url(#cR)"/><polygon points="535.5,150 536,106 537.5,92 539,90 540.5,97 541.5,93 543,101 544.5,99 546,114 547.5,123 548.6,150 547,160 544,157 542,172 540.5,186 539,172 537.5,160" fill="#fff" clip-path="url(#cR)"/><polyline points="533.5,150.0 534.0,200.0" fill="none" stroke="#fff" stroke-width="1.20" stroke-linejoin="round" stroke-linecap="round" clip-path="url(#cR)" /><polyline points="545.5,150.0 546.0,185.0" fill="none" stroke="#fff" stroke-width="1.00" stroke-linejoin="round" stroke-linecap="round" clip-path="url(#cR)" /><polyline points="548.0,222.0 552.0,230.0 556.0,240.0 559.0,248.0 562.0,255.0 565.0,262.0 568.0,270.0 571.0,277.0 575.0,285.0 579.0,290.0 583.0,292.5 590.0,293.5 596.0,293.5" fill="none" stroke="#fff" stroke-width="5.50" stroke-linejoin="round" stroke-linecap="round" clip-path="url(#cR)" /><polyline points="548.5,150.0 548.5,225.0" fill="none" stroke="#fff" stroke-width="1.40" stroke-linejoin="round" stroke-linecap="round" clip-path="url(#cR)" /><line x1="69.30" x2="74.50" y1="283.20" y2="283.20" stroke="#fff" stroke-width="1.2"/><text x="78.80" y="288.20" fill="#fff" font-size="13.9">0</text><line x1="69.30" x2="74.50" y1="235.40" y2="235.40" stroke="#fff" stroke-width="1.2"/><text x="78.80" y="240.40" fill="#fff" font-size="13.9">5</text><line x1="69.30" x2="74.50" y1="187.60" y2="187.60" stroke="#fff" stroke-width="1.2"/><text x="78.80" y="192.60" fill="#fff" font-size="13.9">10</text><line x1="69.30" x2="74.50" y1="139.80" y2="139.80" stroke="#fff" stroke-width="1.2"/><text x="78.80" y="144.80" fill="#fff" font-size="13.9">15</text><line x1="69.30" x2="74.50" y1="92.00" y2="92.00" stroke="#fff" stroke-width="1.2"/><text x="78.80" y="97.00" fill="#fff" font-size="13.9">20</text><line x1="69.30" x2="74.50" y1="44.20" y2="44.20" stroke="#fff" stroke-width="1.2"/><text x="78.80" y="49.20" fill="#fff" font-size="13.9">25</text><line x1="349.30" x2="354.50" y1="283.20" y2="283.20" stroke="#fff" stroke-width="1.2"/><text x="358.80" y="288.20" fill="#fff" font-size="13.9">0</text><line x1="349.30" x2="354.50" y1="235.40" y2="235.40" stroke="#fff" stroke-width="1.2"/><text x="358.80" y="240.40" fill="#fff" font-size="13.9">5</text><line x1="349.30" x2="354.50" y1="187.60" y2="187.60" stroke="#fff" stroke-width="1.2"/><text x="358.80" y="192.60" fill="#fff" font-size="13.9">10</text><line x1="349.30" x2="354.50" y1="139.80" y2="139.80" stroke="#fff" stroke-width="1.2"/><text x="358.80" y="144.80" fill="#fff" font-size="13.9">15</text><line x1="349.30" x2="354.50" y1="92.00" y2="92.00" stroke="#fff" stroke-width="1.2"/><text x="358.80" y="97.00" fill="#fff" font-size="13.9">20</text><line x1="349.30" x2="354.50" y1="44.20" y2="44.20" stroke="#fff" stroke-width="1.2"/><text x="358.80" y="49.20" fill="#fff" font-size="13.9">25</text><text x="319.8" y="288.20" fill="#fff" font-size="13.9" text-anchor="end" clip-path="url(#cL)">0</text><text x="319.8" y="240.40" fill="#fff" font-size="13.9" text-anchor="end" clip-path="url(#cL)">5</text><text x="319.8" y="192.60" fill="#fff" font-size="13.9" text-anchor="end" clip-path="url(#cL)">10</text><text x="319.8" y="144.80" fill="#fff" font-size="13.9" text-anchor="end" clip-path="url(#cL)">15</text><text x="319.8" y="97.00" fill="#fff" font-size="13.9" text-anchor="end" clip-path="url(#cL)">20</text><text x="319.8" y="49.20" fill="#fff" font-size="13.9" text-anchor="end" clip-path="url(#cL)">25</text><g font-size="13.9" fill="#000"><text x="32.5" y="42.15" text-anchor="end">On</text><text x="612.1" y="42.15">On</text><text x="32.5" y="58.86" text-anchor="end">Y</text><text x="612.1" y="58.86">Y</text><text x="32.5" y="75.57" text-anchor="end">Off</text><text x="612.1" y="75.57">Off</text><text x="32.5" y="92.28" text-anchor="end">P</text><text x="612.1" y="92.28">P</text><text x="32.5" y="108.99" text-anchor="end">O</text><text x="612.1" y="108.99">O</text><text x="32.5" y="125.70" text-anchor="end">N</text><text x="612.1" y="125.70">N</text><text x="32.5" y="141.81" text-anchor="end">M</text><text x="612.1" y="141.81">M</text><text x="32.5" y="158.52" text-anchor="end">L</text><text x="612.1" y="158.52">L</text><text x="32.5" y="175.23" text-anchor="end">K</text><text x="612.1" y="175.23">K</text><text x="32.5" y="191.94" text-anchor="end">J</text><text x="612.1" y="191.94">J</text><text x="32.5" y="208.65" text-anchor="end">I</text><text x="612.1" y="208.65">I</text><text x="32.5" y="225.35" text-anchor="end">H</text><text x="612.1" y="225.35">H</text><text x="32.5" y="242.06" text-anchor="end">G</text><text x="612.1" y="242.06">G</text><text x="32.5" y="258.77" text-anchor="end">F</text><text x="612.1" y="258.77">F</text><text x="32.5" y="275.48" text-anchor="end">E</text><text x="612.1" y="275.48">E</text><text x="32.5" y="292.19" text-anchor="end">D</text><text x="612.1" y="292.19">D</text><text x="32.5" y="308.90" text-anchor="end">C</text><text x="612.1" y="308.90">C</text><text x="32.5" y="325.61" text-anchor="end">B</text><text x="612.1" y="325.61">B</text><text x="32.5" y="342.32" text-anchor="end">A</text><text x="612.1" y="342.32">A</text><text x="32.5" y="359.03" text-anchor="end">Off</text><text x="612.1" y="359.03">Off</text><text x="32.5" y="375.74" text-anchor="end">X</text><text x="612.1" y="375.74">X</text><text x="32.5" y="392.45" text-anchor="end">On</text><text x="612.1" y="392.45">On</text></g><g font-size="13.9" fill="#fff"><text x="39.6" y="288.20" text-anchor="end">0</text><text x="39.6" y="240.40" text-anchor="end">5</text><text x="39.6" y="192.60" text-anchor="end">10</text><text x="39.6" y="144.80" text-anchor="end">15</text><text x="39.6" y="97.00" text-anchor="end">20</text><text x="39.6" y="49.20" text-anchor="end">25</text></g><text transform="translate(2.8,215.0) rotate(-90)" text-anchor="middle" font-size="14.8">Dipole</text><line x1="48.60" x2="48.60" y1="408" y2="413.6" stroke="#000" stroke-width="0.9"/><text x="48.60" y="425.8" text-anchor="middle" font-size="9.72">0</text><line x1="89.41" x2="89.41" y1="408" y2="413.6" stroke="#000" stroke-width="0.9"/><text x="89.41" y="425.8" text-anchor="middle" font-size="9.72">50</text><line x1="130.22" x2="130.22" y1="408" y2="413.6" stroke="#000" stroke-width="0.9"/><text x="130.22" y="425.8" text-anchor="middle" font-size="9.72">100</text><line x1="171.03" x2="171.03" y1="408" y2="413.6" stroke="#000" stroke-width="0.9"/><text x="171.03" y="425.8" text-anchor="middle" font-size="9.72">150</text><line x1="211.84" x2="211.84" y1="408" y2="413.6" stroke="#000" stroke-width="0.9"/><text x="211.84" y="425.8" text-anchor="middle" font-size="9.72">200</text><line x1="252.65" x2="252.65" y1="408" y2="413.6" stroke="#000" stroke-width="0.9"/><text x="252.65" y="425.8" text-anchor="middle" font-size="9.72">250</text><line x1="293.46" x2="293.46" y1="408" y2="413.6" stroke="#000" stroke-width="0.9"/><text x="293.46" y="425.8" text-anchor="middle" font-size="9.72">300</text><line x1="328.60" x2="328.60" y1="408" y2="413.6" stroke="#000" stroke-width="0.9"/><text x="328.60" y="425.8" text-anchor="middle" font-size="9.72">0</text><line x1="369.41" x2="369.41" y1="408" y2="413.6" stroke="#000" stroke-width="0.9"/><text x="369.41" y="425.8" text-anchor="middle" font-size="9.72">50</text><line x1="410.22" x2="410.22" y1="408" y2="413.6" stroke="#000" stroke-width="0.9"/><text x="410.22" y="425.8" text-anchor="middle" font-size="9.72">100</text><line x1="451.03" x2="451.03" y1="408" y2="413.6" stroke="#000" stroke-width="0.9"/><text x="451.03" y="425.8" text-anchor="middle" font-size="9.72">150</text><line x1="491.84" x2="491.84" y1="408" y2="413.6" stroke="#000" stroke-width="0.9"/><text x="491.84" y="425.8" text-anchor="middle" font-size="9.72">200</text><line x1="532.65" x2="532.65" y1="408" y2="413.6" stroke="#000" stroke-width="0.9"/><text x="532.65" y="425.8" text-anchor="middle" font-size="9.72">250</text><line x1="573.46" x2="573.46" y1="408" y2="413.6" stroke="#000" stroke-width="0.9"/><text x="573.46" y="425.8" text-anchor="middle" font-size="9.72">300</text><text x="181.65" y="16.2" text-anchor="middle" font-size="16.67">18.1 (LBF1=2041) X</text><text x="461.6" y="16.2" text-anchor="middle" font-size="16.67">18.1 (LBF1=2041) Y</text></svg></body></html>
